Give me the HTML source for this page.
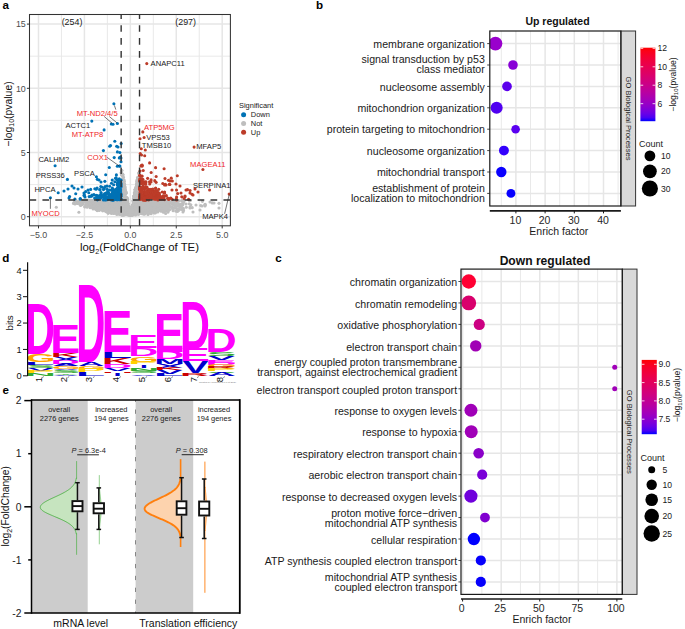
<!DOCTYPE html><html><head><meta charset="utf-8"><style>html,body{margin:0;padding:0;background:#fff;width:685px;height:629px;overflow:hidden}svg{display:block;font-family:"Liberation Sans",sans-serif}</style></head><body>
<svg width="685" height="629" viewBox="0 0 685 629">
<rect width="685" height="629" fill="#fff"/>
<g>
<g stroke="#EBEBEB">
<line x1="61.46" y1="14.5" x2="61.46" y2="225.8" stroke="#E6E6E6" stroke-width="0.9"/>
<line x1="107.39" y1="14.5" x2="107.39" y2="225.8" stroke="#E6E6E6" stroke-width="0.9"/>
<line x1="153.31" y1="14.5" x2="153.31" y2="225.8" stroke="#E6E6E6" stroke-width="0.9"/>
<line x1="199.24" y1="14.5" x2="199.24" y2="225.8" stroke="#E6E6E6" stroke-width="0.9"/>
<line x1="29.5" y1="184.6" x2="230.4" y2="184.6" stroke="#E6E6E6" stroke-width="0.9"/>
<line x1="29.5" y1="120.4" x2="230.4" y2="120.4" stroke="#E6E6E6" stroke-width="0.9"/>
<line x1="29.5" y1="56.2" x2="230.4" y2="56.2" stroke="#E6E6E6" stroke-width="0.9"/>
<line x1="38.5" y1="14.5" x2="38.5" y2="225.8" stroke="#E6E6E6" stroke-width="1.5"/>
<line x1="84.42" y1="14.5" x2="84.42" y2="225.8" stroke="#E6E6E6" stroke-width="1.5"/>
<line x1="130.35" y1="14.5" x2="130.35" y2="225.8" stroke="#E6E6E6" stroke-width="1.5"/>
<line x1="176.28" y1="14.5" x2="176.28" y2="225.8" stroke="#E6E6E6" stroke-width="1.5"/>
<line x1="222.2" y1="14.5" x2="222.2" y2="225.8" stroke="#E6E6E6" stroke-width="1.5"/>
<line x1="29.5" y1="216.7" x2="230.4" y2="216.7" stroke="#E6E6E6" stroke-width="1.5"/>
<line x1="29.5" y1="152.5" x2="230.4" y2="152.5" stroke="#E6E6E6" stroke-width="1.5"/>
<line x1="29.5" y1="88.3" x2="230.4" y2="88.3" stroke="#E6E6E6" stroke-width="1.5"/>
<line x1="29.5" y1="24.1" x2="230.4" y2="24.1" stroke="#E6E6E6" stroke-width="1.5"/>
</g>
<clipPath id="cpa"><rect x="29.5" y="14.5" width="200.9" height="211.3"/></clipPath>
<g clip-path="url(#cpa)">
<g fill="#BEBEBE">
<circle cx="175.24" cy="205.06" r="1.55"/>
<circle cx="130.16" cy="214.55" r="1.55"/>
<circle cx="120.89" cy="202.65" r="1.55"/>
<circle cx="141.08" cy="200.56" r="1.55"/>
<circle cx="151.86" cy="207.5" r="1.55"/>
<circle cx="132.37" cy="207.36" r="1.55"/>
<circle cx="104.55" cy="202.53" r="1.55"/>
<circle cx="118.97" cy="202.9" r="1.55"/>
<circle cx="127.76" cy="203.43" r="1.55"/>
<circle cx="151.62" cy="200.45" r="1.55"/>
<circle cx="168.9" cy="207.2" r="1.55"/>
<circle cx="108.22" cy="211.34" r="1.55"/>
<circle cx="104.23" cy="201.55" r="1.55"/>
<circle cx="142.56" cy="203.42" r="1.55"/>
<circle cx="148.12" cy="206.59" r="1.55"/>
<circle cx="165.8" cy="204.41" r="1.55"/>
<circle cx="102.03" cy="207.02" r="1.55"/>
<circle cx="111.64" cy="211.56" r="1.55"/>
<circle cx="173.71" cy="203.62" r="1.55"/>
<circle cx="163.39" cy="201.76" r="1.55"/>
<circle cx="150.15" cy="208.7" r="1.55"/>
<circle cx="149.09" cy="205.83" r="1.55"/>
<circle cx="182.1" cy="204.05" r="1.55"/>
<circle cx="97.91" cy="206.35" r="1.55"/>
<circle cx="142.71" cy="200.74" r="1.55"/>
<circle cx="100.83" cy="204.43" r="1.55"/>
<circle cx="107.09" cy="200.67" r="1.55"/>
<circle cx="121.14" cy="202.92" r="1.55"/>
<circle cx="121.21" cy="209.23" r="1.55"/>
<circle cx="98.43" cy="206.43" r="1.55"/>
<circle cx="108.31" cy="201.18" r="1.55"/>
<circle cx="159.71" cy="206.46" r="1.55"/>
<circle cx="109.53" cy="204.5" r="1.55"/>
<circle cx="121.12" cy="205.41" r="1.55"/>
<circle cx="173.06" cy="208.46" r="1.55"/>
<circle cx="157.4" cy="201" r="1.55"/>
<circle cx="155.74" cy="207.17" r="1.55"/>
<circle cx="133.79" cy="203.66" r="1.55"/>
<circle cx="135.69" cy="211.23" r="1.55"/>
<circle cx="80.56" cy="205.55" r="1.55"/>
<circle cx="89.93" cy="205.24" r="1.55"/>
<circle cx="152.75" cy="209.16" r="1.55"/>
<circle cx="158.2" cy="207.54" r="1.55"/>
<circle cx="80.68" cy="202.09" r="1.55"/>
<circle cx="115.3" cy="208.13" r="1.55"/>
<circle cx="130.66" cy="213.85" r="1.55"/>
<circle cx="139.53" cy="206.04" r="1.55"/>
<circle cx="115.85" cy="207.18" r="1.55"/>
<circle cx="159.68" cy="210.06" r="1.55"/>
<circle cx="124.81" cy="201.94" r="1.55"/>
<circle cx="113.64" cy="213.04" r="1.55"/>
<circle cx="91.83" cy="207.5" r="1.55"/>
<circle cx="106.31" cy="203.29" r="1.55"/>
<circle cx="150.33" cy="212.67" r="1.55"/>
<circle cx="114.88" cy="206.84" r="1.55"/>
<circle cx="147.52" cy="201.02" r="1.55"/>
<circle cx="133.53" cy="201.42" r="1.55"/>
<circle cx="124.03" cy="185.68" r="1.55"/>
<circle cx="152.39" cy="208.1" r="1.55"/>
<circle cx="97.38" cy="209.05" r="1.55"/>
<circle cx="117.98" cy="200.46" r="1.55"/>
<circle cx="134.75" cy="200.13" r="1.55"/>
<circle cx="77.4" cy="203.09" r="1.55"/>
<circle cx="166.03" cy="205.75" r="1.55"/>
<circle cx="106.54" cy="200.38" r="1.55"/>
<circle cx="111.24" cy="201.45" r="1.55"/>
<circle cx="147.1" cy="209.84" r="1.55"/>
<circle cx="160.11" cy="208.15" r="1.55"/>
<circle cx="141.33" cy="211.07" r="1.55"/>
<circle cx="109.77" cy="203.07" r="1.55"/>
<circle cx="131.19" cy="211.14" r="1.55"/>
<circle cx="106.09" cy="205.84" r="1.55"/>
<circle cx="121.81" cy="174.23" r="1.55"/>
<circle cx="124.6" cy="204.56" r="1.55"/>
<circle cx="94.24" cy="201.08" r="1.55"/>
<circle cx="111.06" cy="209.66" r="1.55"/>
<circle cx="109.3" cy="200.36" r="1.55"/>
<circle cx="165.66" cy="213.43" r="1.55"/>
<circle cx="178.81" cy="209.27" r="1.55"/>
<circle cx="127.11" cy="200.3" r="1.55"/>
<circle cx="92.38" cy="200.43" r="1.55"/>
<circle cx="158.12" cy="200.87" r="1.55"/>
<circle cx="161.55" cy="208.36" r="1.55"/>
<circle cx="153.18" cy="200.65" r="1.55"/>
<circle cx="113.11" cy="210.84" r="1.55"/>
<circle cx="110.54" cy="201.38" r="1.55"/>
<circle cx="138.22" cy="204.14" r="1.55"/>
<circle cx="149.86" cy="205.22" r="1.55"/>
<circle cx="97.03" cy="204.27" r="1.55"/>
<circle cx="139.95" cy="210.62" r="1.55"/>
<circle cx="166.12" cy="208.23" r="1.55"/>
<circle cx="77.32" cy="203.25" r="1.55"/>
<circle cx="94.34" cy="207.44" r="1.55"/>
<circle cx="88.68" cy="202.05" r="1.55"/>
<circle cx="106.7" cy="201.1" r="1.55"/>
<circle cx="87.46" cy="201.4" r="1.55"/>
<circle cx="134.81" cy="194.92" r="1.55"/>
<circle cx="179.18" cy="205.32" r="1.55"/>
<circle cx="119.88" cy="202.16" r="1.55"/>
<circle cx="125.22" cy="199.96" r="1.55"/>
<circle cx="122.68" cy="203.5" r="1.55"/>
<circle cx="120.65" cy="201.29" r="1.55"/>
<circle cx="123.08" cy="176.91" r="1.55"/>
<circle cx="121.92" cy="199.83" r="1.55"/>
<circle cx="141.32" cy="207.56" r="1.55"/>
<circle cx="136.27" cy="195.59" r="1.55"/>
<circle cx="105.68" cy="207.19" r="1.55"/>
<circle cx="155.69" cy="208.77" r="1.55"/>
<circle cx="122.34" cy="174.82" r="1.55"/>
<circle cx="163.5" cy="209.38" r="1.55"/>
<circle cx="139.51" cy="177.17" r="1.55"/>
<circle cx="118.74" cy="208.69" r="1.55"/>
<circle cx="97.32" cy="200.6" r="1.55"/>
<circle cx="117.82" cy="212.27" r="1.55"/>
<circle cx="117.36" cy="208.69" r="1.55"/>
<circle cx="149.12" cy="204.25" r="1.55"/>
<circle cx="130.12" cy="214.4" r="1.55"/>
<circle cx="107.34" cy="200.77" r="1.55"/>
<circle cx="108.7" cy="205.41" r="1.55"/>
<circle cx="150.41" cy="206.17" r="1.55"/>
<circle cx="136.37" cy="208.03" r="1.55"/>
<circle cx="149.08" cy="207.24" r="1.55"/>
<circle cx="178.68" cy="206.31" r="1.55"/>
<circle cx="140.61" cy="200.95" r="1.55"/>
<circle cx="123.02" cy="183.57" r="1.55"/>
<circle cx="143.25" cy="212.32" r="1.55"/>
<circle cx="120.11" cy="212.63" r="1.55"/>
<circle cx="104.08" cy="203.97" r="1.55"/>
<circle cx="113.71" cy="203.83" r="1.55"/>
<circle cx="122.6" cy="191.88" r="1.55"/>
<circle cx="115.91" cy="204.47" r="1.55"/>
<circle cx="137.38" cy="211.48" r="1.55"/>
<circle cx="149.53" cy="203.35" r="1.55"/>
<circle cx="110.98" cy="211.98" r="1.55"/>
<circle cx="141.4" cy="204.66" r="1.55"/>
<circle cx="141.31" cy="208.03" r="1.55"/>
<circle cx="129.65" cy="213.18" r="1.55"/>
<circle cx="144.53" cy="210.83" r="1.55"/>
<circle cx="147.23" cy="206.52" r="1.55"/>
<circle cx="149.39" cy="205.71" r="1.55"/>
<circle cx="90" cy="206.13" r="1.55"/>
<circle cx="134.06" cy="201.3" r="1.55"/>
<circle cx="111.36" cy="201.91" r="1.55"/>
<circle cx="183.41" cy="208.89" r="1.55"/>
<circle cx="122.77" cy="174.69" r="1.55"/>
<circle cx="141.23" cy="201.2" r="1.55"/>
<circle cx="136.57" cy="211.53" r="1.55"/>
<circle cx="127.88" cy="207.89" r="1.55"/>
<circle cx="123.56" cy="190.83" r="1.55"/>
<circle cx="178.39" cy="210.7" r="1.55"/>
<circle cx="80.8" cy="202.32" r="1.55"/>
<circle cx="112.25" cy="201.12" r="1.55"/>
<circle cx="109.86" cy="209.54" r="1.55"/>
<circle cx="182.69" cy="205.03" r="1.55"/>
<circle cx="89.34" cy="204.82" r="1.55"/>
<circle cx="161.1" cy="210.02" r="1.55"/>
<circle cx="106.42" cy="202.57" r="1.55"/>
<circle cx="116.27" cy="200.14" r="1.55"/>
<circle cx="159.28" cy="204.09" r="1.55"/>
<circle cx="123.95" cy="197.83" r="1.55"/>
<circle cx="117.32" cy="201.53" r="1.55"/>
<circle cx="111.47" cy="201.36" r="1.55"/>
<circle cx="155.34" cy="201.77" r="1.55"/>
<circle cx="153.73" cy="211.38" r="1.55"/>
<circle cx="139.3" cy="198.42" r="1.55"/>
<circle cx="105.72" cy="208.34" r="1.55"/>
<circle cx="160.97" cy="209.52" r="1.55"/>
<circle cx="102.01" cy="208.49" r="1.55"/>
<circle cx="86.38" cy="200.02" r="1.55"/>
<circle cx="101.75" cy="205.87" r="1.55"/>
<circle cx="139.88" cy="201.28" r="1.55"/>
<circle cx="138.95" cy="194.58" r="1.55"/>
<circle cx="159.01" cy="203.85" r="1.55"/>
<circle cx="109.8" cy="205.98" r="1.55"/>
<circle cx="101.07" cy="209.49" r="1.55"/>
<circle cx="159.27" cy="203.69" r="1.55"/>
<circle cx="127.54" cy="202.99" r="1.55"/>
<circle cx="135.72" cy="189.62" r="1.55"/>
<circle cx="146.34" cy="203.01" r="1.55"/>
<circle cx="144.93" cy="213.89" r="1.55"/>
<circle cx="149.74" cy="202.81" r="1.55"/>
<circle cx="112.66" cy="204.2" r="1.55"/>
<circle cx="127.49" cy="206.7" r="1.55"/>
<circle cx="116.76" cy="205.21" r="1.55"/>
<circle cx="104.12" cy="206.16" r="1.55"/>
<circle cx="128.7" cy="209.75" r="1.55"/>
<circle cx="172.16" cy="200.56" r="1.55"/>
<circle cx="152.91" cy="209.89" r="1.55"/>
<circle cx="96.49" cy="203.24" r="1.55"/>
<circle cx="112.82" cy="208.97" r="1.55"/>
<circle cx="110.63" cy="210.43" r="1.55"/>
<circle cx="126.86" cy="204.74" r="1.55"/>
<circle cx="146.23" cy="209.36" r="1.55"/>
<circle cx="138" cy="208.54" r="1.55"/>
<circle cx="132.44" cy="209.81" r="1.55"/>
<circle cx="166.08" cy="203.14" r="1.55"/>
<circle cx="147.89" cy="203.28" r="1.55"/>
<circle cx="172.45" cy="207.01" r="1.55"/>
<circle cx="144.41" cy="205.15" r="1.55"/>
<circle cx="137.57" cy="185.24" r="1.55"/>
<circle cx="146.33" cy="206.38" r="1.55"/>
<circle cx="109.81" cy="210.53" r="1.55"/>
<circle cx="165.42" cy="202.31" r="1.55"/>
<circle cx="160.63" cy="202.89" r="1.55"/>
<circle cx="131.75" cy="208.46" r="1.55"/>
<circle cx="133.22" cy="210.67" r="1.55"/>
<circle cx="140.63" cy="204.59" r="1.55"/>
<circle cx="112.01" cy="205.62" r="1.55"/>
<circle cx="111.79" cy="211.54" r="1.55"/>
<circle cx="158.86" cy="206.4" r="1.55"/>
<circle cx="146.7" cy="207.33" r="1.55"/>
<circle cx="87.9" cy="201.56" r="1.55"/>
<circle cx="108.87" cy="204.69" r="1.55"/>
<circle cx="186.25" cy="207.29" r="1.55"/>
<circle cx="144.57" cy="204.67" r="1.55"/>
<circle cx="205.04" cy="205.29" r="1.55"/>
<circle cx="165.29" cy="208.87" r="1.55"/>
<circle cx="118.96" cy="208.23" r="1.55"/>
<circle cx="109.1" cy="202.51" r="1.55"/>
<circle cx="117.12" cy="201.18" r="1.55"/>
<circle cx="140.97" cy="201.5" r="1.55"/>
<circle cx="123.51" cy="201.01" r="1.55"/>
<circle cx="181.37" cy="203.79" r="1.55"/>
<circle cx="156.57" cy="204.12" r="1.55"/>
<circle cx="112.64" cy="207.95" r="1.55"/>
<circle cx="120.72" cy="200.63" r="1.55"/>
<circle cx="142.74" cy="206.01" r="1.55"/>
<circle cx="113.82" cy="208.85" r="1.55"/>
<circle cx="155.25" cy="207.3" r="1.55"/>
<circle cx="99.34" cy="207.73" r="1.55"/>
<circle cx="153.68" cy="200.32" r="1.55"/>
<circle cx="119.31" cy="204.34" r="1.55"/>
<circle cx="147.4" cy="210.39" r="1.55"/>
<circle cx="159.55" cy="201" r="1.55"/>
<circle cx="173.1" cy="210.72" r="1.55"/>
<circle cx="127.51" cy="204.9" r="1.55"/>
<circle cx="144.86" cy="206.11" r="1.55"/>
<circle cx="119.5" cy="205.13" r="1.55"/>
<circle cx="144.76" cy="211.58" r="1.55"/>
<circle cx="104.82" cy="200.93" r="1.55"/>
<circle cx="161.47" cy="205.08" r="1.55"/>
<circle cx="160.74" cy="210.96" r="1.55"/>
<circle cx="121.05" cy="212.27" r="1.55"/>
<circle cx="113.6" cy="213.38" r="1.55"/>
<circle cx="120.09" cy="207.07" r="1.55"/>
<circle cx="166.38" cy="200.83" r="1.55"/>
<circle cx="144.72" cy="210.77" r="1.55"/>
<circle cx="115.79" cy="212.26" r="1.55"/>
<circle cx="103.5" cy="201" r="1.55"/>
<circle cx="127.98" cy="206.48" r="1.55"/>
<circle cx="145.24" cy="206.4" r="1.55"/>
<circle cx="106.57" cy="206.23" r="1.55"/>
<circle cx="108.68" cy="200.21" r="1.55"/>
<circle cx="126.71" cy="201.77" r="1.55"/>
<circle cx="126.11" cy="208.44" r="1.55"/>
<circle cx="122.15" cy="192.3" r="1.55"/>
<circle cx="128.65" cy="209.61" r="1.55"/>
<circle cx="144.76" cy="204.14" r="1.55"/>
<circle cx="175.06" cy="207.24" r="1.55"/>
<circle cx="154.7" cy="201.28" r="1.55"/>
<circle cx="116.13" cy="208.27" r="1.55"/>
<circle cx="151.35" cy="204.49" r="1.55"/>
<circle cx="143.93" cy="208.88" r="1.55"/>
<circle cx="176.64" cy="210.44" r="1.55"/>
<circle cx="152.61" cy="206.3" r="1.55"/>
<circle cx="115.92" cy="202.61" r="1.55"/>
<circle cx="111.49" cy="205.71" r="1.55"/>
<circle cx="100.54" cy="206.66" r="1.55"/>
<circle cx="140.26" cy="207.85" r="1.55"/>
<circle cx="145.16" cy="200.5" r="1.55"/>
<circle cx="117.89" cy="205.14" r="1.55"/>
<circle cx="129.18" cy="212.8" r="1.55"/>
<circle cx="108.55" cy="209.46" r="1.55"/>
<circle cx="105.86" cy="207.71" r="1.55"/>
<circle cx="77.37" cy="203.35" r="1.55"/>
<circle cx="116.64" cy="204.13" r="1.55"/>
<circle cx="142.75" cy="204.41" r="1.55"/>
<circle cx="97" cy="200.27" r="1.55"/>
<circle cx="142.31" cy="208.41" r="1.55"/>
<circle cx="129.89" cy="212.86" r="1.55"/>
<circle cx="167.51" cy="202" r="1.55"/>
<circle cx="160.65" cy="200.14" r="1.55"/>
<circle cx="141.27" cy="202.35" r="1.55"/>
<circle cx="140.73" cy="210.93" r="1.55"/>
<circle cx="218.98" cy="203.36" r="1.55"/>
<circle cx="101.14" cy="205.23" r="1.55"/>
<circle cx="93.85" cy="200.71" r="1.55"/>
<circle cx="115.18" cy="207.31" r="1.55"/>
<circle cx="152.5" cy="203.63" r="1.55"/>
<circle cx="120.49" cy="202.25" r="1.55"/>
<circle cx="115.15" cy="202.17" r="1.55"/>
<circle cx="181.8" cy="200.44" r="1.55"/>
<circle cx="156.29" cy="205.06" r="1.55"/>
<circle cx="146.18" cy="203.25" r="1.55"/>
<circle cx="153.59" cy="208.87" r="1.55"/>
<circle cx="113.02" cy="202.49" r="1.55"/>
<circle cx="118.59" cy="200.49" r="1.55"/>
<circle cx="147.51" cy="201.08" r="1.55"/>
<circle cx="115.38" cy="206.77" r="1.55"/>
<circle cx="97.94" cy="203.53" r="1.55"/>
<circle cx="145.09" cy="212.58" r="1.55"/>
<circle cx="161.7" cy="205.96" r="1.55"/>
<circle cx="152.31" cy="203.22" r="1.55"/>
<circle cx="147.76" cy="204.25" r="1.55"/>
<circle cx="142.53" cy="203.14" r="1.55"/>
<circle cx="147.85" cy="212.22" r="1.55"/>
<circle cx="130.58" cy="215.26" r="1.55"/>
<circle cx="120.55" cy="204.2" r="1.55"/>
<circle cx="154.18" cy="209.69" r="1.55"/>
<circle cx="119.98" cy="200.22" r="1.55"/>
<circle cx="126.68" cy="214.01" r="1.55"/>
<circle cx="176.43" cy="205.89" r="1.55"/>
<circle cx="107.91" cy="203.01" r="1.55"/>
<circle cx="143.19" cy="204" r="1.55"/>
<circle cx="136.79" cy="185.77" r="1.55"/>
<circle cx="164.38" cy="204.91" r="1.55"/>
<circle cx="134.65" cy="199.06" r="1.55"/>
<circle cx="147.75" cy="208.17" r="1.55"/>
<circle cx="129.21" cy="210.5" r="1.55"/>
<circle cx="124.33" cy="184.13" r="1.55"/>
<circle cx="133.14" cy="208.41" r="1.55"/>
<circle cx="111.3" cy="210.47" r="1.55"/>
<circle cx="128.12" cy="210.17" r="1.55"/>
<circle cx="142.75" cy="201.04" r="1.55"/>
<circle cx="134.02" cy="207.69" r="1.55"/>
<circle cx="168.2" cy="205.31" r="1.55"/>
<circle cx="124.32" cy="186.54" r="1.55"/>
<circle cx="101.13" cy="204.71" r="1.55"/>
<circle cx="118.56" cy="204.18" r="1.55"/>
<circle cx="134.62" cy="203.12" r="1.55"/>
<circle cx="113.3" cy="203.13" r="1.55"/>
<circle cx="166.57" cy="207.06" r="1.55"/>
<circle cx="124.53" cy="186.43" r="1.55"/>
<circle cx="132.95" cy="212.38" r="1.55"/>
<circle cx="158.85" cy="208.72" r="1.55"/>
<circle cx="104.59" cy="201.23" r="1.55"/>
<circle cx="136.12" cy="208.78" r="1.55"/>
<circle cx="120.16" cy="205" r="1.55"/>
<circle cx="204.97" cy="204.62" r="1.55"/>
<circle cx="92.42" cy="204.65" r="1.55"/>
<circle cx="160.06" cy="207.57" r="1.55"/>
<circle cx="154.8" cy="212.36" r="1.55"/>
<circle cx="141.13" cy="205.71" r="1.55"/>
<circle cx="143.34" cy="202.34" r="1.55"/>
<circle cx="123.98" cy="205.63" r="1.55"/>
<circle cx="164.07" cy="200.25" r="1.55"/>
<circle cx="152.3" cy="204.76" r="1.55"/>
<circle cx="142.63" cy="206.17" r="1.55"/>
<circle cx="144.15" cy="203.42" r="1.55"/>
<circle cx="115.29" cy="205.12" r="1.55"/>
<circle cx="139.56" cy="203.48" r="1.55"/>
<circle cx="133.77" cy="203.37" r="1.55"/>
<circle cx="134.2" cy="209.02" r="1.55"/>
<circle cx="109.23" cy="207.37" r="1.55"/>
<circle cx="93.53" cy="207.62" r="1.55"/>
<circle cx="107.53" cy="202.39" r="1.55"/>
<circle cx="91.91" cy="200.79" r="1.55"/>
<circle cx="121.64" cy="197.73" r="1.55"/>
<circle cx="160.68" cy="209.42" r="1.55"/>
<circle cx="115.32" cy="203.77" r="1.55"/>
<circle cx="166.12" cy="201.68" r="1.55"/>
<circle cx="109.52" cy="201.51" r="1.55"/>
<circle cx="119.15" cy="204.58" r="1.55"/>
<circle cx="134.18" cy="206.6" r="1.55"/>
<circle cx="124.09" cy="181.29" r="1.55"/>
<circle cx="120.32" cy="204.27" r="1.55"/>
<circle cx="116.71" cy="204.72" r="1.55"/>
<circle cx="105.33" cy="201.26" r="1.55"/>
<circle cx="116.79" cy="200.05" r="1.55"/>
<circle cx="88.99" cy="204.07" r="1.55"/>
<circle cx="189.32" cy="200.54" r="1.55"/>
<circle cx="143.54" cy="203.87" r="1.55"/>
<circle cx="112.36" cy="201.28" r="1.55"/>
<circle cx="123.22" cy="181.95" r="1.55"/>
<circle cx="150.59" cy="209.64" r="1.55"/>
<circle cx="146.62" cy="203.76" r="1.55"/>
<circle cx="110.83" cy="200.94" r="1.55"/>
<circle cx="157.65" cy="203.6" r="1.55"/>
<circle cx="118.59" cy="200.61" r="1.55"/>
<circle cx="140.99" cy="207.02" r="1.55"/>
<circle cx="78.78" cy="201.38" r="1.55"/>
<circle cx="125.49" cy="205.38" r="1.55"/>
<circle cx="115.04" cy="206.15" r="1.55"/>
<circle cx="164.61" cy="203.54" r="1.55"/>
<circle cx="147.84" cy="202.6" r="1.55"/>
<circle cx="130.89" cy="213.11" r="1.55"/>
<circle cx="156.46" cy="206.65" r="1.55"/>
<circle cx="126.65" cy="204.82" r="1.55"/>
<circle cx="112.1" cy="200.91" r="1.55"/>
<circle cx="124.34" cy="207.41" r="1.55"/>
<circle cx="95.73" cy="206.55" r="1.55"/>
<circle cx="137.09" cy="188.2" r="1.55"/>
<circle cx="166.5" cy="210.51" r="1.55"/>
<circle cx="113.6" cy="204.39" r="1.55"/>
<circle cx="128.31" cy="207.29" r="1.55"/>
<circle cx="128.39" cy="211.23" r="1.55"/>
<circle cx="143.87" cy="210.65" r="1.55"/>
<circle cx="159.05" cy="203.21" r="1.55"/>
<circle cx="165.71" cy="200.31" r="1.55"/>
<circle cx="99.51" cy="207" r="1.55"/>
<circle cx="136.96" cy="180.06" r="1.55"/>
<circle cx="164.68" cy="209.12" r="1.55"/>
<circle cx="142.9" cy="205.72" r="1.55"/>
<circle cx="101.74" cy="205.07" r="1.55"/>
<circle cx="161.18" cy="208.44" r="1.55"/>
<circle cx="182.77" cy="201.37" r="1.55"/>
<circle cx="117.9" cy="208.96" r="1.55"/>
<circle cx="119.39" cy="207" r="1.55"/>
<circle cx="101.72" cy="202.58" r="1.55"/>
<circle cx="142.58" cy="202.41" r="1.55"/>
<circle cx="100.6" cy="205.31" r="1.55"/>
<circle cx="112.31" cy="210.76" r="1.55"/>
<circle cx="142.65" cy="207.37" r="1.55"/>
<circle cx="98.28" cy="204.01" r="1.55"/>
<circle cx="118.55" cy="204.8" r="1.55"/>
<circle cx="202.39" cy="201.37" r="1.55"/>
<circle cx="107.99" cy="202.49" r="1.55"/>
<circle cx="111.07" cy="202.53" r="1.55"/>
<circle cx="132.19" cy="207.78" r="1.55"/>
<circle cx="139.5" cy="195.1" r="1.55"/>
<circle cx="140.57" cy="204.99" r="1.55"/>
<circle cx="93.13" cy="202.37" r="1.55"/>
<circle cx="141.81" cy="204.04" r="1.55"/>
<circle cx="120.95" cy="200.79" r="1.55"/>
<circle cx="109.48" cy="205.43" r="1.55"/>
<circle cx="115.4" cy="203.92" r="1.55"/>
<circle cx="151.1" cy="202.31" r="1.55"/>
<circle cx="110.83" cy="200.05" r="1.55"/>
<circle cx="165.49" cy="207.9" r="1.55"/>
<circle cx="135.57" cy="206.87" r="1.55"/>
<circle cx="116.91" cy="203.49" r="1.55"/>
<circle cx="116.68" cy="200.11" r="1.55"/>
<circle cx="120.5" cy="204.47" r="1.55"/>
<circle cx="123.24" cy="198.25" r="1.55"/>
<circle cx="161.56" cy="206.25" r="1.55"/>
<circle cx="153.24" cy="206.87" r="1.55"/>
<circle cx="156.58" cy="208.35" r="1.55"/>
<circle cx="120.97" cy="200.4" r="1.55"/>
<circle cx="117.19" cy="208.3" r="1.55"/>
<circle cx="140.3" cy="207.45" r="1.55"/>
<circle cx="141.71" cy="204.18" r="1.55"/>
<circle cx="156.32" cy="210.7" r="1.55"/>
<circle cx="146.74" cy="205.08" r="1.55"/>
<circle cx="115.21" cy="201.46" r="1.55"/>
<circle cx="128.99" cy="214.33" r="1.55"/>
<circle cx="148.63" cy="203.31" r="1.55"/>
<circle cx="173.13" cy="203.21" r="1.55"/>
<circle cx="160.46" cy="204.35" r="1.55"/>
<circle cx="153.72" cy="208.67" r="1.55"/>
<circle cx="96.33" cy="205.76" r="1.55"/>
<circle cx="113.13" cy="207.88" r="1.55"/>
<circle cx="153.61" cy="203.15" r="1.55"/>
<circle cx="183.52" cy="210.58" r="1.55"/>
<circle cx="142.63" cy="204.35" r="1.55"/>
<circle cx="205.18" cy="204.18" r="1.55"/>
<circle cx="115.92" cy="200.21" r="1.55"/>
<circle cx="110.45" cy="200.79" r="1.55"/>
<circle cx="95.64" cy="209.21" r="1.55"/>
<circle cx="178.6" cy="203.81" r="1.55"/>
<circle cx="128.11" cy="211.38" r="1.55"/>
<circle cx="127.04" cy="212" r="1.55"/>
<circle cx="127.27" cy="208.42" r="1.55"/>
<circle cx="107.53" cy="204.14" r="1.55"/>
<circle cx="154.8" cy="211.88" r="1.55"/>
<circle cx="106.18" cy="205.97" r="1.55"/>
<circle cx="108.32" cy="206.41" r="1.55"/>
<circle cx="107.39" cy="201.83" r="1.55"/>
<circle cx="151.27" cy="206.52" r="1.55"/>
<circle cx="150.37" cy="211.56" r="1.55"/>
<circle cx="140.02" cy="209.34" r="1.55"/>
<circle cx="138.3" cy="191.52" r="1.55"/>
<circle cx="139.98" cy="210.27" r="1.55"/>
<circle cx="115.45" cy="212.15" r="1.55"/>
<circle cx="114.58" cy="212.81" r="1.55"/>
<circle cx="104.68" cy="202.53" r="1.55"/>
<circle cx="140.46" cy="211.5" r="1.55"/>
<circle cx="136.04" cy="192.51" r="1.55"/>
<circle cx="147.23" cy="200.84" r="1.55"/>
<circle cx="121.05" cy="202.81" r="1.55"/>
<circle cx="167.21" cy="205.14" r="1.55"/>
<circle cx="135.43" cy="193.12" r="1.55"/>
<circle cx="110.21" cy="200.18" r="1.55"/>
<circle cx="161.19" cy="211.07" r="1.55"/>
<circle cx="74.5" cy="200.79" r="1.55"/>
<circle cx="168.43" cy="205.6" r="1.55"/>
<circle cx="121.73" cy="193.72" r="1.55"/>
<circle cx="110.81" cy="204.58" r="1.55"/>
<circle cx="149.94" cy="202.9" r="1.55"/>
<circle cx="119.64" cy="203.43" r="1.55"/>
<circle cx="114.64" cy="202.93" r="1.55"/>
<circle cx="114.97" cy="202.29" r="1.55"/>
<circle cx="153.55" cy="201.97" r="1.55"/>
<circle cx="137.58" cy="197.99" r="1.55"/>
<circle cx="123.21" cy="209.06" r="1.55"/>
<circle cx="154.45" cy="210.28" r="1.55"/>
<circle cx="118.06" cy="204.93" r="1.55"/>
<circle cx="107.92" cy="201.06" r="1.55"/>
<circle cx="155.19" cy="205.88" r="1.55"/>
<circle cx="91.76" cy="205.48" r="1.55"/>
<circle cx="107.05" cy="208.29" r="1.55"/>
<circle cx="142.88" cy="201.67" r="1.55"/>
<circle cx="159.36" cy="201.87" r="1.55"/>
<circle cx="123.39" cy="177.28" r="1.55"/>
<circle cx="98.2" cy="200.56" r="1.55"/>
<circle cx="109.86" cy="203.46" r="1.55"/>
<circle cx="112.7" cy="201.51" r="1.55"/>
<circle cx="159.02" cy="200.51" r="1.55"/>
<circle cx="131.9" cy="206.97" r="1.55"/>
<circle cx="131.7" cy="212.01" r="1.55"/>
<circle cx="165.41" cy="209.02" r="1.55"/>
<circle cx="124.28" cy="191.33" r="1.55"/>
<circle cx="112.9" cy="208.44" r="1.55"/>
<circle cx="99.81" cy="202.14" r="1.55"/>
<circle cx="130.52" cy="214.77" r="1.55"/>
<circle cx="93.79" cy="200.16" r="1.55"/>
<circle cx="105.17" cy="205.58" r="1.55"/>
<circle cx="104.84" cy="202.63" r="1.55"/>
<circle cx="116.34" cy="206.79" r="1.55"/>
<circle cx="146.86" cy="207.6" r="1.55"/>
<circle cx="127.03" cy="198.78" r="1.55"/>
<circle cx="126.43" cy="209.77" r="1.55"/>
<circle cx="99.82" cy="209.8" r="1.55"/>
<circle cx="129.6" cy="213.22" r="1.55"/>
<circle cx="149.34" cy="209.81" r="1.55"/>
<circle cx="121.88" cy="185.56" r="1.55"/>
<circle cx="110.14" cy="203.26" r="1.55"/>
<circle cx="154.84" cy="205.93" r="1.55"/>
<circle cx="147.32" cy="210.13" r="1.55"/>
<circle cx="129.08" cy="209.18" r="1.55"/>
<circle cx="111.92" cy="206.22" r="1.55"/>
<circle cx="123.94" cy="179.99" r="1.55"/>
<circle cx="140.09" cy="204.4" r="1.55"/>
<circle cx="145.94" cy="205.62" r="1.55"/>
<circle cx="173.27" cy="208.98" r="1.55"/>
<circle cx="143.1" cy="212.36" r="1.55"/>
<circle cx="127.46" cy="204.55" r="1.55"/>
<circle cx="106.21" cy="210.86" r="1.55"/>
<circle cx="158.61" cy="207.88" r="1.55"/>
<circle cx="153.99" cy="212.87" r="1.55"/>
<circle cx="151.87" cy="208.44" r="1.55"/>
<circle cx="127.64" cy="205.71" r="1.55"/>
<circle cx="95.44" cy="203.11" r="1.55"/>
<circle cx="123.25" cy="200.05" r="1.55"/>
<circle cx="117.76" cy="212.85" r="1.55"/>
<circle cx="153.51" cy="203.44" r="1.55"/>
<circle cx="76.29" cy="200.87" r="1.55"/>
<circle cx="116.95" cy="205.05" r="1.55"/>
<circle cx="158.2" cy="210.5" r="1.55"/>
<circle cx="113.63" cy="206.58" r="1.55"/>
<circle cx="164.24" cy="202.02" r="1.55"/>
<circle cx="87.2" cy="207.31" r="1.55"/>
<circle cx="113.7" cy="208.52" r="1.55"/>
<circle cx="112.24" cy="207.66" r="1.55"/>
<circle cx="117.11" cy="208.56" r="1.55"/>
<circle cx="102.52" cy="204.85" r="1.55"/>
<circle cx="121.49" cy="207.05" r="1.55"/>
<circle cx="88.05" cy="202.09" r="1.55"/>
<circle cx="129.57" cy="212.3" r="1.55"/>
<circle cx="147.29" cy="209.86" r="1.55"/>
<circle cx="105.56" cy="203.19" r="1.55"/>
<circle cx="116.64" cy="209.05" r="1.55"/>
<circle cx="84.3" cy="201.62" r="1.55"/>
<circle cx="117.87" cy="204.78" r="1.55"/>
<circle cx="128.86" cy="207.42" r="1.55"/>
<circle cx="144.65" cy="202.19" r="1.55"/>
<circle cx="140.23" cy="210.79" r="1.55"/>
<circle cx="121.79" cy="189.26" r="1.55"/>
<circle cx="96.15" cy="204.75" r="1.55"/>
<circle cx="142.04" cy="213.67" r="1.55"/>
<circle cx="107.31" cy="200.85" r="1.55"/>
<circle cx="156.59" cy="200.33" r="1.55"/>
<circle cx="123.5" cy="187.52" r="1.55"/>
<circle cx="106.86" cy="200.84" r="1.55"/>
<circle cx="115.63" cy="204.33" r="1.55"/>
<circle cx="177.37" cy="211.54" r="1.55"/>
<circle cx="126.66" cy="202.87" r="1.55"/>
<circle cx="124.54" cy="209.33" r="1.55"/>
<circle cx="156.73" cy="205.32" r="1.55"/>
<circle cx="165.26" cy="200.24" r="1.55"/>
<circle cx="137.54" cy="180.29" r="1.55"/>
<circle cx="154.24" cy="203.85" r="1.55"/>
<circle cx="189.25" cy="203.72" r="1.55"/>
<circle cx="146.48" cy="210.11" r="1.55"/>
<circle cx="111.32" cy="201.36" r="1.55"/>
<circle cx="100.43" cy="204.75" r="1.55"/>
<circle cx="135.25" cy="214.2" r="1.55"/>
<circle cx="116.24" cy="209" r="1.55"/>
<circle cx="141.07" cy="204.89" r="1.55"/>
<circle cx="130.73" cy="214.23" r="1.55"/>
<circle cx="120.27" cy="210.48" r="1.55"/>
<circle cx="105.11" cy="205.07" r="1.55"/>
<circle cx="121.03" cy="203.92" r="1.55"/>
<circle cx="125.95" cy="209.73" r="1.55"/>
<circle cx="183.11" cy="203.42" r="1.55"/>
<circle cx="142.92" cy="200.34" r="1.55"/>
<circle cx="112.99" cy="209.74" r="1.55"/>
<circle cx="108.06" cy="207.15" r="1.55"/>
<circle cx="175.51" cy="201.02" r="1.55"/>
<circle cx="156.42" cy="211.1" r="1.55"/>
<circle cx="132.61" cy="209.28" r="1.55"/>
<circle cx="140.23" cy="212.85" r="1.55"/>
<circle cx="168.18" cy="201.71" r="1.55"/>
<circle cx="75.59" cy="200.14" r="1.55"/>
<circle cx="141.95" cy="212.78" r="1.55"/>
<circle cx="83.09" cy="203.97" r="1.55"/>
<circle cx="105.41" cy="208.66" r="1.55"/>
<circle cx="116.07" cy="202.15" r="1.55"/>
<circle cx="127.05" cy="197.78" r="1.55"/>
<circle cx="167.63" cy="211.58" r="1.55"/>
<circle cx="143.61" cy="211.32" r="1.55"/>
<circle cx="142.5" cy="205" r="1.55"/>
<circle cx="153.68" cy="204.96" r="1.55"/>
<circle cx="124.65" cy="203.87" r="1.55"/>
<circle cx="149.41" cy="207.51" r="1.55"/>
<circle cx="142.41" cy="211.43" r="1.55"/>
<circle cx="144.14" cy="204.32" r="1.55"/>
<circle cx="117.17" cy="210.11" r="1.55"/>
<circle cx="167.61" cy="201.79" r="1.55"/>
<circle cx="113.76" cy="207.04" r="1.55"/>
<circle cx="102.89" cy="203.76" r="1.55"/>
<circle cx="116.28" cy="209.01" r="1.55"/>
<circle cx="146.45" cy="201.52" r="1.55"/>
<circle cx="122.7" cy="214.39" r="1.55"/>
<circle cx="112.79" cy="201.83" r="1.55"/>
<circle cx="135.41" cy="213.93" r="1.55"/>
<circle cx="142.99" cy="213.06" r="1.55"/>
<circle cx="142.65" cy="205.92" r="1.55"/>
<circle cx="115.11" cy="200.25" r="1.55"/>
<circle cx="115.77" cy="201.95" r="1.55"/>
<circle cx="132.94" cy="209.84" r="1.55"/>
<circle cx="162.33" cy="206.45" r="1.55"/>
<circle cx="158.08" cy="201.07" r="1.55"/>
<circle cx="118.3" cy="200.64" r="1.55"/>
<circle cx="93.07" cy="209.01" r="1.55"/>
<circle cx="138.5" cy="185.77" r="1.55"/>
<circle cx="109.8" cy="206.86" r="1.55"/>
<circle cx="108.03" cy="205.96" r="1.55"/>
<circle cx="118.01" cy="201.05" r="1.55"/>
<circle cx="127.32" cy="200.81" r="1.55"/>
<circle cx="110.5" cy="203.07" r="1.55"/>
<circle cx="111.01" cy="205.9" r="1.55"/>
<circle cx="137.57" cy="183.84" r="1.55"/>
<circle cx="138.75" cy="197.75" r="1.55"/>
<circle cx="167.88" cy="200.14" r="1.55"/>
<circle cx="154.09" cy="201.63" r="1.55"/>
<circle cx="181.22" cy="209.41" r="1.55"/>
<circle cx="82.32" cy="202.03" r="1.55"/>
<circle cx="154.99" cy="210.07" r="1.55"/>
<circle cx="128.73" cy="206.46" r="1.55"/>
<circle cx="109.17" cy="205.14" r="1.55"/>
<circle cx="137.6" cy="177.97" r="1.55"/>
<circle cx="97.62" cy="207.83" r="1.55"/>
<circle cx="109.8" cy="211.2" r="1.55"/>
<circle cx="145.38" cy="201.48" r="1.55"/>
<circle cx="107.14" cy="205.76" r="1.55"/>
<circle cx="163.32" cy="204.06" r="1.55"/>
<circle cx="155.43" cy="206.46" r="1.55"/>
<circle cx="146.12" cy="204.81" r="1.55"/>
<circle cx="91.91" cy="206.48" r="1.55"/>
<circle cx="119.24" cy="204.01" r="1.55"/>
<circle cx="157.63" cy="203.95" r="1.55"/>
<circle cx="106.27" cy="200.72" r="1.55"/>
<circle cx="119.32" cy="202.17" r="1.55"/>
<circle cx="118.22" cy="213.42" r="1.55"/>
<circle cx="118.84" cy="202.07" r="1.55"/>
<circle cx="148.35" cy="213.93" r="1.55"/>
<circle cx="121.88" cy="209.21" r="1.55"/>
<circle cx="137.58" cy="177.59" r="1.55"/>
<circle cx="127.09" cy="200.71" r="1.55"/>
<circle cx="98.78" cy="205.32" r="1.55"/>
<circle cx="113.84" cy="209.85" r="1.55"/>
<circle cx="105.32" cy="204.26" r="1.55"/>
<circle cx="167.98" cy="200.55" r="1.55"/>
<circle cx="155.27" cy="206.64" r="1.55"/>
<circle cx="172.81" cy="200.2" r="1.55"/>
<circle cx="127.84" cy="212.18" r="1.55"/>
<circle cx="111.55" cy="210.35" r="1.55"/>
<circle cx="119.95" cy="214.16" r="1.55"/>
<circle cx="116.74" cy="209.72" r="1.55"/>
<circle cx="173.49" cy="204.2" r="1.55"/>
<circle cx="153.58" cy="204.29" r="1.55"/>
<circle cx="156.74" cy="210.78" r="1.55"/>
<circle cx="139.3" cy="172.35" r="1.55"/>
<circle cx="158.87" cy="205.79" r="1.55"/>
<circle cx="107.08" cy="203.63" r="1.55"/>
<circle cx="96.44" cy="209.63" r="1.55"/>
<circle cx="118.93" cy="200.6" r="1.55"/>
<circle cx="74.82" cy="203.27" r="1.55"/>
<circle cx="117.38" cy="202.12" r="1.55"/>
<circle cx="84.95" cy="206.84" r="1.55"/>
<circle cx="153.7" cy="205.95" r="1.55"/>
<circle cx="118.1" cy="202.14" r="1.55"/>
<circle cx="144.9" cy="201.61" r="1.55"/>
<circle cx="104.87" cy="205.16" r="1.55"/>
<circle cx="181.38" cy="206.53" r="1.55"/>
<circle cx="121.36" cy="198.17" r="1.55"/>
<circle cx="140.87" cy="206" r="1.55"/>
<circle cx="128.21" cy="203.88" r="1.55"/>
<circle cx="152.95" cy="202.37" r="1.55"/>
<circle cx="108.11" cy="209.83" r="1.55"/>
<circle cx="121.12" cy="200.1" r="1.55"/>
<circle cx="147.59" cy="203.18" r="1.55"/>
<circle cx="129.64" cy="212.58" r="1.55"/>
<circle cx="136.2" cy="210.94" r="1.55"/>
<circle cx="108.89" cy="204.22" r="1.55"/>
<circle cx="102.55" cy="204.94" r="1.55"/>
<circle cx="123.07" cy="187.07" r="1.55"/>
<circle cx="169.29" cy="205.91" r="1.55"/>
<circle cx="128.32" cy="211.86" r="1.55"/>
<circle cx="121.59" cy="183.8" r="1.55"/>
<circle cx="145.2" cy="201.33" r="1.55"/>
<circle cx="151" cy="201.38" r="1.55"/>
<circle cx="136.51" cy="211.22" r="1.55"/>
<circle cx="113.58" cy="204.13" r="1.55"/>
<circle cx="138.5" cy="214.34" r="1.55"/>
<circle cx="116.52" cy="207.72" r="1.55"/>
<circle cx="147.58" cy="204.53" r="1.55"/>
<circle cx="140.98" cy="210.49" r="1.55"/>
<circle cx="131.35" cy="211.89" r="1.55"/>
<circle cx="123.36" cy="186.58" r="1.55"/>
<circle cx="150.91" cy="205.36" r="1.55"/>
<circle cx="170.52" cy="202.34" r="1.55"/>
<circle cx="138.54" cy="196.75" r="1.55"/>
<circle cx="137.65" cy="205.22" r="1.55"/>
<circle cx="170.52" cy="206.66" r="1.55"/>
<circle cx="90.71" cy="203.18" r="1.55"/>
<circle cx="108.34" cy="208.99" r="1.55"/>
<circle cx="153.35" cy="204.47" r="1.55"/>
<circle cx="141.78" cy="211.54" r="1.55"/>
<circle cx="133.72" cy="202.69" r="1.55"/>
<circle cx="140.4" cy="203.72" r="1.55"/>
<circle cx="90.67" cy="204.7" r="1.55"/>
<circle cx="120.51" cy="201.49" r="1.55"/>
<circle cx="100.92" cy="202.34" r="1.55"/>
<circle cx="124.73" cy="188.81" r="1.55"/>
<circle cx="109.04" cy="206.35" r="1.55"/>
<circle cx="167.15" cy="205.07" r="1.55"/>
<circle cx="110.93" cy="200.89" r="1.55"/>
<circle cx="144.29" cy="206.34" r="1.55"/>
<circle cx="146.7" cy="206.37" r="1.55"/>
<circle cx="157.75" cy="212.02" r="1.55"/>
<circle cx="143.75" cy="202.48" r="1.55"/>
<circle cx="118.7" cy="204.47" r="1.55"/>
<circle cx="110.75" cy="203.03" r="1.55"/>
<circle cx="147.25" cy="204.52" r="1.55"/>
<circle cx="114.82" cy="210.36" r="1.55"/>
<circle cx="111.4" cy="213.49" r="1.55"/>
<circle cx="176.65" cy="200.64" r="1.55"/>
<circle cx="138.85" cy="172.96" r="1.55"/>
<circle cx="93.77" cy="202.49" r="1.55"/>
<circle cx="118.02" cy="204.23" r="1.55"/>
<circle cx="152.38" cy="207.54" r="1.55"/>
<circle cx="133.73" cy="198.84" r="1.55"/>
<circle cx="192.24" cy="207.65" r="1.55"/>
<circle cx="106.41" cy="211.86" r="1.55"/>
<circle cx="146.3" cy="208.49" r="1.55"/>
<circle cx="130.91" cy="213.18" r="1.55"/>
<circle cx="113.19" cy="211.71" r="1.55"/>
<circle cx="122.11" cy="183.3" r="1.55"/>
<circle cx="129.06" cy="208.95" r="1.55"/>
<circle cx="135.88" cy="193.51" r="1.55"/>
<circle cx="119.08" cy="208.64" r="1.55"/>
<circle cx="118.65" cy="202.46" r="1.55"/>
<circle cx="166.26" cy="207.79" r="1.55"/>
<circle cx="116.94" cy="201.95" r="1.55"/>
<circle cx="112.41" cy="205.73" r="1.55"/>
<circle cx="164.74" cy="210.93" r="1.55"/>
<circle cx="117.65" cy="208.22" r="1.55"/>
<circle cx="118.29" cy="200.49" r="1.55"/>
<circle cx="157.46" cy="204.25" r="1.55"/>
<circle cx="121.71" cy="170.59" r="1.55"/>
<circle cx="99.17" cy="210.45" r="1.55"/>
<circle cx="149.53" cy="201.87" r="1.55"/>
<circle cx="123.04" cy="180.45" r="1.55"/>
<circle cx="124.56" cy="188.21" r="1.55"/>
<circle cx="119.85" cy="205.28" r="1.55"/>
<circle cx="155.17" cy="205.31" r="1.55"/>
<circle cx="118.83" cy="206.06" r="1.55"/>
<circle cx="115.22" cy="209.94" r="1.55"/>
<circle cx="164.61" cy="204.47" r="1.55"/>
<circle cx="97.95" cy="204.11" r="1.55"/>
<circle cx="150.94" cy="212.41" r="1.55"/>
<circle cx="102.41" cy="203.57" r="1.55"/>
<circle cx="117.16" cy="209.31" r="1.55"/>
<circle cx="114.57" cy="207.36" r="1.55"/>
<circle cx="163.36" cy="212.16" r="1.55"/>
<circle cx="110.1" cy="202.52" r="1.55"/>
<circle cx="128.5" cy="206.61" r="1.55"/>
<circle cx="125.95" cy="191.7" r="1.55"/>
<circle cx="104.83" cy="208.3" r="1.55"/>
<circle cx="150.12" cy="212.64" r="1.55"/>
<circle cx="113.61" cy="210.74" r="1.55"/>
<circle cx="135.31" cy="192.36" r="1.55"/>
<circle cx="131.14" cy="211.3" r="1.55"/>
<circle cx="145.33" cy="206.7" r="1.55"/>
<circle cx="128.5" cy="206.94" r="1.55"/>
<circle cx="94.63" cy="205.86" r="1.55"/>
<circle cx="178.6" cy="201.03" r="1.55"/>
<circle cx="147.1" cy="201.53" r="1.55"/>
<circle cx="118.73" cy="211.56" r="1.55"/>
<circle cx="160.76" cy="201.47" r="1.55"/>
<circle cx="93.33" cy="201.22" r="1.55"/>
<circle cx="177.23" cy="203.37" r="1.55"/>
<circle cx="93.88" cy="200.51" r="1.55"/>
<circle cx="121.41" cy="174.86" r="1.55"/>
<circle cx="147.24" cy="206.43" r="1.55"/>
<circle cx="105.85" cy="202.27" r="1.55"/>
<circle cx="133.43" cy="204.89" r="1.55"/>
<circle cx="127.73" cy="212.75" r="1.55"/>
<circle cx="138.36" cy="179.61" r="1.55"/>
<circle cx="141.29" cy="205.5" r="1.55"/>
<circle cx="123.37" cy="200.21" r="1.55"/>
<circle cx="94.05" cy="205.49" r="1.55"/>
<circle cx="122.29" cy="175.72" r="1.55"/>
<circle cx="150.34" cy="201.7" r="1.55"/>
<circle cx="153.62" cy="209.61" r="1.55"/>
<circle cx="172.8" cy="202" r="1.55"/>
<circle cx="139.74" cy="212.63" r="1.55"/>
<circle cx="146.07" cy="204.64" r="1.55"/>
<circle cx="132.09" cy="212.59" r="1.55"/>
<circle cx="110.18" cy="212.4" r="1.55"/>
<circle cx="120.68" cy="202.37" r="1.55"/>
<circle cx="147.22" cy="206.25" r="1.55"/>
<circle cx="137.66" cy="183.24" r="1.55"/>
<circle cx="121.49" cy="195.18" r="1.55"/>
<circle cx="117.28" cy="203.77" r="1.55"/>
<circle cx="109.12" cy="208.97" r="1.55"/>
<circle cx="154.66" cy="206.6" r="1.55"/>
<circle cx="154.04" cy="211.91" r="1.55"/>
<circle cx="109.94" cy="209.7" r="1.55"/>
<circle cx="97.39" cy="201.59" r="1.55"/>
<circle cx="123.55" cy="194.71" r="1.55"/>
<circle cx="145.55" cy="206.28" r="1.55"/>
<circle cx="114.44" cy="210.13" r="1.55"/>
<circle cx="124.9" cy="212.04" r="1.55"/>
<circle cx="127.46" cy="199.29" r="1.55"/>
<circle cx="123.5" cy="200.6" r="1.55"/>
<circle cx="113.15" cy="200.68" r="1.55"/>
<circle cx="135.83" cy="200.91" r="1.55"/>
<circle cx="166.11" cy="203.16" r="1.55"/>
<circle cx="102.87" cy="200.22" r="1.55"/>
<circle cx="157.11" cy="208.2" r="1.55"/>
<circle cx="149.97" cy="202.59" r="1.55"/>
<circle cx="117.93" cy="209.53" r="1.55"/>
<circle cx="155.94" cy="202.41" r="1.55"/>
<circle cx="172.14" cy="204.31" r="1.55"/>
<circle cx="102.13" cy="200.17" r="1.55"/>
<circle cx="149.64" cy="200.75" r="1.55"/>
<circle cx="133.45" cy="204.34" r="1.55"/>
<circle cx="131.06" cy="211.82" r="1.55"/>
<circle cx="163.06" cy="206.14" r="1.55"/>
<circle cx="126.73" cy="211.73" r="1.55"/>
<circle cx="102.68" cy="210.87" r="1.55"/>
<circle cx="118.21" cy="204.15" r="1.55"/>
<circle cx="81.9" cy="204.75" r="1.55"/>
<circle cx="138.98" cy="188.07" r="1.55"/>
<circle cx="151.75" cy="201.04" r="1.55"/>
<circle cx="117.54" cy="204.78" r="1.55"/>
<circle cx="106.78" cy="205.1" r="1.55"/>
<circle cx="156.72" cy="209.71" r="1.55"/>
<circle cx="101.71" cy="201.63" r="1.55"/>
<circle cx="115.29" cy="204.25" r="1.55"/>
<circle cx="133.92" cy="208.28" r="1.55"/>
<circle cx="111.47" cy="201.03" r="1.55"/>
<circle cx="90.97" cy="203.15" r="1.55"/>
<circle cx="117.79" cy="212.87" r="1.55"/>
<circle cx="135.77" cy="208.15" r="1.55"/>
<circle cx="131.48" cy="214.3" r="1.55"/>
<circle cx="151.3" cy="201.97" r="1.55"/>
<circle cx="151.93" cy="210.47" r="1.55"/>
<circle cx="105.95" cy="201.17" r="1.55"/>
<circle cx="112.27" cy="209.14" r="1.55"/>
<circle cx="115.56" cy="207.73" r="1.55"/>
<circle cx="112.57" cy="200.99" r="1.55"/>
<circle cx="112.39" cy="203.08" r="1.55"/>
<circle cx="122.3" cy="213.6" r="1.55"/>
<circle cx="116.24" cy="208.22" r="1.55"/>
<circle cx="115.85" cy="209.09" r="1.55"/>
<circle cx="126.89" cy="198.56" r="1.55"/>
<circle cx="108.57" cy="200.71" r="1.55"/>
<circle cx="141.47" cy="201.2" r="1.55"/>
<circle cx="120.63" cy="205.83" r="1.55"/>
<circle cx="147.4" cy="206.42" r="1.55"/>
<circle cx="130.11" cy="214.66" r="1.55"/>
<circle cx="153.89" cy="204.45" r="1.55"/>
<circle cx="116.8" cy="208.99" r="1.55"/>
<circle cx="99.72" cy="201.36" r="1.55"/>
<circle cx="78.58" cy="203.12" r="1.55"/>
<circle cx="109.45" cy="202.31" r="1.55"/>
<circle cx="136.9" cy="187.49" r="1.55"/>
<circle cx="110.33" cy="208.76" r="1.55"/>
<circle cx="112.83" cy="200.34" r="1.55"/>
<circle cx="83.09" cy="200.36" r="1.55"/>
<circle cx="136.07" cy="210.9" r="1.55"/>
<circle cx="167.29" cy="203.94" r="1.55"/>
<circle cx="142.56" cy="209.73" r="1.55"/>
<circle cx="144.96" cy="204.03" r="1.55"/>
<circle cx="135.3" cy="205.5" r="1.55"/>
<circle cx="78.5" cy="201.33" r="1.55"/>
<circle cx="150.95" cy="204.48" r="1.55"/>
<circle cx="131.75" cy="212.16" r="1.55"/>
<circle cx="128.71" cy="206.97" r="1.55"/>
<circle cx="120.07" cy="212.48" r="1.55"/>
<circle cx="118.64" cy="206.62" r="1.55"/>
<circle cx="86.03" cy="202.33" r="1.55"/>
<circle cx="117" cy="203.23" r="1.55"/>
<circle cx="145.56" cy="208.59" r="1.55"/>
<circle cx="122.1" cy="188.28" r="1.55"/>
<circle cx="146.54" cy="203.66" r="1.55"/>
<circle cx="123.31" cy="190.74" r="1.55"/>
<circle cx="158.42" cy="200.66" r="1.55"/>
<circle cx="78.31" cy="202.99" r="1.55"/>
<circle cx="98.97" cy="202.08" r="1.55"/>
<circle cx="115.5" cy="208.15" r="1.55"/>
<circle cx="131.14" cy="212.25" r="1.55"/>
<circle cx="125.88" cy="200.72" r="1.55"/>
<circle cx="90.3" cy="206.85" r="1.55"/>
<circle cx="137.61" cy="180.02" r="1.55"/>
<circle cx="139.28" cy="192.72" r="1.55"/>
<circle cx="171.66" cy="207.9" r="1.55"/>
<circle cx="149.7" cy="209.08" r="1.55"/>
<circle cx="155.79" cy="211.78" r="1.55"/>
<circle cx="146.8" cy="202.39" r="1.55"/>
<circle cx="175.8" cy="201.94" r="1.55"/>
<circle cx="106.92" cy="204.81" r="1.55"/>
<circle cx="122.78" cy="209.89" r="1.55"/>
<circle cx="139.48" cy="199.23" r="1.55"/>
<circle cx="100.37" cy="201.74" r="1.55"/>
<circle cx="157" cy="207.24" r="1.55"/>
<circle cx="144.58" cy="202.6" r="1.55"/>
<circle cx="140.29" cy="202.07" r="1.55"/>
<circle cx="91.25" cy="201.25" r="1.55"/>
<circle cx="148.28" cy="207.27" r="1.55"/>
<circle cx="97.59" cy="208.17" r="1.55"/>
<circle cx="164.82" cy="207.44" r="1.55"/>
<circle cx="119.37" cy="201.47" r="1.55"/>
<circle cx="90.84" cy="200.14" r="1.55"/>
<circle cx="119.57" cy="214.17" r="1.55"/>
<circle cx="88.19" cy="203.35" r="1.55"/>
<circle cx="142.36" cy="205.76" r="1.55"/>
<circle cx="153.65" cy="205" r="1.55"/>
<circle cx="132.68" cy="211.07" r="1.55"/>
<circle cx="135.81" cy="188.96" r="1.55"/>
<circle cx="139.35" cy="181.65" r="1.55"/>
<circle cx="128.81" cy="210.01" r="1.55"/>
<circle cx="120.88" cy="207.85" r="1.55"/>
<circle cx="140.29" cy="202.67" r="1.55"/>
<circle cx="135.54" cy="196.84" r="1.55"/>
<circle cx="108.14" cy="204.2" r="1.55"/>
<circle cx="112.42" cy="208.97" r="1.55"/>
<circle cx="135.86" cy="204.75" r="1.55"/>
<circle cx="125.31" cy="207.32" r="1.55"/>
<circle cx="138.46" cy="182.23" r="1.55"/>
<circle cx="133.08" cy="204.44" r="1.55"/>
<circle cx="125.41" cy="199.08" r="1.55"/>
<circle cx="104.09" cy="201.76" r="1.55"/>
<circle cx="118.39" cy="212.7" r="1.55"/>
<circle cx="149.7" cy="203.1" r="1.55"/>
<circle cx="139.83" cy="201.81" r="1.55"/>
<circle cx="73.93" cy="202.54" r="1.55"/>
<circle cx="116.87" cy="214.54" r="1.55"/>
<circle cx="99.98" cy="201.3" r="1.55"/>
<circle cx="110.64" cy="200.09" r="1.55"/>
<circle cx="136.57" cy="203.54" r="1.55"/>
<circle cx="105.06" cy="203.62" r="1.55"/>
<circle cx="157.2" cy="205.31" r="1.55"/>
<circle cx="121.64" cy="185.51" r="1.55"/>
<circle cx="110.64" cy="209.25" r="1.55"/>
<circle cx="174.95" cy="207.68" r="1.55"/>
<circle cx="103.08" cy="203.75" r="1.55"/>
<circle cx="169.45" cy="203.74" r="1.55"/>
<circle cx="111.48" cy="200.54" r="1.55"/>
<circle cx="126.37" cy="200.79" r="1.55"/>
<circle cx="151.21" cy="210.38" r="1.55"/>
<circle cx="127.62" cy="202.09" r="1.55"/>
<circle cx="171.32" cy="202.78" r="1.55"/>
<circle cx="106.87" cy="208.01" r="1.55"/>
<circle cx="122.06" cy="182.84" r="1.55"/>
<circle cx="118" cy="206.69" r="1.55"/>
<circle cx="164.15" cy="211.09" r="1.55"/>
<circle cx="128.51" cy="206.28" r="1.55"/>
<circle cx="132.48" cy="204.74" r="1.55"/>
<circle cx="88.23" cy="202.8" r="1.55"/>
<circle cx="175.78" cy="211.08" r="1.55"/>
<circle cx="119.86" cy="208.66" r="1.55"/>
<circle cx="156.32" cy="205.9" r="1.55"/>
<circle cx="165.23" cy="201.76" r="1.55"/>
<circle cx="139.23" cy="206.07" r="1.55"/>
<circle cx="109.94" cy="206.48" r="1.55"/>
<circle cx="168.07" cy="212.11" r="1.55"/>
<circle cx="156.04" cy="205.49" r="1.55"/>
<circle cx="120.22" cy="211.99" r="1.55"/>
<circle cx="113.17" cy="202.06" r="1.55"/>
<circle cx="120.11" cy="204.35" r="1.55"/>
<circle cx="135.9" cy="204.61" r="1.55"/>
<circle cx="134.75" cy="199.95" r="1.55"/>
<circle cx="169.63" cy="201.94" r="1.55"/>
<circle cx="87.6" cy="205.69" r="1.55"/>
<circle cx="158.76" cy="201.96" r="1.55"/>
<circle cx="139.72" cy="201.78" r="1.55"/>
<circle cx="145.23" cy="202.72" r="1.55"/>
<circle cx="93.02" cy="205.96" r="1.55"/>
<circle cx="147.93" cy="214.43" r="1.55"/>
<circle cx="125.68" cy="198.44" r="1.55"/>
<circle cx="163.73" cy="202.91" r="1.55"/>
<circle cx="117.62" cy="203.6" r="1.55"/>
<circle cx="105.01" cy="211" r="1.55"/>
<circle cx="111.35" cy="212.21" r="1.55"/>
<circle cx="113.02" cy="200.66" r="1.55"/>
<circle cx="113.39" cy="202.35" r="1.55"/>
<circle cx="137.79" cy="200.35" r="1.55"/>
<circle cx="190.07" cy="206.9" r="1.55"/>
<circle cx="153.98" cy="201.68" r="1.55"/>
<circle cx="153.2" cy="201.71" r="1.55"/>
<circle cx="90.12" cy="204.33" r="1.55"/>
<circle cx="95.74" cy="206.25" r="1.55"/>
<circle cx="112.19" cy="204.63" r="1.55"/>
<circle cx="134.23" cy="196.4" r="1.55"/>
<circle cx="94.43" cy="204.51" r="1.55"/>
<circle cx="112.79" cy="202" r="1.55"/>
<circle cx="140.15" cy="200.93" r="1.55"/>
<circle cx="138.88" cy="210.28" r="1.55"/>
<circle cx="149.91" cy="207.85" r="1.55"/>
<circle cx="116.75" cy="201" r="1.55"/>
<circle cx="117.67" cy="204.16" r="1.55"/>
<circle cx="100.35" cy="203.96" r="1.55"/>
<circle cx="107.27" cy="203.99" r="1.55"/>
<circle cx="142.26" cy="203.52" r="1.55"/>
<circle cx="125.15" cy="187.4" r="1.55"/>
<circle cx="132.27" cy="206.27" r="1.55"/>
<circle cx="135.25" cy="211.08" r="1.55"/>
<circle cx="100.23" cy="203.31" r="1.55"/>
<circle cx="117.04" cy="203.55" r="1.55"/>
<circle cx="137.81" cy="202.97" r="1.55"/>
<circle cx="158.63" cy="202.3" r="1.55"/>
<circle cx="116.87" cy="212.82" r="1.55"/>
<circle cx="108.89" cy="209.28" r="1.55"/>
<circle cx="138.99" cy="204.41" r="1.55"/>
<circle cx="99.54" cy="200.06" r="1.55"/>
<circle cx="139.72" cy="202.72" r="1.55"/>
<circle cx="111.66" cy="202.5" r="1.55"/>
<circle cx="163.28" cy="211.78" r="1.55"/>
<circle cx="171.03" cy="202.28" r="1.55"/>
<circle cx="107.36" cy="207.41" r="1.55"/>
<circle cx="150.8" cy="208.03" r="1.55"/>
<circle cx="81.79" cy="201.61" r="1.55"/>
<circle cx="129.04" cy="213.27" r="1.55"/>
<circle cx="115.52" cy="210.26" r="1.55"/>
<circle cx="129.06" cy="209.55" r="1.55"/>
<circle cx="157.04" cy="209.02" r="1.55"/>
<circle cx="149.58" cy="206.11" r="1.55"/>
<circle cx="154.92" cy="211.96" r="1.55"/>
<circle cx="163.18" cy="202.5" r="1.55"/>
<circle cx="120.48" cy="201.61" r="1.55"/>
<circle cx="168.42" cy="209.33" r="1.55"/>
<circle cx="141.25" cy="210.23" r="1.55"/>
<circle cx="115.45" cy="200.08" r="1.55"/>
<circle cx="111.37" cy="200.5" r="1.55"/>
<circle cx="141.78" cy="204.75" r="1.55"/>
<circle cx="120.75" cy="207.05" r="1.55"/>
<circle cx="145.22" cy="205.94" r="1.55"/>
<circle cx="141.45" cy="202.37" r="1.55"/>
<circle cx="113.02" cy="212.81" r="1.55"/>
<circle cx="112.43" cy="204.49" r="1.55"/>
<circle cx="148.62" cy="209.66" r="1.55"/>
<circle cx="126.06" cy="199.07" r="1.55"/>
<circle cx="150.91" cy="201.69" r="1.55"/>
<circle cx="120.64" cy="206.07" r="1.55"/>
<circle cx="104.7" cy="206.77" r="1.55"/>
<circle cx="163.52" cy="200.02" r="1.55"/>
<circle cx="87.57" cy="200.35" r="1.55"/>
<circle cx="152.1" cy="211.3" r="1.55"/>
<circle cx="141.75" cy="200.12" r="1.55"/>
<circle cx="138.13" cy="178.11" r="1.55"/>
<circle cx="124.65" cy="190.15" r="1.55"/>
<circle cx="104.72" cy="200.87" r="1.55"/>
<circle cx="125.09" cy="191.5" r="1.55"/>
<circle cx="139.99" cy="201.5" r="1.55"/>
<circle cx="166.18" cy="204.4" r="1.55"/>
<circle cx="129.03" cy="209.93" r="1.55"/>
<circle cx="91.01" cy="205.87" r="1.55"/>
<circle cx="122.4" cy="191.76" r="1.55"/>
<circle cx="142.8" cy="210.65" r="1.55"/>
<circle cx="141.87" cy="201.43" r="1.55"/>
<circle cx="166.9" cy="201.22" r="1.55"/>
<circle cx="134.01" cy="203.46" r="1.55"/>
<circle cx="136.88" cy="181.55" r="1.55"/>
<circle cx="121.99" cy="170.57" r="1.55"/>
<circle cx="179.39" cy="200.72" r="1.55"/>
<circle cx="150.75" cy="202.72" r="1.55"/>
<circle cx="132.34" cy="208.84" r="1.55"/>
<circle cx="130.62" cy="214.41" r="1.55"/>
<circle cx="130.95" cy="214.05" r="1.55"/>
<circle cx="157.98" cy="206.73" r="1.55"/>
<circle cx="147.07" cy="212.4" r="1.55"/>
<circle cx="143.01" cy="200.02" r="1.55"/>
<circle cx="157.82" cy="200.02" r="1.55"/>
<circle cx="99.88" cy="203.36" r="1.55"/>
<circle cx="118.61" cy="204.57" r="1.55"/>
<circle cx="106.52" cy="206.26" r="1.55"/>
<circle cx="146.41" cy="202.71" r="1.55"/>
<circle cx="94.51" cy="204.82" r="1.55"/>
<circle cx="118.13" cy="206.98" r="1.55"/>
<circle cx="120.11" cy="205.09" r="1.55"/>
<circle cx="135.04" cy="211.93" r="1.55"/>
<circle cx="118.69" cy="202.02" r="1.55"/>
<circle cx="102.41" cy="202.88" r="1.55"/>
<circle cx="157.95" cy="201.3" r="1.55"/>
<circle cx="135.9" cy="204.08" r="1.55"/>
<circle cx="143.27" cy="209.23" r="1.55"/>
<circle cx="146.47" cy="208.51" r="1.55"/>
<circle cx="143.8" cy="214.15" r="1.55"/>
<circle cx="146.51" cy="207.14" r="1.55"/>
<circle cx="130" cy="213.76" r="1.55"/>
<circle cx="148.08" cy="210.36" r="1.55"/>
<circle cx="84.78" cy="206.78" r="1.55"/>
<circle cx="152.16" cy="205.59" r="1.55"/>
<circle cx="113.08" cy="205.19" r="1.55"/>
<circle cx="129.11" cy="210.96" r="1.55"/>
<circle cx="138.31" cy="197.64" r="1.55"/>
<circle cx="145.27" cy="210.76" r="1.55"/>
<circle cx="143.22" cy="209.85" r="1.55"/>
<circle cx="142.68" cy="201.36" r="1.55"/>
<circle cx="134.4" cy="195.82" r="1.55"/>
<circle cx="134.48" cy="193.77" r="1.55"/>
<circle cx="102.84" cy="206.03" r="1.55"/>
<circle cx="107.64" cy="201.61" r="1.55"/>
<circle cx="154.47" cy="202.21" r="1.55"/>
<circle cx="112.39" cy="211.99" r="1.55"/>
<circle cx="149.75" cy="200.14" r="1.55"/>
<circle cx="86.96" cy="201.64" r="1.55"/>
<circle cx="121.1" cy="213.14" r="1.55"/>
<circle cx="147.56" cy="208.86" r="1.55"/>
<circle cx="111.2" cy="202.15" r="1.55"/>
<circle cx="135.53" cy="197.35" r="1.55"/>
<circle cx="82.17" cy="200.72" r="1.55"/>
<circle cx="129.56" cy="212.83" r="1.55"/>
<circle cx="109.21" cy="208.47" r="1.55"/>
<circle cx="155.45" cy="212.29" r="1.55"/>
<circle cx="169.28" cy="200.5" r="1.55"/>
<circle cx="133.37" cy="202.81" r="1.55"/>
<circle cx="117.36" cy="202.16" r="1.55"/>
<circle cx="131.55" cy="212.94" r="1.55"/>
<circle cx="136.82" cy="184.44" r="1.55"/>
<circle cx="98.47" cy="206.41" r="1.55"/>
<circle cx="131.44" cy="210.1" r="1.55"/>
<circle cx="114.32" cy="204.72" r="1.55"/>
<circle cx="138.73" cy="176.76" r="1.55"/>
<circle cx="103.11" cy="210.28" r="1.55"/>
<circle cx="168.16" cy="208.49" r="1.55"/>
<circle cx="108.16" cy="202.37" r="1.55"/>
<circle cx="141.45" cy="213.55" r="1.55"/>
<circle cx="127.02" cy="197.9" r="1.55"/>
<circle cx="140.08" cy="207.52" r="1.55"/>
<circle cx="125.32" cy="202.18" r="1.55"/>
<circle cx="132.08" cy="206.1" r="1.55"/>
<circle cx="128.57" cy="212.47" r="1.55"/>
<circle cx="140.42" cy="204.28" r="1.55"/>
<circle cx="149.46" cy="209.34" r="1.55"/>
<circle cx="170.6" cy="206.79" r="1.55"/>
<circle cx="140.24" cy="202.67" r="1.55"/>
<circle cx="116.57" cy="203.7" r="1.55"/>
<circle cx="140.11" cy="207.83" r="1.55"/>
<circle cx="127.77" cy="205.82" r="1.55"/>
<circle cx="154.27" cy="203.05" r="1.55"/>
<circle cx="127.18" cy="212.56" r="1.55"/>
<circle cx="97.6" cy="206.73" r="1.55"/>
<circle cx="115.7" cy="212.68" r="1.55"/>
<circle cx="136.98" cy="181.41" r="1.55"/>
<circle cx="173.7" cy="205.01" r="1.55"/>
<circle cx="183.29" cy="200.83" r="1.55"/>
<circle cx="167.93" cy="210.83" r="1.55"/>
<circle cx="121.57" cy="191.43" r="1.55"/>
<circle cx="154.59" cy="205.35" r="1.55"/>
<circle cx="144.3" cy="206.31" r="1.55"/>
<circle cx="133.36" cy="204.17" r="1.55"/>
<circle cx="152.83" cy="210.49" r="1.55"/>
<circle cx="105.98" cy="203.7" r="1.55"/>
<circle cx="94.1" cy="205.8" r="1.55"/>
<circle cx="121.98" cy="173.29" r="1.55"/>
<circle cx="115.64" cy="212.27" r="1.55"/>
<circle cx="160.71" cy="203.71" r="1.55"/>
<circle cx="190.87" cy="204.76" r="1.55"/>
<circle cx="115" cy="209.17" r="1.55"/>
<circle cx="146.37" cy="207.34" r="1.55"/>
<circle cx="117.98" cy="201.77" r="1.55"/>
<circle cx="142.33" cy="205.56" r="1.55"/>
<circle cx="101.51" cy="202.19" r="1.55"/>
<circle cx="119.45" cy="209.47" r="1.55"/>
<circle cx="110.02" cy="204" r="1.55"/>
<circle cx="154.42" cy="203.12" r="1.55"/>
<circle cx="115.27" cy="212.69" r="1.55"/>
<circle cx="106.92" cy="201.61" r="1.55"/>
<circle cx="111.07" cy="203.86" r="1.55"/>
<circle cx="102.27" cy="206" r="1.55"/>
<circle cx="123.03" cy="174.73" r="1.55"/>
<circle cx="135.09" cy="192.67" r="1.55"/>
<circle cx="131.74" cy="209.14" r="1.55"/>
<circle cx="132.78" cy="210.42" r="1.55"/>
<circle cx="127.11" cy="207.35" r="1.55"/>
<circle cx="115.47" cy="206.68" r="1.55"/>
<circle cx="110.74" cy="205.38" r="1.55"/>
<circle cx="118.57" cy="204.87" r="1.55"/>
<circle cx="127.55" cy="213.92" r="1.55"/>
<circle cx="135.46" cy="200.95" r="1.55"/>
<circle cx="84.71" cy="200.9" r="1.55"/>
<circle cx="134.9" cy="190.1" r="1.55"/>
<circle cx="125.64" cy="213.96" r="1.55"/>
<circle cx="132.47" cy="209.21" r="1.55"/>
<circle cx="119.26" cy="203.32" r="1.55"/>
<circle cx="152.38" cy="205.45" r="1.55"/>
<circle cx="97.73" cy="206.9" r="1.55"/>
<circle cx="130.09" cy="215.21" r="1.55"/>
<circle cx="117.98" cy="206.68" r="1.55"/>
<circle cx="149.85" cy="201.77" r="1.55"/>
<circle cx="183.48" cy="201.72" r="1.55"/>
<circle cx="115.52" cy="213.25" r="1.55"/>
<circle cx="103.09" cy="208.51" r="1.55"/>
<circle cx="124.1" cy="181.23" r="1.55"/>
<circle cx="168.12" cy="210.75" r="1.55"/>
<circle cx="121.19" cy="172.61" r="1.55"/>
<circle cx="134.37" cy="209.95" r="1.55"/>
<circle cx="114.77" cy="207.88" r="1.55"/>
<circle cx="142.9" cy="202.33" r="1.55"/>
<circle cx="123.15" cy="190.57" r="1.55"/>
<circle cx="130.15" cy="215.14" r="1.55"/>
<circle cx="114.97" cy="200.02" r="1.55"/>
<circle cx="135.5" cy="214.99" r="1.55"/>
<circle cx="119.12" cy="204.32" r="1.55"/>
<circle cx="80.06" cy="204.75" r="1.55"/>
<circle cx="113.41" cy="212.04" r="1.55"/>
<circle cx="90.1" cy="202.9" r="1.55"/>
<circle cx="160.21" cy="207.33" r="1.55"/>
<circle cx="152.59" cy="209.52" r="1.55"/>
<circle cx="144.44" cy="209.71" r="1.55"/>
<circle cx="168.22" cy="207.31" r="1.55"/>
<circle cx="120.92" cy="204.63" r="1.55"/>
<circle cx="153.75" cy="204.71" r="1.55"/>
<circle cx="113.3" cy="208.39" r="1.55"/>
<circle cx="116.71" cy="206.2" r="1.55"/>
<circle cx="140.93" cy="211.08" r="1.55"/>
<circle cx="106.12" cy="200.51" r="1.55"/>
<circle cx="134.04" cy="212.35" r="1.55"/>
<circle cx="155.17" cy="212.93" r="1.55"/>
<circle cx="176.67" cy="205.75" r="1.55"/>
<circle cx="151.48" cy="207.79" r="1.55"/>
<circle cx="97.17" cy="210.59" r="1.55"/>
<circle cx="212.23" cy="202.9" r="1.55"/>
<circle cx="150.28" cy="202.56" r="1.55"/>
<circle cx="181.12" cy="204.45" r="1.55"/>
<circle cx="114.6" cy="200.8" r="1.55"/>
<circle cx="155.36" cy="208.66" r="1.55"/>
<circle cx="177.09" cy="208.82" r="1.55"/>
<circle cx="131.97" cy="209.15" r="1.55"/>
<circle cx="119.76" cy="202.92" r="1.55"/>
<circle cx="112.65" cy="201.11" r="1.55"/>
<circle cx="121.21" cy="188.68" r="1.55"/>
<circle cx="126.37" cy="203.49" r="1.55"/>
<circle cx="142.41" cy="207.22" r="1.55"/>
<circle cx="112.94" cy="211.45" r="1.55"/>
<circle cx="90.16" cy="207.79" r="1.55"/>
<circle cx="157.85" cy="210.47" r="1.55"/>
<circle cx="159.06" cy="200.64" r="1.55"/>
<circle cx="151.07" cy="213.69" r="1.55"/>
<circle cx="120.43" cy="205.24" r="1.55"/>
<circle cx="88.78" cy="200.13" r="1.55"/>
<circle cx="152.76" cy="202.32" r="1.55"/>
<circle cx="201.93" cy="205.95" r="1.55"/>
<circle cx="103.94" cy="202.87" r="1.55"/>
<circle cx="165.47" cy="208.15" r="1.55"/>
<circle cx="103.06" cy="205.17" r="1.55"/>
<circle cx="132.97" cy="209.28" r="1.55"/>
<circle cx="139.66" cy="208.1" r="1.55"/>
<circle cx="134.01" cy="195.87" r="1.55"/>
<circle cx="142.42" cy="206.85" r="1.55"/>
<circle cx="144.49" cy="210.07" r="1.55"/>
<circle cx="147.33" cy="207.78" r="1.55"/>
<circle cx="141.1" cy="203.06" r="1.55"/>
<circle cx="116.47" cy="210.04" r="1.55"/>
<circle cx="154.67" cy="203.25" r="1.55"/>
<circle cx="173.87" cy="203.15" r="1.55"/>
<circle cx="111.27" cy="201.98" r="1.55"/>
<circle cx="116.37" cy="200.85" r="1.55"/>
<circle cx="112.22" cy="203.47" r="1.55"/>
<circle cx="143.43" cy="206.07" r="1.55"/>
<circle cx="119.43" cy="214.28" r="1.55"/>
<circle cx="160.65" cy="205.62" r="1.55"/>
<circle cx="122.08" cy="179.64" r="1.55"/>
<circle cx="144.46" cy="207.95" r="1.55"/>
<circle cx="120.86" cy="203.78" r="1.55"/>
<circle cx="108.81" cy="208.19" r="1.55"/>
<circle cx="128.93" cy="207.82" r="1.55"/>
<circle cx="163.59" cy="201.45" r="1.55"/>
<circle cx="132.29" cy="211.62" r="1.55"/>
<circle cx="108.27" cy="209.65" r="1.55"/>
<circle cx="138.38" cy="197.56" r="1.55"/>
<circle cx="138.17" cy="214.21" r="1.55"/>
<circle cx="108.99" cy="211.05" r="1.55"/>
<circle cx="138.04" cy="192.46" r="1.55"/>
<circle cx="112.61" cy="210.2" r="1.55"/>
<circle cx="109.39" cy="202.65" r="1.55"/>
<circle cx="100.67" cy="200.44" r="1.55"/>
<circle cx="124.48" cy="193.57" r="1.55"/>
<circle cx="112.3" cy="203.83" r="1.55"/>
<circle cx="96.81" cy="200.54" r="1.55"/>
<circle cx="119.05" cy="206.86" r="1.55"/>
<circle cx="160.27" cy="202.36" r="1.55"/>
<circle cx="173.86" cy="202.64" r="1.55"/>
<circle cx="146.01" cy="211.62" r="1.55"/>
<circle cx="126.13" cy="192.62" r="1.55"/>
<circle cx="116.06" cy="208.63" r="1.55"/>
<circle cx="156.56" cy="205.48" r="1.55"/>
<circle cx="134.14" cy="198.8" r="1.55"/>
<circle cx="113.03" cy="212.45" r="1.55"/>
<circle cx="133.23" cy="206.13" r="1.55"/>
<circle cx="123.58" cy="210.41" r="1.55"/>
<circle cx="144.88" cy="204.2" r="1.55"/>
<circle cx="105.55" cy="200.83" r="1.55"/>
<circle cx="190.32" cy="200.44" r="1.55"/>
<circle cx="122.48" cy="192.41" r="1.55"/>
<circle cx="121.72" cy="193.29" r="1.55"/>
<circle cx="114.74" cy="203.16" r="1.55"/>
<circle cx="117.09" cy="208.61" r="1.55"/>
<circle cx="179.86" cy="206.67" r="1.55"/>
<circle cx="110.43" cy="210.08" r="1.55"/>
<circle cx="119.29" cy="203.37" r="1.55"/>
<circle cx="114.61" cy="206.89" r="1.55"/>
<circle cx="118.07" cy="202.06" r="1.55"/>
<circle cx="106.31" cy="211.07" r="1.55"/>
<circle cx="148.42" cy="203.17" r="1.55"/>
<circle cx="112.8" cy="211.95" r="1.55"/>
<circle cx="154.13" cy="203.22" r="1.55"/>
<circle cx="129.69" cy="211.98" r="1.55"/>
<circle cx="108.23" cy="213.35" r="1.55"/>
<circle cx="98.72" cy="208.74" r="1.55"/>
<circle cx="200.66" cy="205.62" r="1.55"/>
<circle cx="113.72" cy="208.87" r="1.55"/>
<circle cx="108.52" cy="208.56" r="1.55"/>
<circle cx="149.32" cy="205.45" r="1.55"/>
<circle cx="133.31" cy="200.32" r="1.55"/>
<circle cx="111.88" cy="203.72" r="1.55"/>
<circle cx="109.71" cy="211.59" r="1.55"/>
<circle cx="151.85" cy="212.23" r="1.55"/>
<circle cx="117.35" cy="200.81" r="1.55"/>
<circle cx="163.68" cy="203.41" r="1.55"/>
<circle cx="115.1" cy="208.59" r="1.55"/>
<circle cx="112.41" cy="211.75" r="1.55"/>
<circle cx="138.89" cy="191.57" r="1.55"/>
<circle cx="125.49" cy="189.92" r="1.55"/>
<circle cx="140.43" cy="202.65" r="1.55"/>
<circle cx="147.73" cy="207.2" r="1.55"/>
<circle cx="146.21" cy="201.25" r="1.55"/>
<circle cx="123.55" cy="183.61" r="1.55"/>
<circle cx="128.05" cy="209.16" r="1.55"/>
<circle cx="121.23" cy="172.95" r="1.55"/>
<circle cx="120.99" cy="209.67" r="1.55"/>
<circle cx="96.03" cy="205.14" r="1.55"/>
<circle cx="118.43" cy="204.73" r="1.55"/>
<circle cx="139.83" cy="207.14" r="1.55"/>
<circle cx="148" cy="212.99" r="1.55"/>
<circle cx="102.92" cy="205.64" r="1.55"/>
<circle cx="158.87" cy="208.16" r="1.55"/>
<circle cx="103.33" cy="201.45" r="1.55"/>
<circle cx="169.6" cy="209.72" r="1.55"/>
<circle cx="143.11" cy="207.41" r="1.55"/>
<circle cx="104.53" cy="205.59" r="1.55"/>
<circle cx="129.05" cy="212.67" r="1.55"/>
<circle cx="159.01" cy="200.03" r="1.55"/>
<circle cx="150.07" cy="212.35" r="1.55"/>
<circle cx="154.84" cy="206.37" r="1.55"/>
<circle cx="139.71" cy="212.97" r="1.55"/>
<circle cx="118.9" cy="209.83" r="1.55"/>
<circle cx="138.04" cy="183.24" r="1.55"/>
<circle cx="126.73" cy="207.65" r="1.55"/>
<circle cx="157.63" cy="209.65" r="1.55"/>
<circle cx="150.11" cy="211.22" r="1.55"/>
<circle cx="118.65" cy="206.68" r="1.55"/>
<circle cx="166.22" cy="205.91" r="1.55"/>
<circle cx="90.24" cy="204.17" r="1.55"/>
<circle cx="136.38" cy="186.13" r="1.55"/>
<circle cx="119.38" cy="206.96" r="1.55"/>
<circle cx="163.28" cy="208.24" r="1.55"/>
<circle cx="117.26" cy="200.47" r="1.55"/>
<circle cx="111.72" cy="208.19" r="1.55"/>
<circle cx="143.36" cy="204.42" r="1.55"/>
<circle cx="125.99" cy="204.55" r="1.55"/>
<circle cx="116.62" cy="206.11" r="1.55"/>
<circle cx="95.55" cy="208.49" r="1.55"/>
<circle cx="165.45" cy="210.42" r="1.55"/>
<circle cx="142.91" cy="208.04" r="1.55"/>
<circle cx="97.37" cy="205.32" r="1.55"/>
<circle cx="150.46" cy="211.59" r="1.55"/>
<circle cx="142.57" cy="200.86" r="1.55"/>
<circle cx="119.17" cy="209.57" r="1.55"/>
<circle cx="129.33" cy="211.42" r="1.55"/>
<circle cx="146.98" cy="212.17" r="1.55"/>
<circle cx="154.5" cy="210.42" r="1.55"/>
<circle cx="96.3" cy="203.02" r="1.55"/>
<circle cx="164.29" cy="203.9" r="1.55"/>
<circle cx="136.66" cy="196.66" r="1.55"/>
<circle cx="141.9" cy="202.65" r="1.55"/>
<circle cx="183.01" cy="208.21" r="1.55"/>
<circle cx="84.8" cy="201.75" r="1.55"/>
<circle cx="183.89" cy="201.43" r="1.55"/>
<circle cx="150.71" cy="209.81" r="1.55"/>
<circle cx="102.8" cy="210.23" r="1.55"/>
<circle cx="112.75" cy="209.28" r="1.55"/>
<circle cx="123.1" cy="187.51" r="1.55"/>
<circle cx="102.35" cy="205.82" r="1.55"/>
<circle cx="136.23" cy="193.09" r="1.55"/>
<circle cx="131.53" cy="211.58" r="1.55"/>
<circle cx="154.77" cy="210.68" r="1.55"/>
<circle cx="154.01" cy="208.47" r="1.55"/>
<circle cx="117.48" cy="208.92" r="1.55"/>
<circle cx="81.17" cy="202.09" r="1.55"/>
<circle cx="113.37" cy="209.93" r="1.55"/>
<circle cx="132.78" cy="206.1" r="1.55"/>
<circle cx="148.7" cy="204.9" r="1.55"/>
<circle cx="130.92" cy="212.74" r="1.55"/>
<circle cx="79.77" cy="202.02" r="1.55"/>
<circle cx="120.42" cy="205.77" r="1.55"/>
<circle cx="119.5" cy="203.43" r="1.55"/>
<circle cx="138.25" cy="184.01" r="1.55"/>
<circle cx="125.75" cy="193.35" r="1.55"/>
<circle cx="118.96" cy="201.12" r="1.55"/>
<circle cx="167.67" cy="204.97" r="1.55"/>
<circle cx="138.1" cy="183.18" r="1.55"/>
<circle cx="175.6" cy="202.27" r="1.55"/>
<circle cx="140.09" cy="204.73" r="1.55"/>
<circle cx="117.2" cy="200.15" r="1.55"/>
<circle cx="143.29" cy="202.8" r="1.55"/>
<circle cx="129.27" cy="210.86" r="1.55"/>
<circle cx="142.18" cy="206.84" r="1.55"/>
<circle cx="153.64" cy="209.61" r="1.55"/>
<circle cx="106.68" cy="208.71" r="1.55"/>
<circle cx="112.82" cy="201.34" r="1.55"/>
<circle cx="110.18" cy="201.75" r="1.55"/>
<circle cx="154.39" cy="205.13" r="1.55"/>
<circle cx="153.3" cy="204" r="1.55"/>
<circle cx="149.17" cy="204.4" r="1.55"/>
<circle cx="104.75" cy="203.61" r="1.55"/>
<circle cx="111.95" cy="210.99" r="1.55"/>
<circle cx="159.55" cy="203.39" r="1.55"/>
<circle cx="127.65" cy="201.84" r="1.55"/>
<circle cx="119.98" cy="202" r="1.55"/>
<circle cx="152.26" cy="201.08" r="1.55"/>
<circle cx="134.34" cy="201.37" r="1.55"/>
<circle cx="130.73" cy="214.78" r="1.55"/>
<circle cx="102.86" cy="201.05" r="1.55"/>
<circle cx="149.62" cy="201.89" r="1.55"/>
<circle cx="151.23" cy="204" r="1.55"/>
<circle cx="123.05" cy="180.47" r="1.55"/>
<circle cx="128.7" cy="208.23" r="1.55"/>
<circle cx="143.08" cy="210.16" r="1.55"/>
<circle cx="128" cy="207.9" r="1.55"/>
<circle cx="96.47" cy="201.13" r="1.55"/>
<circle cx="111.36" cy="208.97" r="1.55"/>
<circle cx="150.13" cy="205" r="1.55"/>
<circle cx="138.59" cy="180.36" r="1.55"/>
<circle cx="148.35" cy="206.45" r="1.55"/>
<circle cx="130.58" cy="214.2" r="1.55"/>
<circle cx="125.42" cy="204.51" r="1.55"/>
<circle cx="146.44" cy="203.98" r="1.55"/>
<circle cx="115.43" cy="205.16" r="1.55"/>
<circle cx="125.43" cy="193.52" r="1.55"/>
<circle cx="112.14" cy="202.39" r="1.55"/>
<circle cx="120.68" cy="210.4" r="1.55"/>
<circle cx="120.29" cy="213.31" r="1.55"/>
<circle cx="142.13" cy="203.06" r="1.55"/>
<circle cx="130.48" cy="214.94" r="1.55"/>
<circle cx="97.55" cy="205.45" r="1.55"/>
<circle cx="160.04" cy="207.77" r="1.55"/>
<circle cx="120.68" cy="210.03" r="1.55"/>
<circle cx="120.21" cy="212.07" r="1.55"/>
<circle cx="172.73" cy="208.93" r="1.55"/>
<circle cx="132.64" cy="205.05" r="1.55"/>
<circle cx="131.66" cy="211.61" r="1.55"/>
<circle cx="173.79" cy="202.68" r="1.55"/>
<circle cx="124.08" cy="199.82" r="1.55"/>
<circle cx="139.95" cy="200.26" r="1.55"/>
<circle cx="117.38" cy="208.3" r="1.55"/>
<circle cx="85.83" cy="204.55" r="1.55"/>
<circle cx="158.49" cy="205.29" r="1.55"/>
<circle cx="139.36" cy="192.38" r="1.55"/>
<circle cx="154.29" cy="207.35" r="1.55"/>
<circle cx="124.17" cy="211.73" r="1.55"/>
<circle cx="117.3" cy="204.43" r="1.55"/>
<circle cx="109.52" cy="208.89" r="1.55"/>
<circle cx="161.31" cy="203.09" r="1.55"/>
<circle cx="138.56" cy="203.88" r="1.55"/>
<circle cx="110.28" cy="201.64" r="1.55"/>
<circle cx="109.36" cy="207.54" r="1.55"/>
<circle cx="154.66" cy="205.39" r="1.55"/>
<circle cx="124.18" cy="190.61" r="1.55"/>
<circle cx="133.51" cy="204.88" r="1.55"/>
<circle cx="142.64" cy="200.94" r="1.55"/>
<circle cx="115.6" cy="202.62" r="1.55"/>
<circle cx="136.3" cy="202.72" r="1.55"/>
<circle cx="133" cy="206.72" r="1.55"/>
<circle cx="143" cy="204.35" r="1.55"/>
<circle cx="137.25" cy="205.26" r="1.55"/>
<circle cx="129.31" cy="210.09" r="1.55"/>
<circle cx="129.16" cy="209.06" r="1.55"/>
<circle cx="133.56" cy="204.53" r="1.55"/>
<circle cx="122.54" cy="215.32" r="1.55"/>
<circle cx="124.97" cy="200.81" r="1.55"/>
<circle cx="128.13" cy="205.94" r="1.55"/>
<circle cx="132.36" cy="214.11" r="1.55"/>
<circle cx="136.7" cy="198.7" r="1.55"/>
<circle cx="127.09" cy="202.06" r="1.55"/>
<circle cx="126.78" cy="208.74" r="1.55"/>
<circle cx="124.38" cy="183.71" r="1.55"/>
<circle cx="122.76" cy="198.16" r="1.55"/>
<circle cx="134.51" cy="192.29" r="1.55"/>
<circle cx="139.05" cy="196.57" r="1.55"/>
<circle cx="135.01" cy="205.67" r="1.55"/>
<circle cx="131.55" cy="214.85" r="1.55"/>
<circle cx="124.29" cy="214.47" r="1.55"/>
<circle cx="133.05" cy="214.58" r="1.55"/>
<circle cx="126.07" cy="214.26" r="1.55"/>
<circle cx="122.94" cy="210.71" r="1.55"/>
<circle cx="136.46" cy="198.6" r="1.55"/>
<circle cx="125.7" cy="192.16" r="1.55"/>
<circle cx="124.55" cy="201.03" r="1.55"/>
<circle cx="138.45" cy="206.05" r="1.55"/>
<circle cx="128.84" cy="210.38" r="1.55"/>
<circle cx="136.65" cy="192.98" r="1.55"/>
<circle cx="121.82" cy="195.39" r="1.55"/>
<circle cx="121.96" cy="187.58" r="1.55"/>
<circle cx="133.85" cy="209.71" r="1.55"/>
<circle cx="126.15" cy="193.19" r="1.55"/>
<circle cx="123.86" cy="215.3" r="1.55"/>
<circle cx="122" cy="215.15" r="1.55"/>
<circle cx="126.32" cy="201.98" r="1.55"/>
<circle cx="124.58" cy="205.35" r="1.55"/>
<circle cx="137.74" cy="177.75" r="1.55"/>
<circle cx="132.97" cy="209.88" r="1.55"/>
<circle cx="138.42" cy="206.33" r="1.55"/>
<circle cx="136.51" cy="197.8" r="1.55"/>
<circle cx="137.56" cy="209.96" r="1.55"/>
<circle cx="134.52" cy="197.06" r="1.55"/>
<circle cx="132.15" cy="206.03" r="1.55"/>
<circle cx="136.16" cy="205.99" r="1.55"/>
<circle cx="124.1" cy="213.05" r="1.55"/>
<circle cx="133.97" cy="211.82" r="1.55"/>
<circle cx="131.35" cy="212.07" r="1.55"/>
<circle cx="133.82" cy="196.62" r="1.55"/>
<circle cx="122.05" cy="207.78" r="1.55"/>
<circle cx="133.22" cy="207.53" r="1.55"/>
<circle cx="126.15" cy="198" r="1.55"/>
<circle cx="124.1" cy="210.2" r="1.55"/>
<circle cx="124.25" cy="205.24" r="1.55"/>
<circle cx="139.26" cy="199.93" r="1.55"/>
<circle cx="136.23" cy="195.09" r="1.55"/>
<circle cx="135.91" cy="191.23" r="1.55"/>
<circle cx="123.75" cy="211.13" r="1.55"/>
<circle cx="134.65" cy="200.2" r="1.55"/>
<circle cx="134.42" cy="208.08" r="1.55"/>
<circle cx="121.6" cy="182.01" r="1.55"/>
<circle cx="128.1" cy="203.48" r="1.55"/>
<circle cx="122.3" cy="213.12" r="1.55"/>
<circle cx="128.58" cy="206.43" r="1.55"/>
<circle cx="121.44" cy="196.15" r="1.55"/>
<circle cx="123.16" cy="204.97" r="1.55"/>
<circle cx="122.75" cy="193.26" r="1.55"/>
<circle cx="135.56" cy="187.85" r="1.55"/>
<circle cx="124.01" cy="187.42" r="1.55"/>
<circle cx="128.29" cy="215.11" r="1.55"/>
<circle cx="124.45" cy="212.14" r="1.55"/>
<circle cx="125.33" cy="207.4" r="1.55"/>
<circle cx="132.73" cy="207.66" r="1.55"/>
<circle cx="137.02" cy="183.38" r="1.55"/>
<circle cx="127.29" cy="208.62" r="1.55"/>
<circle cx="126.65" cy="204.13" r="1.55"/>
<circle cx="127.01" cy="211.39" r="1.55"/>
<circle cx="123.16" cy="213.74" r="1.55"/>
<circle cx="128.4" cy="209.43" r="1.55"/>
<circle cx="137.94" cy="211.28" r="1.55"/>
<circle cx="126.67" cy="212.7" r="1.55"/>
<circle cx="131.95" cy="208.79" r="1.55"/>
<circle cx="133.96" cy="213.26" r="1.55"/>
<circle cx="135.47" cy="212.19" r="1.55"/>
<circle cx="138.8" cy="197.49" r="1.55"/>
<circle cx="137.78" cy="187.97" r="1.55"/>
<circle cx="128.43" cy="211.64" r="1.55"/>
<circle cx="134.33" cy="210.48" r="1.55"/>
<circle cx="132.42" cy="206.96" r="1.55"/>
<circle cx="133.85" cy="207.74" r="1.55"/>
<circle cx="132.52" cy="213.34" r="1.55"/>
<circle cx="127.5" cy="203.5" r="1.55"/>
<circle cx="136.61" cy="192.49" r="1.55"/>
<circle cx="134.67" cy="199.07" r="1.55"/>
<circle cx="124.51" cy="214.13" r="1.55"/>
<circle cx="122.25" cy="207.39" r="1.55"/>
<circle cx="138.6" cy="195.1" r="1.55"/>
<circle cx="137" cy="209.43" r="1.55"/>
<circle cx="129.32" cy="214.99" r="1.55"/>
<circle cx="133.28" cy="207.01" r="1.55"/>
<circle cx="136.45" cy="197.01" r="1.55"/>
<circle cx="127.26" cy="212.46" r="1.55"/>
<circle cx="127.48" cy="208.09" r="1.55"/>
<circle cx="136.12" cy="188.44" r="1.55"/>
<circle cx="121.75" cy="189.28" r="1.55"/>
<circle cx="123.15" cy="188.37" r="1.55"/>
<circle cx="134.72" cy="211.64" r="1.55"/>
<circle cx="125.32" cy="202.64" r="1.55"/>
<circle cx="122.16" cy="208.61" r="1.55"/>
<circle cx="125.57" cy="193.25" r="1.55"/>
<circle cx="122.73" cy="214.28" r="1.55"/>
<circle cx="128.1" cy="211.22" r="1.55"/>
<circle cx="137.88" cy="207.07" r="1.55"/>
<circle cx="139.29" cy="213.41" r="1.55"/>
<circle cx="134.6" cy="210.07" r="1.55"/>
<circle cx="132.14" cy="207.32" r="1.55"/>
<circle cx="136.39" cy="203.24" r="1.55"/>
<circle cx="133.27" cy="201.88" r="1.55"/>
<circle cx="132" cy="206.45" r="1.55"/>
<circle cx="124.13" cy="183.15" r="1.55"/>
<circle cx="122.33" cy="197.42" r="1.55"/>
<circle cx="135.16" cy="195.08" r="1.55"/>
<circle cx="126.4" cy="202.21" r="1.55"/>
<circle cx="121.52" cy="187.48" r="1.55"/>
<circle cx="138.82" cy="182.53" r="1.55"/>
<circle cx="134.98" cy="189.54" r="1.55"/>
<circle cx="129.38" cy="210.82" r="1.55"/>
<circle cx="134.48" cy="208.62" r="1.55"/>
<circle cx="128" cy="212.68" r="1.55"/>
<circle cx="135.81" cy="212.27" r="1.55"/>
<circle cx="137.79" cy="195.19" r="1.55"/>
<circle cx="123.66" cy="211.1" r="1.55"/>
<circle cx="135.53" cy="189.47" r="1.55"/>
<circle cx="129" cy="208.55" r="1.55"/>
<circle cx="124.79" cy="186.86" r="1.55"/>
<circle cx="136.7" cy="186.09" r="1.55"/>
<circle cx="124.9" cy="198.37" r="1.55"/>
<circle cx="127.77" cy="205.09" r="1.55"/>
<circle cx="128.47" cy="206.48" r="1.55"/>
<circle cx="131.7" cy="211.86" r="1.55"/>
<circle cx="121.77" cy="189.05" r="1.55"/>
<circle cx="127.4" cy="204.84" r="1.55"/>
<circle cx="133.32" cy="199.97" r="1.55"/>
<circle cx="123.43" cy="197.09" r="1.55"/>
<circle cx="128.05" cy="208.89" r="1.55"/>
<circle cx="129.13" cy="209.85" r="1.55"/>
<circle cx="138.75" cy="173.49" r="1.55"/>
<circle cx="122.75" cy="202.53" r="1.55"/>
<circle cx="134.23" cy="206.88" r="1.55"/>
<circle cx="122.72" cy="179.57" r="1.55"/>
<circle cx="122.98" cy="196.28" r="1.55"/>
<circle cx="121.59" cy="196.94" r="1.55"/>
<circle cx="123.67" cy="191.44" r="1.55"/>
<circle cx="121.8" cy="199.12" r="1.55"/>
<circle cx="131.76" cy="209.06" r="1.55"/>
<circle cx="127.5" cy="209.96" r="1.55"/>
<circle cx="123.38" cy="212.09" r="1.55"/>
<circle cx="124.55" cy="189.62" r="1.55"/>
<circle cx="132.57" cy="206.08" r="1.55"/>
<circle cx="132.25" cy="210.76" r="1.55"/>
<circle cx="126.64" cy="211.29" r="1.55"/>
<circle cx="128.9" cy="214.64" r="1.55"/>
<circle cx="137.75" cy="200.79" r="1.55"/>
<circle cx="131.29" cy="214.01" r="1.55"/>
<circle cx="138.34" cy="210.42" r="1.55"/>
<circle cx="125.25" cy="214.3" r="1.55"/>
<circle cx="134.04" cy="207.89" r="1.55"/>
<circle cx="136.46" cy="212.27" r="1.55"/>
<circle cx="135.63" cy="206.28" r="1.55"/>
<circle cx="127.15" cy="203.27" r="1.55"/>
<circle cx="126.63" cy="210.07" r="1.55"/>
<circle cx="128.32" cy="209.49" r="1.55"/>
<circle cx="127.07" cy="201.65" r="1.55"/>
<circle cx="138.05" cy="183.31" r="1.55"/>
<circle cx="138.5" cy="207.84" r="1.55"/>
<circle cx="126.23" cy="214.21" r="1.55"/>
<circle cx="124.32" cy="205.64" r="1.55"/>
<circle cx="127.34" cy="209.87" r="1.55"/>
<circle cx="124.57" cy="200.2" r="1.55"/>
<circle cx="125.06" cy="195.81" r="1.55"/>
<circle cx="138.58" cy="211.78" r="1.55"/>
<circle cx="124.44" cy="206.93" r="1.55"/>
<circle cx="122.49" cy="194.5" r="1.55"/>
<circle cx="126.17" cy="205.25" r="1.55"/>
<circle cx="127.3" cy="207.88" r="1.55"/>
<circle cx="127.47" cy="208.23" r="1.55"/>
<circle cx="138.94" cy="187.84" r="1.55"/>
<circle cx="135.76" cy="213.17" r="1.55"/>
<circle cx="138.02" cy="187.69" r="1.55"/>
<circle cx="136.48" cy="183.64" r="1.55"/>
<circle cx="138.52" cy="203.96" r="1.55"/>
<circle cx="128.24" cy="209.58" r="1.55"/>
<circle cx="125.79" cy="196.84" r="1.55"/>
<circle cx="131.73" cy="211.72" r="1.55"/>
<circle cx="139.12" cy="180.02" r="1.55"/>
<circle cx="124.75" cy="184.78" r="1.55"/>
<circle cx="125.7" cy="199.93" r="1.55"/>
<circle cx="134.66" cy="214.28" r="1.55"/>
<circle cx="126.66" cy="206.35" r="1.55"/>
<circle cx="138.24" cy="203.17" r="1.55"/>
<circle cx="127.66" cy="210.81" r="1.55"/>
<circle cx="125.2" cy="203.34" r="1.55"/>
<circle cx="131.79" cy="215.16" r="1.55"/>
<circle cx="123.88" cy="187.73" r="1.55"/>
<circle cx="128.97" cy="210.2" r="1.55"/>
<circle cx="139.07" cy="172.62" r="1.55"/>
<circle cx="125.92" cy="199.45" r="1.55"/>
<circle cx="138.44" cy="182.76" r="1.55"/>
<circle cx="135.37" cy="209.89" r="1.55"/>
<circle cx="121.44" cy="203.14" r="1.55"/>
<circle cx="132.03" cy="210.78" r="1.55"/>
<circle cx="129.03" cy="211.73" r="1.55"/>
<circle cx="136.78" cy="193.12" r="1.55"/>
<circle cx="125.31" cy="200.67" r="1.55"/>
<circle cx="135.03" cy="208.39" r="1.55"/>
<circle cx="135.93" cy="190.94" r="1.55"/>
<circle cx="127.47" cy="201.42" r="1.55"/>
<circle cx="128.14" cy="207.54" r="1.55"/>
<circle cx="124.69" cy="188.7" r="1.55"/>
<circle cx="122.47" cy="211.68" r="1.55"/>
<circle cx="132.96" cy="201.07" r="1.55"/>
<circle cx="122.08" cy="190.43" r="1.55"/>
<circle cx="132.15" cy="210.84" r="1.55"/>
<circle cx="123.82" cy="179.71" r="1.55"/>
<circle cx="134.68" cy="193.29" r="1.55"/>
<circle cx="123.93" cy="184.94" r="1.55"/>
<circle cx="122.76" cy="206.26" r="1.55"/>
<circle cx="126.74" cy="199.23" r="1.55"/>
<circle cx="136.91" cy="185.11" r="1.55"/>
<circle cx="127.43" cy="199.14" r="1.55"/>
<circle cx="134.56" cy="207.65" r="1.55"/>
<circle cx="124.86" cy="192.58" r="1.55"/>
<circle cx="132.77" cy="215.06" r="1.55"/>
<circle cx="134.04" cy="200.4" r="1.55"/>
<circle cx="136.94" cy="194.04" r="1.55"/>
<circle cx="135.21" cy="201.92" r="1.55"/>
<circle cx="135.38" cy="189.45" r="1.55"/>
<circle cx="122.72" cy="174.82" r="1.55"/>
<circle cx="136.61" cy="201.96" r="1.55"/>
<circle cx="124.51" cy="203.5" r="1.55"/>
<circle cx="131.67" cy="210.11" r="1.55"/>
<circle cx="126.2" cy="208.87" r="1.55"/>
<circle cx="137.31" cy="210.77" r="1.55"/>
<circle cx="125.06" cy="207.34" r="1.55"/>
<circle cx="125.86" cy="203.89" r="1.55"/>
<circle cx="122.92" cy="198.36" r="1.55"/>
<circle cx="137.22" cy="195.07" r="1.55"/>
<circle cx="121.64" cy="181.29" r="1.55"/>
<circle cx="135" cy="192.69" r="1.55"/>
<circle cx="137.58" cy="192.22" r="1.55"/>
<circle cx="137.09" cy="212.11" r="1.55"/>
<circle cx="133.13" cy="211.85" r="1.55"/>
<circle cx="133.51" cy="198.37" r="1.55"/>
<circle cx="133.97" cy="200.57" r="1.55"/>
<circle cx="135.26" cy="192.65" r="1.55"/>
<circle cx="135.46" cy="214.3" r="1.55"/>
<circle cx="133.21" cy="209.54" r="1.55"/>
<circle cx="133.81" cy="196.09" r="1.55"/>
<circle cx="126.4" cy="203.86" r="1.55"/>
<circle cx="123.1" cy="196.33" r="1.55"/>
<circle cx="131.86" cy="215.4" r="1.55"/>
<circle cx="128.08" cy="205.97" r="1.55"/>
<circle cx="56.3" cy="207.2" r="1.55"/>
<circle cx="78.9" cy="212.3" r="1.55"/>
<circle cx="75" cy="204" r="1.55"/>
<circle cx="73.5" cy="203.5" r="1.55"/>
<circle cx="190" cy="208" r="1.55"/>
<circle cx="196" cy="205" r="1.55"/>
<circle cx="200" cy="210" r="1.55"/>
<circle cx="205" cy="206" r="1.55"/>
<circle cx="210" cy="202" r="1.55"/>
<circle cx="214" cy="203" r="1.55"/>
<circle cx="219" cy="208" r="1.55"/>
<circle cx="183" cy="212" r="1.55"/>
<circle cx="186" cy="204" r="1.55"/>
<circle cx="193" cy="212" r="1.55"/>
<circle cx="178" cy="209" r="1.55"/>
</g>
<g fill="#0072B5">
<circle cx="115.71" cy="191.66" r="1.55"/>
<circle cx="121.16" cy="194.6" r="1.55"/>
<circle cx="119.56" cy="198.99" r="1.55"/>
<circle cx="119.08" cy="195.9" r="1.55"/>
<circle cx="116.06" cy="194.81" r="1.55"/>
<circle cx="115.68" cy="192.46" r="1.55"/>
<circle cx="118.85" cy="180.41" r="1.55"/>
<circle cx="120.88" cy="184.44" r="1.55"/>
<circle cx="115.71" cy="194.65" r="1.55"/>
<circle cx="119.64" cy="197.64" r="1.55"/>
<circle cx="104.87" cy="181.34" r="1.55"/>
<circle cx="117.37" cy="191.06" r="1.55"/>
<circle cx="100.04" cy="189.9" r="1.55"/>
<circle cx="120.27" cy="199.52" r="1.55"/>
<circle cx="119.28" cy="178.9" r="1.55"/>
<circle cx="120.12" cy="193.56" r="1.55"/>
<circle cx="89.16" cy="196.58" r="1.55"/>
<circle cx="109.27" cy="197.93" r="1.55"/>
<circle cx="109.45" cy="190.12" r="1.55"/>
<circle cx="120.98" cy="180.11" r="1.55"/>
<circle cx="75.73" cy="193.81" r="1.55"/>
<circle cx="117.84" cy="187.49" r="1.55"/>
<circle cx="120.06" cy="193.08" r="1.55"/>
<circle cx="96.99" cy="198.45" r="1.55"/>
<circle cx="117.74" cy="198.9" r="1.55"/>
<circle cx="120.97" cy="183.75" r="1.55"/>
<circle cx="118.76" cy="197.18" r="1.55"/>
<circle cx="114.33" cy="199.68" r="1.55"/>
<circle cx="112.54" cy="199.1" r="1.55"/>
<circle cx="112.17" cy="193.17" r="1.55"/>
<circle cx="120.07" cy="193.76" r="1.55"/>
<circle cx="109.19" cy="197.08" r="1.55"/>
<circle cx="120.65" cy="189.82" r="1.55"/>
<circle cx="110.15" cy="196.01" r="1.55"/>
<circle cx="91.93" cy="196.04" r="1.55"/>
<circle cx="97.55" cy="199.34" r="1.55"/>
<circle cx="119.65" cy="182.33" r="1.55"/>
<circle cx="116.04" cy="198.8" r="1.55"/>
<circle cx="94.65" cy="198.09" r="1.55"/>
<circle cx="107.13" cy="192.97" r="1.55"/>
<circle cx="99.46" cy="195.62" r="1.55"/>
<circle cx="107.12" cy="197.68" r="1.55"/>
<circle cx="117.99" cy="181.48" r="1.55"/>
<circle cx="115.52" cy="178.36" r="1.55"/>
<circle cx="110.16" cy="194.64" r="1.55"/>
<circle cx="119.93" cy="166.1" r="1.55"/>
<circle cx="115.13" cy="194.56" r="1.55"/>
<circle cx="115.87" cy="198.22" r="1.55"/>
<circle cx="97.55" cy="196.18" r="1.55"/>
<circle cx="121.14" cy="185.69" r="1.55"/>
<circle cx="117.17" cy="194.45" r="1.55"/>
<circle cx="99.23" cy="198.02" r="1.55"/>
<circle cx="97" cy="195.62" r="1.55"/>
<circle cx="121" cy="161.73" r="1.55"/>
<circle cx="109.3" cy="167.5" r="1.55"/>
<circle cx="119.25" cy="198.54" r="1.55"/>
<circle cx="93.92" cy="194.64" r="1.55"/>
<circle cx="120.48" cy="182.04" r="1.55"/>
<circle cx="107" cy="186.08" r="1.55"/>
<circle cx="108.6" cy="199.28" r="1.55"/>
<circle cx="120.96" cy="199.63" r="1.55"/>
<circle cx="120.87" cy="196.05" r="1.55"/>
<circle cx="101.3" cy="195.83" r="1.55"/>
<circle cx="113.03" cy="189.3" r="1.55"/>
<circle cx="119.83" cy="196.37" r="1.55"/>
<circle cx="112.26" cy="180.12" r="1.55"/>
<circle cx="112.85" cy="199.9" r="1.55"/>
<circle cx="104.87" cy="198.57" r="1.55"/>
<circle cx="104.54" cy="197.35" r="1.55"/>
<circle cx="101.04" cy="192.59" r="1.55"/>
<circle cx="112.96" cy="199.16" r="1.55"/>
<circle cx="120.54" cy="198.33" r="1.55"/>
<circle cx="120.7" cy="198.48" r="1.55"/>
<circle cx="118.58" cy="188.88" r="1.55"/>
<circle cx="112.88" cy="199.94" r="1.55"/>
<circle cx="120.41" cy="157.01" r="1.55"/>
<circle cx="112.68" cy="198.7" r="1.55"/>
<circle cx="118.23" cy="188.48" r="1.55"/>
<circle cx="118.97" cy="191.74" r="1.55"/>
<circle cx="85.73" cy="191.58" r="1.55"/>
<circle cx="118.39" cy="194.1" r="1.55"/>
<circle cx="111.39" cy="190.1" r="1.55"/>
<circle cx="119.44" cy="199.81" r="1.55"/>
<circle cx="120.43" cy="191.59" r="1.55"/>
<circle cx="111.75" cy="195.26" r="1.55"/>
<circle cx="117.31" cy="166.25" r="1.55"/>
<circle cx="112.41" cy="197.28" r="1.55"/>
<circle cx="113.08" cy="192.06" r="1.55"/>
<circle cx="109.99" cy="198.31" r="1.55"/>
<circle cx="120.47" cy="194.12" r="1.55"/>
<circle cx="111.13" cy="198.69" r="1.55"/>
<circle cx="107.05" cy="199.63" r="1.55"/>
<circle cx="118.12" cy="186.39" r="1.55"/>
<circle cx="118.99" cy="190.28" r="1.55"/>
<circle cx="113.65" cy="184.71" r="1.55"/>
<circle cx="118.08" cy="199.44" r="1.55"/>
<circle cx="107.74" cy="191.95" r="1.55"/>
<circle cx="97.08" cy="187.93" r="1.55"/>
<circle cx="121.02" cy="196.13" r="1.55"/>
<circle cx="111.47" cy="183.3" r="1.55"/>
<circle cx="90.86" cy="196.35" r="1.55"/>
<circle cx="96.19" cy="195.4" r="1.55"/>
<circle cx="116.17" cy="195.5" r="1.55"/>
<circle cx="111.8" cy="195.51" r="1.55"/>
<circle cx="94.83" cy="188.73" r="1.55"/>
<circle cx="116.09" cy="177.77" r="1.55"/>
<circle cx="119.23" cy="198.67" r="1.55"/>
<circle cx="119.7" cy="192.37" r="1.55"/>
<circle cx="120.95" cy="157.93" r="1.55"/>
<circle cx="103.43" cy="199.93" r="1.55"/>
<circle cx="119.21" cy="196.02" r="1.55"/>
<circle cx="119.75" cy="181.87" r="1.55"/>
<circle cx="116.89" cy="179.67" r="1.55"/>
<circle cx="112.35" cy="187.97" r="1.55"/>
<circle cx="102.35" cy="187.28" r="1.55"/>
<circle cx="114.94" cy="195.07" r="1.55"/>
<circle cx="104.97" cy="198.19" r="1.55"/>
<circle cx="114.36" cy="194.45" r="1.55"/>
<circle cx="121.01" cy="187" r="1.55"/>
<circle cx="115.42" cy="189.43" r="1.55"/>
<circle cx="117.34" cy="183.1" r="1.55"/>
<circle cx="112.45" cy="198.85" r="1.55"/>
<circle cx="105.5" cy="194.88" r="1.55"/>
<circle cx="120.61" cy="192.85" r="1.55"/>
<circle cx="109.68" cy="186.2" r="1.55"/>
<circle cx="121.16" cy="143.55" r="1.55"/>
<circle cx="116.39" cy="174.89" r="1.55"/>
<circle cx="111.79" cy="190.05" r="1.55"/>
<circle cx="112.53" cy="194.34" r="1.55"/>
<circle cx="117.77" cy="192.97" r="1.55"/>
<circle cx="107.16" cy="189.39" r="1.55"/>
<circle cx="106.95" cy="193.5" r="1.55"/>
<circle cx="100.97" cy="197.91" r="1.55"/>
<circle cx="109.94" cy="196.7" r="1.55"/>
<circle cx="116.3" cy="196.39" r="1.55"/>
<circle cx="115.98" cy="197.46" r="1.55"/>
<circle cx="111.34" cy="196.86" r="1.55"/>
<circle cx="84.37" cy="194.92" r="1.55"/>
<circle cx="118.93" cy="194.76" r="1.55"/>
<circle cx="116.92" cy="188.44" r="1.55"/>
<circle cx="99.74" cy="189.48" r="1.55"/>
<circle cx="110.18" cy="198.27" r="1.55"/>
<circle cx="118.23" cy="183.67" r="1.55"/>
<circle cx="113.59" cy="190.45" r="1.55"/>
<circle cx="112.58" cy="192.43" r="1.55"/>
<circle cx="113.77" cy="191.26" r="1.55"/>
<circle cx="112.66" cy="196.41" r="1.55"/>
<circle cx="116.93" cy="199.5" r="1.55"/>
<circle cx="116.37" cy="199.44" r="1.55"/>
<circle cx="80.11" cy="199.11" r="1.55"/>
<circle cx="104.29" cy="188.77" r="1.55"/>
<circle cx="109.38" cy="195.38" r="1.55"/>
<circle cx="119.39" cy="193.58" r="1.55"/>
<circle cx="116.89" cy="198.17" r="1.55"/>
<circle cx="112.09" cy="197.88" r="1.55"/>
<circle cx="96.1" cy="189.2" r="1.55"/>
<circle cx="118.16" cy="199.02" r="1.55"/>
<circle cx="119" cy="193.4" r="1.55"/>
<circle cx="107.99" cy="198.74" r="1.55"/>
<circle cx="118.28" cy="183.72" r="1.55"/>
<circle cx="115.73" cy="193.72" r="1.55"/>
<circle cx="118.48" cy="199.06" r="1.55"/>
<circle cx="113.84" cy="196.15" r="1.55"/>
<circle cx="119.49" cy="189.88" r="1.55"/>
<circle cx="113.23" cy="193.81" r="1.55"/>
<circle cx="119.59" cy="185.24" r="1.55"/>
<circle cx="118.63" cy="193.43" r="1.55"/>
<circle cx="105.62" cy="199.89" r="1.55"/>
<circle cx="117.2" cy="184.63" r="1.55"/>
<circle cx="102.35" cy="195.83" r="1.55"/>
<circle cx="100.81" cy="186.56" r="1.55"/>
<circle cx="103.47" cy="189.61" r="1.55"/>
<circle cx="120.11" cy="187.58" r="1.55"/>
<circle cx="108.88" cy="194.85" r="1.55"/>
<circle cx="104.92" cy="199.82" r="1.55"/>
<circle cx="106.31" cy="192.87" r="1.55"/>
<circle cx="118.13" cy="197.53" r="1.55"/>
<circle cx="111.06" cy="197.64" r="1.55"/>
<circle cx="105.07" cy="196.81" r="1.55"/>
<circle cx="105.74" cy="174.8" r="1.55"/>
<circle cx="117.56" cy="198.81" r="1.55"/>
<circle cx="97.77" cy="196.5" r="1.55"/>
<circle cx="84" cy="195.46" r="1.55"/>
<circle cx="69.62" cy="196.46" r="1.55"/>
<circle cx="113.61" cy="199.15" r="1.55"/>
<circle cx="116.72" cy="199.82" r="1.55"/>
<circle cx="119.4" cy="185.99" r="1.55"/>
<circle cx="120.85" cy="193.65" r="1.55"/>
<circle cx="101.13" cy="193.64" r="1.55"/>
<circle cx="109.3" cy="198.86" r="1.55"/>
<circle cx="115.27" cy="194.46" r="1.55"/>
<circle cx="74.88" cy="198.98" r="1.55"/>
<circle cx="118.29" cy="197.41" r="1.55"/>
<circle cx="107.15" cy="196.69" r="1.55"/>
<circle cx="120.57" cy="190.74" r="1.55"/>
<circle cx="118.76" cy="185.31" r="1.55"/>
<circle cx="117.6" cy="199.79" r="1.55"/>
<circle cx="112.07" cy="189.47" r="1.55"/>
<circle cx="116.32" cy="190.51" r="1.55"/>
<circle cx="113.93" cy="195.36" r="1.55"/>
<circle cx="88.78" cy="192.69" r="1.55"/>
<circle cx="120.83" cy="182.88" r="1.55"/>
<circle cx="114.85" cy="181.68" r="1.55"/>
<circle cx="118.64" cy="197.21" r="1.55"/>
<circle cx="120.31" cy="193.13" r="1.55"/>
<circle cx="120" cy="188.44" r="1.55"/>
<circle cx="104.75" cy="193.55" r="1.55"/>
<circle cx="106.48" cy="197.73" r="1.55"/>
<circle cx="102.27" cy="196.98" r="1.55"/>
<circle cx="103.61" cy="194.69" r="1.55"/>
<circle cx="119.6" cy="199.14" r="1.55"/>
<circle cx="120.98" cy="199.02" r="1.55"/>
<circle cx="114.97" cy="199.26" r="1.55"/>
<circle cx="120.88" cy="180.31" r="1.55"/>
<circle cx="116.09" cy="190.76" r="1.55"/>
<circle cx="115.08" cy="196.24" r="1.55"/>
<circle cx="114.6" cy="196.06" r="1.55"/>
<circle cx="104.74" cy="197.22" r="1.55"/>
<circle cx="97.42" cy="199.84" r="1.55"/>
<circle cx="106.14" cy="199.28" r="1.55"/>
<circle cx="111.43" cy="199.95" r="1.55"/>
<circle cx="113.35" cy="199.99" r="1.55"/>
<circle cx="90.65" cy="189.41" r="1.55"/>
<circle cx="105.11" cy="186.65" r="1.55"/>
<circle cx="119.58" cy="198.19" r="1.55"/>
<circle cx="119.07" cy="190.61" r="1.55"/>
<circle cx="97.3" cy="179.33" r="1.55"/>
<circle cx="108.62" cy="192.81" r="1.55"/>
<circle cx="96.92" cy="197.71" r="1.55"/>
<circle cx="118.26" cy="198.39" r="1.55"/>
<circle cx="119.88" cy="181.19" r="1.55"/>
<circle cx="119.56" cy="196.77" r="1.55"/>
<circle cx="103.89" cy="198" r="1.55"/>
<circle cx="80.34" cy="198.61" r="1.55"/>
<circle cx="113.46" cy="197.79" r="1.55"/>
<circle cx="113.9" cy="103.8" r="1.55"/>
<circle cx="91.8" cy="121.1" r="1.55"/>
<circle cx="111.3" cy="124" r="1.55"/>
<circle cx="113" cy="124.2" r="1.55"/>
<circle cx="117.4" cy="123.5" r="1.55"/>
<circle cx="104.1" cy="129.9" r="1.55"/>
<circle cx="114.8" cy="141.3" r="1.55"/>
<circle cx="109.7" cy="146.2" r="1.55"/>
<circle cx="110.5" cy="145.5" r="1.55"/>
<circle cx="116.7" cy="146.2" r="1.55"/>
<circle cx="118" cy="147" r="1.55"/>
<circle cx="103.4" cy="150.6" r="1.55"/>
<circle cx="117.4" cy="151.9" r="1.55"/>
<circle cx="119.9" cy="152.5" r="1.55"/>
<circle cx="114.2" cy="157.6" r="1.55"/>
<circle cx="119.3" cy="157.9" r="1.55"/>
<circle cx="119.3" cy="166" r="1.55"/>
<circle cx="55.1" cy="165.8" r="1.55"/>
<circle cx="67.4" cy="179.4" r="1.55"/>
<circle cx="58.2" cy="192.8" r="1.55"/>
<circle cx="50.4" cy="197.7" r="1.55"/>
<circle cx="96.4" cy="176.8" r="1.55"/>
<circle cx="99" cy="180" r="1.55"/>
<circle cx="101" cy="182" r="1.55"/>
<circle cx="68" cy="189" r="1.55"/>
<circle cx="72" cy="186" r="1.55"/>
<circle cx="74" cy="188" r="1.55"/>
<circle cx="64" cy="191" r="1.55"/>
<circle cx="78" cy="189" r="1.55"/>
<circle cx="82" cy="187" r="1.55"/>
<circle cx="84" cy="193" r="1.55"/>
<circle cx="88" cy="190" r="1.55"/>
<circle cx="85" cy="197" r="1.55"/>
<circle cx="69" cy="198" r="1.55"/>
<circle cx="92" cy="195" r="1.55"/>
</g>
<g fill="#BC3C29">
<circle cx="142.39" cy="181.13" r="1.55"/>
<circle cx="142.17" cy="176.12" r="1.55"/>
<circle cx="147.17" cy="193.63" r="1.55"/>
<circle cx="156.07" cy="195.31" r="1.55"/>
<circle cx="143.55" cy="198.33" r="1.55"/>
<circle cx="140.49" cy="182.48" r="1.55"/>
<circle cx="146.17" cy="198.81" r="1.55"/>
<circle cx="163.68" cy="197.95" r="1.55"/>
<circle cx="145.63" cy="197.53" r="1.55"/>
<circle cx="150.82" cy="194.39" r="1.55"/>
<circle cx="149.97" cy="198" r="1.55"/>
<circle cx="143.35" cy="197.6" r="1.55"/>
<circle cx="144.05" cy="198.8" r="1.55"/>
<circle cx="141.6" cy="165.29" r="1.55"/>
<circle cx="176.26" cy="198.67" r="1.55"/>
<circle cx="139.82" cy="196.47" r="1.55"/>
<circle cx="153.24" cy="190.27" r="1.55"/>
<circle cx="139.8" cy="186.62" r="1.55"/>
<circle cx="139.55" cy="187.98" r="1.55"/>
<circle cx="151.16" cy="172.55" r="1.55"/>
<circle cx="142.95" cy="186.06" r="1.55"/>
<circle cx="162.81" cy="183.57" r="1.55"/>
<circle cx="139.56" cy="189.5" r="1.55"/>
<circle cx="184.96" cy="196.74" r="1.55"/>
<circle cx="158.68" cy="194.93" r="1.55"/>
<circle cx="156.32" cy="195.75" r="1.55"/>
<circle cx="139.87" cy="198.63" r="1.55"/>
<circle cx="140.88" cy="196.54" r="1.55"/>
<circle cx="177.69" cy="193.59" r="1.55"/>
<circle cx="158.86" cy="194.65" r="1.55"/>
<circle cx="151.03" cy="189.19" r="1.55"/>
<circle cx="169.3" cy="184.36" r="1.55"/>
<circle cx="159.37" cy="199.37" r="1.55"/>
<circle cx="144.64" cy="199.74" r="1.55"/>
<circle cx="148.54" cy="189.52" r="1.55"/>
<circle cx="140.13" cy="197.03" r="1.55"/>
<circle cx="144.72" cy="197.94" r="1.55"/>
<circle cx="157.59" cy="197.22" r="1.55"/>
<circle cx="151.14" cy="195.61" r="1.55"/>
<circle cx="149.51" cy="181.71" r="1.55"/>
<circle cx="172.27" cy="199.25" r="1.55"/>
<circle cx="160.66" cy="197.28" r="1.55"/>
<circle cx="140.75" cy="194.04" r="1.55"/>
<circle cx="147.67" cy="178.33" r="1.55"/>
<circle cx="144.82" cy="199.92" r="1.55"/>
<circle cx="161.9" cy="199.25" r="1.55"/>
<circle cx="146.95" cy="187.15" r="1.55"/>
<circle cx="147.77" cy="196.06" r="1.55"/>
<circle cx="157.89" cy="199.88" r="1.55"/>
<circle cx="149.22" cy="196.54" r="1.55"/>
<circle cx="187.47" cy="189.63" r="1.55"/>
<circle cx="140.17" cy="197.02" r="1.55"/>
<circle cx="146.39" cy="191.66" r="1.55"/>
<circle cx="144.13" cy="196.57" r="1.55"/>
<circle cx="168.51" cy="180.29" r="1.55"/>
<circle cx="145.5" cy="183.75" r="1.55"/>
<circle cx="144.1" cy="199.34" r="1.55"/>
<circle cx="148.05" cy="192.83" r="1.55"/>
<circle cx="164.99" cy="178.46" r="1.55"/>
<circle cx="156.27" cy="190.86" r="1.55"/>
<circle cx="153.64" cy="192.22" r="1.55"/>
<circle cx="156.14" cy="176.47" r="1.55"/>
<circle cx="144.86" cy="199.37" r="1.55"/>
<circle cx="142.66" cy="197.78" r="1.55"/>
<circle cx="144.68" cy="187.68" r="1.55"/>
<circle cx="140.24" cy="191.72" r="1.55"/>
<circle cx="158.64" cy="198.04" r="1.55"/>
<circle cx="140.28" cy="196.2" r="1.55"/>
<circle cx="140.55" cy="178.72" r="1.55"/>
<circle cx="141.66" cy="197.76" r="1.55"/>
<circle cx="158.73" cy="189.33" r="1.55"/>
<circle cx="149.67" cy="183.95" r="1.55"/>
<circle cx="140.24" cy="153.45" r="1.55"/>
<circle cx="149.17" cy="197.65" r="1.55"/>
<circle cx="159.43" cy="193.09" r="1.55"/>
<circle cx="188.57" cy="199.28" r="1.55"/>
<circle cx="149.44" cy="195.82" r="1.55"/>
<circle cx="151.57" cy="198.22" r="1.55"/>
<circle cx="139.9" cy="188.11" r="1.55"/>
<circle cx="144.7" cy="183.5" r="1.55"/>
<circle cx="146.54" cy="196.29" r="1.55"/>
<circle cx="150.95" cy="195.16" r="1.55"/>
<circle cx="176.55" cy="190.02" r="1.55"/>
<circle cx="147.35" cy="198.42" r="1.55"/>
<circle cx="150.09" cy="191.03" r="1.55"/>
<circle cx="155.59" cy="167.64" r="1.55"/>
<circle cx="142.34" cy="194.85" r="1.55"/>
<circle cx="145.81" cy="197.32" r="1.55"/>
<circle cx="144.71" cy="195.2" r="1.55"/>
<circle cx="148.43" cy="197.97" r="1.55"/>
<circle cx="141.18" cy="195.95" r="1.55"/>
<circle cx="141.21" cy="195.71" r="1.55"/>
<circle cx="152.48" cy="194.08" r="1.55"/>
<circle cx="148.91" cy="194.78" r="1.55"/>
<circle cx="151.25" cy="191.61" r="1.55"/>
<circle cx="150.43" cy="194.24" r="1.55"/>
<circle cx="150.11" cy="197.16" r="1.55"/>
<circle cx="156.65" cy="194.05" r="1.55"/>
<circle cx="143.75" cy="197.77" r="1.55"/>
<circle cx="140.38" cy="194.27" r="1.55"/>
<circle cx="139.68" cy="197.11" r="1.55"/>
<circle cx="140.24" cy="195.49" r="1.55"/>
<circle cx="144.41" cy="193.26" r="1.55"/>
<circle cx="156.52" cy="193.71" r="1.55"/>
<circle cx="141.52" cy="176.24" r="1.55"/>
<circle cx="154.47" cy="195.58" r="1.55"/>
<circle cx="151.29" cy="195.4" r="1.55"/>
<circle cx="141.63" cy="189.35" r="1.55"/>
<circle cx="190.07" cy="190.56" r="1.55"/>
<circle cx="141.82" cy="198.72" r="1.55"/>
<circle cx="169.88" cy="184.54" r="1.55"/>
<circle cx="155.29" cy="190.82" r="1.55"/>
<circle cx="141.29" cy="181.54" r="1.55"/>
<circle cx="141.97" cy="198.36" r="1.55"/>
<circle cx="145.49" cy="200.01" r="1.55"/>
<circle cx="160.81" cy="198.88" r="1.55"/>
<circle cx="154.84" cy="194.39" r="1.55"/>
<circle cx="156.29" cy="194.12" r="1.55"/>
<circle cx="176.62" cy="196.94" r="1.55"/>
<circle cx="147.36" cy="197.23" r="1.55"/>
<circle cx="155" cy="197.71" r="1.55"/>
<circle cx="157.8" cy="199.43" r="1.55"/>
<circle cx="142.6" cy="194.83" r="1.55"/>
<circle cx="141.07" cy="197.39" r="1.55"/>
<circle cx="160.52" cy="197.02" r="1.55"/>
<circle cx="142.35" cy="182.62" r="1.55"/>
<circle cx="149.29" cy="193.44" r="1.55"/>
<circle cx="164.56" cy="191.97" r="1.55"/>
<circle cx="143.04" cy="199.92" r="1.55"/>
<circle cx="148.62" cy="191.91" r="1.55"/>
<circle cx="158.19" cy="198.65" r="1.55"/>
<circle cx="150.99" cy="181.94" r="1.55"/>
<circle cx="142.94" cy="197.03" r="1.55"/>
<circle cx="145.85" cy="194.08" r="1.55"/>
<circle cx="192.05" cy="194.31" r="1.55"/>
<circle cx="164.46" cy="193.15" r="1.55"/>
<circle cx="146.83" cy="197.53" r="1.55"/>
<circle cx="144.44" cy="188.71" r="1.55"/>
<circle cx="141.76" cy="198.5" r="1.55"/>
<circle cx="142.26" cy="189.62" r="1.55"/>
<circle cx="144.82" cy="198.31" r="1.55"/>
<circle cx="144.11" cy="199.35" r="1.55"/>
<circle cx="146.07" cy="188.42" r="1.55"/>
<circle cx="146.26" cy="195.91" r="1.55"/>
<circle cx="139.85" cy="195" r="1.55"/>
<circle cx="140.43" cy="199.36" r="1.55"/>
<circle cx="162.22" cy="191.96" r="1.55"/>
<circle cx="159.75" cy="199.09" r="1.55"/>
<circle cx="144.71" cy="181.92" r="1.55"/>
<circle cx="146.01" cy="181.9" r="1.55"/>
<circle cx="176.59" cy="199.97" r="1.55"/>
<circle cx="146" cy="193.91" r="1.55"/>
<circle cx="144.42" cy="196.45" r="1.55"/>
<circle cx="144.54" cy="198.04" r="1.55"/>
<circle cx="139.84" cy="179.8" r="1.55"/>
<circle cx="139.98" cy="170.98" r="1.55"/>
<circle cx="148.49" cy="199.88" r="1.55"/>
<circle cx="140.35" cy="189.93" r="1.55"/>
<circle cx="140.79" cy="195.72" r="1.55"/>
<circle cx="143.2" cy="170.48" r="1.55"/>
<circle cx="146.76" cy="197.72" r="1.55"/>
<circle cx="171.25" cy="178.16" r="1.55"/>
<circle cx="154.01" cy="199.06" r="1.55"/>
<circle cx="164.66" cy="196.27" r="1.55"/>
<circle cx="157.1" cy="191.8" r="1.55"/>
<circle cx="151.6" cy="190.59" r="1.55"/>
<circle cx="158.56" cy="196.03" r="1.55"/>
<circle cx="147.08" cy="199.32" r="1.55"/>
<circle cx="144.81" cy="184.02" r="1.55"/>
<circle cx="142.37" cy="187.21" r="1.55"/>
<circle cx="158.25" cy="198.6" r="1.55"/>
<circle cx="156.01" cy="193.13" r="1.55"/>
<circle cx="181.76" cy="196.85" r="1.55"/>
<circle cx="155.64" cy="188.07" r="1.55"/>
<circle cx="144.96" cy="198.16" r="1.55"/>
<circle cx="144.77" cy="192.2" r="1.55"/>
<circle cx="142.92" cy="183.14" r="1.55"/>
<circle cx="143.52" cy="188.3" r="1.55"/>
<circle cx="143.94" cy="194.53" r="1.55"/>
<circle cx="163.14" cy="195.74" r="1.55"/>
<circle cx="150.68" cy="197.29" r="1.55"/>
<circle cx="146.74" cy="199.58" r="1.55"/>
<circle cx="147.89" cy="196.04" r="1.55"/>
<circle cx="143.58" cy="198.48" r="1.55"/>
<circle cx="144.28" cy="197.35" r="1.55"/>
<circle cx="144.66" cy="187.73" r="1.55"/>
<circle cx="165.27" cy="184.18" r="1.55"/>
<circle cx="145.77" cy="183.94" r="1.55"/>
<circle cx="149.61" cy="162.89" r="1.55"/>
<circle cx="141.05" cy="183.61" r="1.55"/>
<circle cx="149.64" cy="195.29" r="1.55"/>
<circle cx="155.7" cy="188.49" r="1.55"/>
<circle cx="159.79" cy="197.3" r="1.55"/>
<circle cx="144.99" cy="193.42" r="1.55"/>
<circle cx="140.03" cy="175.38" r="1.55"/>
<circle cx="149.58" cy="196.18" r="1.55"/>
<circle cx="151.11" cy="179.88" r="1.55"/>
<circle cx="158.11" cy="193.15" r="1.55"/>
<circle cx="142.18" cy="166.1" r="1.55"/>
<circle cx="145.11" cy="182.95" r="1.55"/>
<circle cx="147.45" cy="192.53" r="1.55"/>
<circle cx="164.41" cy="199.62" r="1.55"/>
<circle cx="143.51" cy="198.42" r="1.55"/>
<circle cx="140.08" cy="193.96" r="1.55"/>
<circle cx="167.66" cy="198.14" r="1.55"/>
<circle cx="140.9" cy="166.02" r="1.55"/>
<circle cx="147.28" cy="195.71" r="1.55"/>
<circle cx="152.8" cy="189.06" r="1.55"/>
<circle cx="142.47" cy="197.94" r="1.55"/>
<circle cx="145.83" cy="186.82" r="1.55"/>
<circle cx="169.36" cy="198.65" r="1.55"/>
<circle cx="152.85" cy="196.2" r="1.55"/>
<circle cx="163.51" cy="197.76" r="1.55"/>
<circle cx="143.12" cy="199.82" r="1.55"/>
<circle cx="162.89" cy="198.84" r="1.55"/>
<circle cx="143.25" cy="197.65" r="1.55"/>
<circle cx="168.6" cy="199.46" r="1.55"/>
<circle cx="144.21" cy="191.28" r="1.55"/>
<circle cx="141.6" cy="191" r="1.55"/>
<circle cx="145.83" cy="199.92" r="1.55"/>
<circle cx="150.16" cy="197.24" r="1.55"/>
<circle cx="142.24" cy="165.17" r="1.55"/>
<circle cx="160.33" cy="196.18" r="1.55"/>
<circle cx="143.95" cy="199.9" r="1.55"/>
<circle cx="154.37" cy="198.02" r="1.55"/>
<circle cx="147.7" cy="193.44" r="1.55"/>
<circle cx="155.46" cy="198.9" r="1.55"/>
<circle cx="140.63" cy="181.14" r="1.55"/>
<circle cx="140.14" cy="192.58" r="1.55"/>
<circle cx="139.95" cy="196.53" r="1.55"/>
<circle cx="141.93" cy="181.89" r="1.55"/>
<circle cx="155.01" cy="198.2" r="1.55"/>
<circle cx="149.58" cy="195.55" r="1.55"/>
<circle cx="140.62" cy="194.39" r="1.55"/>
<circle cx="155.36" cy="199.12" r="1.55"/>
<circle cx="142.66" cy="196.08" r="1.55"/>
<circle cx="139.58" cy="175.54" r="1.55"/>
<circle cx="145.26" cy="192.69" r="1.55"/>
<circle cx="148.04" cy="189.98" r="1.55"/>
<circle cx="151.78" cy="196.72" r="1.55"/>
<circle cx="141.04" cy="193.6" r="1.55"/>
<circle cx="139.6" cy="198.67" r="1.55"/>
<circle cx="159.7" cy="195.34" r="1.55"/>
<circle cx="157.25" cy="191.38" r="1.55"/>
<circle cx="148.08" cy="191.39" r="1.55"/>
<circle cx="172.33" cy="180.97" r="1.55"/>
<circle cx="142.88" cy="179.28" r="1.55"/>
<circle cx="146.79" cy="198.42" r="1.55"/>
<circle cx="145.55" cy="193.79" r="1.55"/>
<circle cx="164.57" cy="185.01" r="1.55"/>
<circle cx="148.88" cy="189.2" r="1.55"/>
<circle cx="148.11" cy="199.35" r="1.55"/>
<circle cx="146.05" cy="191.65" r="1.55"/>
<circle cx="155.53" cy="192.73" r="1.55"/>
<circle cx="139.56" cy="180.99" r="1.55"/>
<circle cx="184.1" cy="198.47" r="1.55"/>
<circle cx="153.76" cy="198.59" r="1.55"/>
<circle cx="156.1" cy="182.37" r="1.55"/>
<circle cx="142.19" cy="183.22" r="1.55"/>
<circle cx="143.59" cy="182.88" r="1.55"/>
<circle cx="139.9" cy="178.74" r="1.55"/>
<circle cx="142.3" cy="195.73" r="1.55"/>
<circle cx="141.49" cy="182.46" r="1.55"/>
<circle cx="142.09" cy="195.79" r="1.55"/>
<circle cx="144.72" cy="197.7" r="1.55"/>
<circle cx="142.42" cy="187.35" r="1.55"/>
<circle cx="149.34" cy="190.29" r="1.55"/>
<circle cx="141.48" cy="191.6" r="1.55"/>
<circle cx="140.48" cy="198.65" r="1.55"/>
<circle cx="145.98" cy="193.75" r="1.55"/>
<circle cx="153.9" cy="194.6" r="1.55"/>
<circle cx="140.45" cy="193.76" r="1.55"/>
<circle cx="154.79" cy="180.67" r="1.55"/>
<circle cx="166.38" cy="195.67" r="1.55"/>
<circle cx="170.76" cy="198.15" r="1.55"/>
<circle cx="150.46" cy="190.67" r="1.55"/>
<circle cx="139.55" cy="198.59" r="1.55"/>
<circle cx="143.95" cy="198.1" r="1.55"/>
<circle cx="141.72" cy="191.8" r="1.55"/>
<circle cx="151.16" cy="195.71" r="1.55"/>
<circle cx="146.8" cy="63.6" r="1.55"/>
<circle cx="142.8" cy="131.9" r="1.55"/>
<circle cx="144.1" cy="137.5" r="1.55"/>
<circle cx="140" cy="138.8" r="1.55"/>
<circle cx="141.3" cy="148.7" r="1.55"/>
<circle cx="145.3" cy="150" r="1.55"/>
<circle cx="141.5" cy="155" r="1.55"/>
<circle cx="144.7" cy="155.7" r="1.55"/>
<circle cx="194.1" cy="147.1" r="1.55"/>
<circle cx="202.9" cy="169.5" r="1.55"/>
<circle cx="209.6" cy="190" r="1.55"/>
<circle cx="229.2" cy="194.1" r="1.55"/>
<circle cx="164.1" cy="168.7" r="1.55"/>
<circle cx="177.3" cy="175.8" r="1.55"/>
<circle cx="176" cy="184" r="1.55"/>
<circle cx="180" cy="186" r="1.55"/>
<circle cx="186" cy="190" r="1.55"/>
<circle cx="190" cy="193" r="1.55"/>
<circle cx="193" cy="195" r="1.55"/>
<circle cx="170" cy="181" r="1.55"/>
<circle cx="166" cy="185" r="1.55"/>
<circle cx="172" cy="190" r="1.55"/>
<circle cx="181" cy="193" r="1.55"/>
<circle cx="185" cy="196" r="1.55"/>
<circle cx="195" cy="189" r="1.55"/>
<circle cx="198" cy="192" r="1.55"/>
</g>
</g>
<line x1="121.16" y1="225.8" x2="121.16" y2="14.5" stroke="#333333" stroke-width="1.4" stroke-dasharray="6.7 6.23"/>
<line x1="139.53" y1="225.8" x2="139.53" y2="14.5" stroke="#333333" stroke-width="1.4" stroke-dasharray="6.7 6.23"/>
<line x1="29.5" y1="200.01" x2="230.4" y2="200.01" stroke="#333333" stroke-width="1.4" stroke-dasharray="6.7 6.23"/>
<line x1="104.1" y1="116.4" x2="112" y2="123.2" stroke="#1a1a1a" stroke-width="0.6"/>
<line x1="109.4" y1="116.6" x2="117" y2="122.9" stroke="#1a1a1a" stroke-width="0.6"/>
<line x1="114.4" y1="105.4" x2="115.8" y2="109.6" stroke="#1a1a1a" stroke-width="0.6"/>
<line x1="106.8" y1="157.2" x2="119.3" y2="166" stroke="#1a1a1a" stroke-width="0.6"/>
<line x1="50.4" y1="197.7" x2="50.4" y2="208.8" stroke="#1a1a1a" stroke-width="0.6"/>
<line x1="224.6" y1="213.8" x2="229.2" y2="194.6" stroke="#1a1a1a" stroke-width="0.6"/>
<text x="150.6" y="66.3" font-size="7.6" fill="#1a1a1a">ANAPC11</text>
<text x="76.7" y="115.7" font-size="7.6" fill="#F01E28">MT-ND2/4/5</text>
<text x="65.4" y="127.6" font-size="7.6" fill="#1a1a1a">ACTC1</text>
<text x="71.8" y="137" font-size="7.6" fill="#F01E28">MT-ATP8</text>
<text x="87.3" y="159.8" font-size="7.6" fill="#F01E28">COX1</text>
<text x="38.4" y="161.7" font-size="7.6" fill="#1a1a1a">CALHM2</text>
<text x="35.7" y="178.2" font-size="7.6" fill="#1a1a1a">PRSS36</text>
<text x="74.1" y="175.5" font-size="7.6" fill="#1a1a1a">PSCA</text>
<text x="34.4" y="191.6" font-size="7.6" fill="#1a1a1a">HPCA</text>
<text x="31.4" y="215.7" font-size="7.6" fill="#F01E28">MYOCD</text>
<text x="144" y="129.8" font-size="7.6" fill="#F01E28">ATP5MG</text>
<text x="146.2" y="140" font-size="7.6" fill="#1a1a1a">VPS53</text>
<text x="141.8" y="147.7" font-size="7.6" fill="#1a1a1a">TMSB10</text>
<text x="196.3" y="149.2" font-size="7.6" fill="#1a1a1a">MFAP5</text>
<text x="190.1" y="167.1" font-size="7.6" fill="#F01E28">MAGEA11</text>
<text x="193" y="187.5" font-size="7.6" fill="#1a1a1a">SERPINA1</text>
<text x="202.2" y="218.9" font-size="7.6" fill="#1a1a1a">MAPK4</text>
<text x="72" y="24.6" font-size="8.9" text-anchor="middle" fill="#1a1a1a">(254)</text>
<text x="185.6" y="24.6" font-size="8.9" text-anchor="middle" fill="#1a1a1a">(297)</text>
<rect x="29.5" y="14.5" width="200.9" height="211.3" fill="none" stroke="#333333" stroke-width="1.05"/>
<line x1="26.9" y1="216.7" x2="29.5" y2="216.7" stroke="#333333" stroke-width="1"/>
<text x="25.8" y="219.9" font-size="8.9" text-anchor="end" fill="#4D4D4D">0</text>
<line x1="26.9" y1="152.5" x2="29.5" y2="152.5" stroke="#333333" stroke-width="1"/>
<text x="25.8" y="155.7" font-size="8.9" text-anchor="end" fill="#4D4D4D">5</text>
<line x1="26.9" y1="88.3" x2="29.5" y2="88.3" stroke="#333333" stroke-width="1"/>
<text x="25.8" y="91.5" font-size="8.9" text-anchor="end" fill="#4D4D4D">10</text>
<line x1="26.9" y1="24.1" x2="29.5" y2="24.1" stroke="#333333" stroke-width="1"/>
<text x="25.8" y="27.3" font-size="8.9" text-anchor="end" fill="#4D4D4D">15</text>
<line x1="38.5" y1="225.8" x2="38.5" y2="228.4" stroke="#333333" stroke-width="1"/>
<text x="38.5" y="238.1" font-size="8.9" text-anchor="middle" fill="#4D4D4D">−5.0</text>
<line x1="84.42" y1="225.8" x2="84.42" y2="228.4" stroke="#333333" stroke-width="1"/>
<text x="84.42" y="238.1" font-size="8.9" text-anchor="middle" fill="#4D4D4D">−2.5</text>
<line x1="130.35" y1="225.8" x2="130.35" y2="228.4" stroke="#333333" stroke-width="1"/>
<text x="130.35" y="238.1" font-size="8.9" text-anchor="middle" fill="#4D4D4D">0.0</text>
<line x1="176.28" y1="225.8" x2="176.28" y2="228.4" stroke="#333333" stroke-width="1"/>
<text x="176.28" y="238.1" font-size="8.9" text-anchor="middle" fill="#4D4D4D">2.5</text>
<line x1="222.2" y1="225.8" x2="222.2" y2="228.4" stroke="#333333" stroke-width="1"/>
<text x="222.2" y="238.1" font-size="8.9" text-anchor="middle" fill="#4D4D4D">5.0</text>
<text x="0" y="0" font-size="10.4" text-anchor="middle" fill="#111" transform="translate(12.2,114) rotate(-90)">−log<tspan font-size="7" dy="2.2">10</tspan><tspan dy="-2.2">(pvalue)</tspan></text>
<text x="139.5" y="250.8" font-size="11.4" text-anchor="middle" fill="#111">log<tspan font-size="7.2" dy="3.1">2</tspan><tspan dy="-3.1">(FoldChange of TE)</tspan></text>
<text x="239" y="107.8" font-size="7.45" fill="#1a1a1a">Significant</text>
<circle cx="243.6" cy="114.7" r="2.5" fill="#0072B5"/>
<text x="250.8" y="117.4" font-size="7.45" fill="#1a1a1a">Down</text>
<circle cx="243.6" cy="123.45" r="2.5" fill="#BEBEBE"/>
<text x="250.8" y="126.15" font-size="7.45" fill="#1a1a1a">Not</text>
<circle cx="243.6" cy="132.2" r="2.5" fill="#BC3C29"/>
<text x="250.8" y="134.9" font-size="7.45" fill="#1a1a1a">Up</text>
</g>
<line x1="501.3" y1="31" x2="501.3" y2="206" stroke="#E6E6E6" stroke-width="0.9"/>
<line x1="530.5" y1="31" x2="530.5" y2="206" stroke="#E6E6E6" stroke-width="0.9"/>
<line x1="559.7" y1="31" x2="559.7" y2="206" stroke="#E6E6E6" stroke-width="0.9"/>
<line x1="588.9" y1="31" x2="588.9" y2="206" stroke="#E6E6E6" stroke-width="0.9"/>
<line x1="618.1" y1="31" x2="618.1" y2="206" stroke="#E6E6E6" stroke-width="0.9"/>
<line x1="489.8" y1="43.6" x2="620.9" y2="43.6" stroke="#E6E6E6" stroke-width="1.5"/>
<line x1="489.8" y1="65" x2="620.9" y2="65" stroke="#E6E6E6" stroke-width="1.5"/>
<line x1="489.8" y1="86.4" x2="620.9" y2="86.4" stroke="#E6E6E6" stroke-width="1.5"/>
<line x1="489.8" y1="107.8" x2="620.9" y2="107.8" stroke="#E6E6E6" stroke-width="1.5"/>
<line x1="489.8" y1="129.2" x2="620.9" y2="129.2" stroke="#E6E6E6" stroke-width="1.5"/>
<line x1="489.8" y1="150.6" x2="620.9" y2="150.6" stroke="#E6E6E6" stroke-width="1.5"/>
<line x1="489.8" y1="172" x2="620.9" y2="172" stroke="#E6E6E6" stroke-width="1.5"/>
<line x1="489.8" y1="193.4" x2="620.9" y2="193.4" stroke="#E6E6E6" stroke-width="1.5"/>
<line x1="515.9" y1="31" x2="515.9" y2="206" stroke="#E6E6E6" stroke-width="1.5"/>
<line x1="545.1" y1="31" x2="545.1" y2="206" stroke="#E6E6E6" stroke-width="1.5"/>
<line x1="574.3" y1="31" x2="574.3" y2="206" stroke="#E6E6E6" stroke-width="1.5"/>
<line x1="603.5" y1="31" x2="603.5" y2="206" stroke="#E6E6E6" stroke-width="1.5"/>
<clipPath id="cp489"><rect x="489.8" y="31" width="131.1" height="175"/></clipPath>
<g clip-path="url(#cp489)">
<circle cx="495.46" cy="43.6" r="6.9" fill="#9900CC"/>
<circle cx="512.98" cy="65" r="4.8" fill="#8800D6"/>
<circle cx="506.99" cy="86.4" r="4.85" fill="#5C00EC"/>
<circle cx="496.63" cy="107.8" r="6.05" fill="#5000F0"/>
<circle cx="515.61" cy="129.2" r="4.3" fill="#5A00F0"/>
<circle cx="503.93" cy="150.6" r="4.95" fill="#3300FC"/>
<circle cx="501.3" cy="172" r="5.2" fill="#0A00FF"/>
<circle cx="510.94" cy="193.4" r="4.45" fill="#0800FF"/>
</g>
<text x="484.8" y="47.85" font-size="10.62" text-anchor="end" fill="#1a1a1a">membrane organization</text>
<line x1="487.2" y1="43.6" x2="489.8" y2="43.6" stroke="#333333" stroke-width="0.9"/>
<text x="484.8" y="63.45" font-size="10.62" text-anchor="end" fill="#1a1a1a">signal transduction by p53</text>
<text x="484.8" y="73.45" font-size="10.62" text-anchor="end" fill="#1a1a1a">class mediator</text>
<line x1="487.2" y1="65" x2="489.8" y2="65" stroke="#333333" stroke-width="0.9"/>
<text x="484.8" y="90.65" font-size="10.62" text-anchor="end" fill="#1a1a1a">nucleosome assembly</text>
<line x1="487.2" y1="86.4" x2="489.8" y2="86.4" stroke="#333333" stroke-width="0.9"/>
<text x="484.8" y="112.05" font-size="10.62" text-anchor="end" fill="#1a1a1a">mitochondrion organization</text>
<line x1="487.2" y1="107.8" x2="489.8" y2="107.8" stroke="#333333" stroke-width="0.9"/>
<text x="484.8" y="133.45" font-size="10.62" text-anchor="end" fill="#1a1a1a">protein targeting to mitochondrion</text>
<line x1="487.2" y1="129.2" x2="489.8" y2="129.2" stroke="#333333" stroke-width="0.9"/>
<text x="484.8" y="154.85" font-size="10.62" text-anchor="end" fill="#1a1a1a">nucleosome organization</text>
<line x1="487.2" y1="150.6" x2="489.8" y2="150.6" stroke="#333333" stroke-width="0.9"/>
<text x="484.8" y="176.25" font-size="10.62" text-anchor="end" fill="#1a1a1a">mitochondrial transport</text>
<line x1="487.2" y1="172" x2="489.8" y2="172" stroke="#333333" stroke-width="0.9"/>
<text x="484.8" y="191.85" font-size="10.62" text-anchor="end" fill="#1a1a1a">establishment of protein</text>
<text x="484.8" y="201.85" font-size="10.62" text-anchor="end" fill="#1a1a1a">localization to mitochondrion</text>
<line x1="487.2" y1="193.4" x2="489.8" y2="193.4" stroke="#333333" stroke-width="0.9"/>
<rect x="620.9" y="31" width="14.7" height="175" fill="#D9D9D9" stroke="#333333" stroke-width="1"/>
<rect x="489.8" y="31" width="131.1" height="175" fill="none" stroke="#1a1a1a" stroke-width="1.2"/>
<text x="0" y="0" font-size="7.6" text-anchor="middle" fill="#1a1a1a" transform="translate(625.55,118.5) rotate(90)">GO Biological Processes</text>
<line x1="489.8" y1="210.9" x2="620.9" y2="210.9" stroke="#1a1a1a" stroke-width="1.6"/>
<line x1="515.9" y1="210.9" x2="515.9" y2="213.4" stroke="#1a1a1a" stroke-width="1"/>
<text x="515.4" y="223.9" font-size="10.5" text-anchor="middle" fill="#262626">10</text>
<line x1="545.1" y1="210.9" x2="545.1" y2="213.4" stroke="#1a1a1a" stroke-width="1"/>
<text x="544.6" y="223.9" font-size="10.5" text-anchor="middle" fill="#262626">20</text>
<line x1="574.3" y1="210.9" x2="574.3" y2="213.4" stroke="#1a1a1a" stroke-width="1"/>
<text x="573.8" y="223.9" font-size="10.5" text-anchor="middle" fill="#262626">30</text>
<line x1="603.5" y1="210.9" x2="603.5" y2="213.4" stroke="#1a1a1a" stroke-width="1"/>
<text x="603" y="223.9" font-size="10.5" text-anchor="middle" fill="#262626">40</text>
<text x="558.8" y="234.6" font-size="10.5" text-anchor="middle" fill="#1a1a1a">Enrich factor</text>
<text x="557.5" y="24.8" font-size="10.5" text-anchor="middle" font-weight="bold" fill="#111">Up regulated</text>
<linearGradient id="g47" x1="0" y1="0" x2="0" y2="1"><stop offset="0" stop-color="#ff0000"/><stop offset="0.05" stop-color="#fb001a"/><stop offset="0.1" stop-color="#f6002a"/><stop offset="0.15" stop-color="#f20037"/><stop offset="0.2" stop-color="#ed0044"/><stop offset="0.25" stop-color="#e80050"/><stop offset="0.3" stop-color="#e3005b"/><stop offset="0.35" stop-color="#dd0066"/><stop offset="0.4" stop-color="#d70072"/><stop offset="0.45" stop-color="#d1007d"/><stop offset="0.5" stop-color="#ca0088"/><stop offset="0.55" stop-color="#c20094"/><stop offset="0.6" stop-color="#ba009f"/><stop offset="0.65" stop-color="#b000ab"/><stop offset="0.7" stop-color="#a600b7"/><stop offset="0.75" stop-color="#9a00c3"/><stop offset="0.8" stop-color="#8d00ce"/><stop offset="0.85" stop-color="#7c00da"/><stop offset="0.9" stop-color="#6800e7"/><stop offset="0.95" stop-color="#4b00f3"/><stop offset="1" stop-color="#0000ff"/></linearGradient>
<rect x="640.4" y="47.7" width="15" height="73.5" fill="url(#g47)" stroke="none" stroke-width="1"/>
<line x1="640.4" y1="48.35" x2="643.2" y2="48.35" stroke="white" stroke-width="0.8"/>
<line x1="652.6" y1="48.35" x2="655.4" y2="48.35" stroke="white" stroke-width="0.8"/>
<text x="657.6" y="51.45" font-size="8.6" fill="#1a1a1a">12</text>
<line x1="640.4" y1="66.79" x2="643.2" y2="66.79" stroke="white" stroke-width="0.8"/>
<line x1="652.6" y1="66.79" x2="655.4" y2="66.79" stroke="white" stroke-width="0.8"/>
<text x="657.6" y="69.89" font-size="8.6" fill="#1a1a1a">10</text>
<line x1="640.4" y1="85.23" x2="643.2" y2="85.23" stroke="white" stroke-width="0.8"/>
<line x1="652.6" y1="85.23" x2="655.4" y2="85.23" stroke="white" stroke-width="0.8"/>
<text x="657.6" y="88.33" font-size="8.6" fill="#1a1a1a">8</text>
<line x1="640.4" y1="103.68" x2="643.2" y2="103.68" stroke="white" stroke-width="0.8"/>
<line x1="652.6" y1="103.68" x2="655.4" y2="103.68" stroke="white" stroke-width="0.8"/>
<text x="657.6" y="106.78" font-size="8.6" fill="#1a1a1a">6</text>
<text x="0" y="0" font-size="8.6" text-anchor="middle" fill="#1a1a1a" transform="translate(676.4,84.5) rotate(-90)">−log<tspan font-size="6" dy="1.8">10</tspan><tspan dy="-1.8">(pvalue)</tspan></text>
<text x="638.9" y="146.7" font-size="9" fill="#1a1a1a">Count</text>
<circle cx="649.9" cy="155.9" r="5.4" fill="black"/>
<text x="661.1" y="159" font-size="8.6" fill="#1a1a1a">10</text>
<circle cx="649.9" cy="171.3" r="6.9" fill="black"/>
<text x="661.1" y="174.4" font-size="8.6" fill="#1a1a1a">20</text>
<circle cx="649.9" cy="188.5" r="8.05" fill="black"/>
<text x="661.1" y="191.6" font-size="8.6" fill="#1a1a1a">30</text>
<line x1="481.89" y1="269.1" x2="481.89" y2="594.4" stroke="#E6E6E6" stroke-width="0.9"/>
<line x1="520.46" y1="269.1" x2="520.46" y2="594.4" stroke="#E6E6E6" stroke-width="0.9"/>
<line x1="559.04" y1="269.1" x2="559.04" y2="594.4" stroke="#E6E6E6" stroke-width="0.9"/>
<line x1="597.61" y1="269.1" x2="597.61" y2="594.4" stroke="#E6E6E6" stroke-width="0.9"/>
<line x1="461" y1="281.5" x2="622.3" y2="281.5" stroke="#E6E6E6" stroke-width="1.5"/>
<line x1="461" y1="302.96" x2="622.3" y2="302.96" stroke="#E6E6E6" stroke-width="1.5"/>
<line x1="461" y1="324.42" x2="622.3" y2="324.42" stroke="#E6E6E6" stroke-width="1.5"/>
<line x1="461" y1="345.88" x2="622.3" y2="345.88" stroke="#E6E6E6" stroke-width="1.5"/>
<line x1="461" y1="367.34" x2="622.3" y2="367.34" stroke="#E6E6E6" stroke-width="1.5"/>
<line x1="461" y1="388.8" x2="622.3" y2="388.8" stroke="#E6E6E6" stroke-width="1.5"/>
<line x1="461" y1="410.26" x2="622.3" y2="410.26" stroke="#E6E6E6" stroke-width="1.5"/>
<line x1="461" y1="431.72" x2="622.3" y2="431.72" stroke="#E6E6E6" stroke-width="1.5"/>
<line x1="461" y1="453.18" x2="622.3" y2="453.18" stroke="#E6E6E6" stroke-width="1.5"/>
<line x1="461" y1="474.64" x2="622.3" y2="474.64" stroke="#E6E6E6" stroke-width="1.5"/>
<line x1="461" y1="496.1" x2="622.3" y2="496.1" stroke="#E6E6E6" stroke-width="1.5"/>
<line x1="461" y1="517.56" x2="622.3" y2="517.56" stroke="#E6E6E6" stroke-width="1.5"/>
<line x1="461" y1="539.02" x2="622.3" y2="539.02" stroke="#E6E6E6" stroke-width="1.5"/>
<line x1="461" y1="560.48" x2="622.3" y2="560.48" stroke="#E6E6E6" stroke-width="1.5"/>
<line x1="461" y1="581.94" x2="622.3" y2="581.94" stroke="#E6E6E6" stroke-width="1.5"/>
<line x1="462.6" y1="269.1" x2="462.6" y2="594.4" stroke="#E6E6E6" stroke-width="1.5"/>
<line x1="501.18" y1="269.1" x2="501.18" y2="594.4" stroke="#E6E6E6" stroke-width="1.5"/>
<line x1="539.75" y1="269.1" x2="539.75" y2="594.4" stroke="#E6E6E6" stroke-width="1.5"/>
<line x1="578.33" y1="269.1" x2="578.33" y2="594.4" stroke="#E6E6E6" stroke-width="1.5"/>
<line x1="616.9" y1="269.1" x2="616.9" y2="594.4" stroke="#E6E6E6" stroke-width="1.5"/>
<clipPath id="cp461"><rect x="461" y="269.1" width="161.3" height="325.3"/></clipPath>
<g clip-path="url(#cp461)">
<circle cx="468.77" cy="281.5" r="7.2" fill="#FF0033"/>
<circle cx="468.77" cy="302.96" r="7.4" fill="#D8006C"/>
<circle cx="479.26" cy="324.42" r="5.6" fill="#CC0082"/>
<circle cx="475.72" cy="345.88" r="5.7" fill="#A000B5"/>
<circle cx="614.74" cy="367.34" r="2.5" fill="#A000B8"/>
<circle cx="614.74" cy="388.8" r="2.5" fill="#A000B8"/>
<circle cx="470.93" cy="410.26" r="6.5" fill="#A000B8"/>
<circle cx="471.24" cy="431.72" r="6.5" fill="#A000B8"/>
<circle cx="478.65" cy="453.18" r="5.3" fill="#8A00C8"/>
<circle cx="482.2" cy="474.64" r="5.1" fill="#7A00D8"/>
<circle cx="470.93" cy="496.1" r="6.6" fill="#7000DC"/>
<circle cx="484.97" cy="517.56" r="4.9" fill="#8000D0"/>
<circle cx="473.86" cy="539.02" r="6.2" fill="#0000FF"/>
<circle cx="480.81" cy="560.48" r="5.1" fill="#0600FC"/>
<circle cx="480.81" cy="581.94" r="5.1" fill="#0600FC"/>
</g>
<text x="457.1" y="286.25" font-size="10.62" text-anchor="end" fill="#1a1a1a">chromatin organization</text>
<line x1="458.4" y1="281.5" x2="461" y2="281.5" stroke="#333333" stroke-width="0.9"/>
<text x="457.1" y="307.71" font-size="10.62" text-anchor="end" fill="#1a1a1a">chromatin remodeling</text>
<line x1="458.4" y1="302.96" x2="461" y2="302.96" stroke="#333333" stroke-width="0.9"/>
<text x="457.1" y="329.17" font-size="10.62" text-anchor="end" fill="#1a1a1a">oxidative phosphorylation</text>
<line x1="458.4" y1="324.42" x2="461" y2="324.42" stroke="#333333" stroke-width="0.9"/>
<text x="457.1" y="350.63" font-size="10.62" text-anchor="end" fill="#1a1a1a">electron transport chain</text>
<line x1="458.4" y1="345.88" x2="461" y2="345.88" stroke="#333333" stroke-width="0.9"/>
<text x="457.1" y="366.29" font-size="10.62" text-anchor="end" fill="#1a1a1a">energy coupled proton transmembrane</text>
<text x="457.1" y="376.29" font-size="10.62" text-anchor="end" fill="#1a1a1a">transport, against electrochemical gradient</text>
<line x1="458.4" y1="367.34" x2="461" y2="367.34" stroke="#333333" stroke-width="0.9"/>
<text x="457.1" y="393.55" font-size="10.62" text-anchor="end" fill="#1a1a1a">electron transport coupled proton transport</text>
<line x1="458.4" y1="388.8" x2="461" y2="388.8" stroke="#333333" stroke-width="0.9"/>
<text x="457.1" y="415.01" font-size="10.62" text-anchor="end" fill="#1a1a1a">response to oxygen levels</text>
<line x1="458.4" y1="410.26" x2="461" y2="410.26" stroke="#333333" stroke-width="0.9"/>
<text x="457.1" y="436.47" font-size="10.62" text-anchor="end" fill="#1a1a1a">response to hypoxia</text>
<line x1="458.4" y1="431.72" x2="461" y2="431.72" stroke="#333333" stroke-width="0.9"/>
<text x="457.1" y="457.93" font-size="10.62" text-anchor="end" fill="#1a1a1a">respiratory electron transport chain</text>
<line x1="458.4" y1="453.18" x2="461" y2="453.18" stroke="#333333" stroke-width="0.9"/>
<text x="457.1" y="479.39" font-size="10.62" text-anchor="end" fill="#1a1a1a">aerobic electron transport chain</text>
<line x1="458.4" y1="474.64" x2="461" y2="474.64" stroke="#333333" stroke-width="0.9"/>
<text x="457.1" y="500.85" font-size="10.62" text-anchor="end" fill="#1a1a1a">response to decreased oxygen levels</text>
<line x1="458.4" y1="496.1" x2="461" y2="496.1" stroke="#333333" stroke-width="0.9"/>
<text x="457.1" y="516.51" font-size="10.62" text-anchor="end" fill="#1a1a1a">proton motive force−driven</text>
<text x="457.1" y="526.51" font-size="10.62" text-anchor="end" fill="#1a1a1a">mitochondrial ATP synthesis</text>
<line x1="458.4" y1="517.56" x2="461" y2="517.56" stroke="#333333" stroke-width="0.9"/>
<text x="457.1" y="543.77" font-size="10.62" text-anchor="end" fill="#1a1a1a">cellular respiration</text>
<line x1="458.4" y1="539.02" x2="461" y2="539.02" stroke="#333333" stroke-width="0.9"/>
<text x="457.1" y="565.23" font-size="10.62" text-anchor="end" fill="#1a1a1a">ATP synthesis coupled electron transport</text>
<line x1="458.4" y1="560.48" x2="461" y2="560.48" stroke="#333333" stroke-width="0.9"/>
<text x="457.1" y="580.89" font-size="10.62" text-anchor="end" fill="#1a1a1a">mitochondrial ATP synthesis</text>
<text x="457.1" y="590.89" font-size="10.62" text-anchor="end" fill="#1a1a1a">coupled electron transport</text>
<line x1="458.4" y1="581.94" x2="461" y2="581.94" stroke="#333333" stroke-width="0.9"/>
<rect x="622.3" y="269.1" width="14.7" height="325.3" fill="#D9D9D9" stroke="#333333" stroke-width="1"/>
<rect x="461" y="269.1" width="161.3" height="325.3" fill="none" stroke="#1a1a1a" stroke-width="1.2"/>
<text x="0" y="0" font-size="7.6" text-anchor="middle" fill="#1a1a1a" transform="translate(626.95,431.75) rotate(90)">GO Biological Processes</text>
<line x1="461" y1="599" x2="622.3" y2="599" stroke="#1a1a1a" stroke-width="1.6"/>
<line x1="462.6" y1="599" x2="462.6" y2="601.5" stroke="#1a1a1a" stroke-width="1"/>
<text x="461.6" y="612.1" font-size="10.5" text-anchor="middle" fill="#262626">0</text>
<line x1="501.18" y1="599" x2="501.18" y2="601.5" stroke="#1a1a1a" stroke-width="1"/>
<text x="500.18" y="612.1" font-size="10.5" text-anchor="middle" fill="#262626">25</text>
<line x1="539.75" y1="599" x2="539.75" y2="601.5" stroke="#1a1a1a" stroke-width="1"/>
<text x="538.75" y="612.1" font-size="10.5" text-anchor="middle" fill="#262626">50</text>
<line x1="578.33" y1="599" x2="578.33" y2="601.5" stroke="#1a1a1a" stroke-width="1"/>
<text x="577.33" y="612.1" font-size="10.5" text-anchor="middle" fill="#262626">75</text>
<line x1="616.9" y1="599" x2="616.9" y2="601.5" stroke="#1a1a1a" stroke-width="1"/>
<text x="615.9" y="612.1" font-size="10.5" text-anchor="middle" fill="#262626">100</text>
<text x="542" y="622.6" font-size="10.5" text-anchor="middle" fill="#1a1a1a">Enrich factor</text>
<text x="545" y="264.8" font-size="12.1" text-anchor="middle" font-weight="bold" fill="#111">Down regulated</text>
<linearGradient id="g359" x1="0" y1="0" x2="0" y2="1"><stop offset="0" stop-color="#ff0000"/><stop offset="0.05" stop-color="#fb001a"/><stop offset="0.1" stop-color="#f6002a"/><stop offset="0.15" stop-color="#f20037"/><stop offset="0.2" stop-color="#ed0044"/><stop offset="0.25" stop-color="#e80050"/><stop offset="0.3" stop-color="#e3005b"/><stop offset="0.35" stop-color="#dd0066"/><stop offset="0.4" stop-color="#d70072"/><stop offset="0.45" stop-color="#d1007d"/><stop offset="0.5" stop-color="#ca0088"/><stop offset="0.55" stop-color="#c20094"/><stop offset="0.6" stop-color="#ba009f"/><stop offset="0.65" stop-color="#b000ab"/><stop offset="0.7" stop-color="#a600b7"/><stop offset="0.75" stop-color="#9a00c3"/><stop offset="0.8" stop-color="#8d00ce"/><stop offset="0.85" stop-color="#7c00da"/><stop offset="0.9" stop-color="#6800e7"/><stop offset="0.95" stop-color="#4b00f3"/><stop offset="1" stop-color="#0000ff"/></linearGradient>
<rect x="641.7" y="359.9" width="15.1" height="74.3" fill="url(#g359)" stroke="none" stroke-width="1"/>
<line x1="641.7" y1="364.29" x2="644.5" y2="364.29" stroke="white" stroke-width="0.8"/>
<line x1="654" y1="364.29" x2="656.8" y2="364.29" stroke="white" stroke-width="0.8"/>
<text x="658.4" y="367.39" font-size="8.6" fill="#1a1a1a">9.0</text>
<line x1="641.7" y1="382.59" x2="644.5" y2="382.59" stroke="white" stroke-width="0.8"/>
<line x1="654" y1="382.59" x2="656.8" y2="382.59" stroke="white" stroke-width="0.8"/>
<text x="658.4" y="385.69" font-size="8.6" fill="#1a1a1a">8.5</text>
<line x1="641.7" y1="400.89" x2="644.5" y2="400.89" stroke="white" stroke-width="0.8"/>
<line x1="654" y1="400.89" x2="656.8" y2="400.89" stroke="white" stroke-width="0.8"/>
<text x="658.4" y="403.99" font-size="8.6" fill="#1a1a1a">8.0</text>
<line x1="641.7" y1="419.19" x2="644.5" y2="419.19" stroke="white" stroke-width="0.8"/>
<line x1="654" y1="419.19" x2="656.8" y2="419.19" stroke="white" stroke-width="0.8"/>
<text x="658.4" y="422.29" font-size="8.6" fill="#1a1a1a">7.5</text>
<text x="0" y="0" font-size="8.6" text-anchor="middle" fill="#1a1a1a" transform="translate(680,395) rotate(-90)">−log<tspan font-size="6" dy="1.8">10</tspan><tspan dy="-1.8">(pvalue)</tspan></text>
<text x="640.6" y="461" font-size="9" fill="#1a1a1a">Count</text>
<circle cx="651.7" cy="469.8" r="3.5" fill="black"/>
<text x="662.6" y="472.9" font-size="8.6" fill="#1a1a1a">5</text>
<circle cx="651.7" cy="484.8" r="5.2" fill="black"/>
<text x="662.6" y="487.9" font-size="8.6" fill="#1a1a1a">10</text>
<circle cx="651.7" cy="499.8" r="6.3" fill="black"/>
<text x="662.6" y="502.9" font-size="8.6" fill="#1a1a1a">15</text>
<circle cx="651.7" cy="516.1" r="7.3" fill="black"/>
<text x="662.6" y="519.2" font-size="8.6" fill="#1a1a1a">20</text>
<circle cx="651.7" cy="533.5" r="8.2" fill="black"/>
<text x="662.6" y="536.6" font-size="8.6" fill="#1a1a1a">25</text>
<text transform="matrix(0.04127 0 0 0.07238 25.13 354.3)" font-size="1000" font-weight="bold" fill="#FF00FF">D</text>
<text transform="matrix(0.03748 0 0 0.01003 26.36 362.2)" font-size="1000" font-weight="bold" fill="#FFA500">G</text>
<text transform="matrix(0.04932 0 0 0.00320 24.6 364.9)" font-size="1000" font-weight="bold" fill="#0000CC">L</text>
<text transform="matrix(0.04224 0 0 0.00367 26.68 367.76)" font-size="1000" font-weight="bold" fill="#33AA33">S</text>
<text transform="matrix(0.03874 0 0 0.00422 27.63 370.7)" font-size="1000" font-weight="bold" fill="#0000CC">V</text>
<text transform="matrix(0.04470 0 0 0.00305 24.91 373)" font-size="1000" font-weight="bold" fill="#FFD000">P</text>
<text transform="matrix(0.04303 0 0 0.00378 25.02 375.8)" font-size="1000" font-weight="bold" fill="#33AA33">N</text>
<text transform="matrix(0.04492 0 0 0.04113 50.29 353.1)" font-size="1000" font-weight="bold" fill="#FF00FF">E</text>
<text transform="matrix(0.03907 0 0 0.00494 50.68 356.7)" font-size="1000" font-weight="bold" fill="#CC0000">K</text>
<text transform="matrix(0.03883 0 0 0.00596 52.95 360.8)" font-size="1000" font-weight="bold" fill="#0000CC">X</text>
<text transform="matrix(0.04111 0 0 0.00509 50.55 364.3)" font-size="1000" font-weight="bold" fill="#FF00FF">D</text>
<text transform="matrix(0.03756 0 0 0.00262 52.36 366.3)" font-size="1000" font-weight="bold" fill="#0000CC">A</text>
<text transform="matrix(0.03733 0 0 0.00339 51.77 368.77)" font-size="1000" font-weight="bold" fill="#FFA500">G</text>
<text transform="matrix(0.03859 0 0 0.00203 53.03 370.2)" font-size="1000" font-weight="bold" fill="#0000CC">V</text>
<text transform="matrix(0.04207 0 0 0.00395 52.08 372.96)" font-size="1000" font-weight="bold" fill="#33AA33">S</text>
<text transform="matrix(0.03975 0 0 0.00218 52.62 374.5)" font-size="1000" font-weight="bold" fill="#33AA33">Y</text>
<text transform="matrix(0.03859 0 0 0.00203 53.03 375.9)" font-size="1000" font-weight="bold" fill="#0000CC">V</text>
<text transform="matrix(0.04029 0 0 0.11047 76.2 362.4)" font-size="1000" font-weight="bold" fill="#FF00FF">D</text>
<text transform="matrix(0.03681 0 0 0.00480 77.98 365.8)" font-size="1000" font-weight="bold" fill="#0000CC">A</text>
<text transform="matrix(0.03659 0 0 0.00438 77.4 368.96)" font-size="1000" font-weight="bold" fill="#FFA500">G</text>
<text transform="matrix(0.04364 0 0 0.00480 75.98 372.3)" font-size="1000" font-weight="bold" fill="#FFD000">P</text>
<text transform="matrix(0.04815 0 0 0.00509 75.67 375.9)" font-size="1000" font-weight="bold" fill="#0000CC">L</text>
<text transform="matrix(0.04635 0 0 0.05930 101.49 352.3)" font-size="1000" font-weight="bold" fill="#FF00FF">E</text>
<text transform="matrix(0.05068 0 0 0.00872 101.2 358.4)" font-size="1000" font-weight="bold" fill="#0000CC">L</text>
<text transform="matrix(0.04031 0 0 0.00828 101.9 364.3)" font-size="1000" font-weight="bold" fill="#CC0000">K</text>
<text transform="matrix(0.04241 0 0 0.00538 101.76 368)" font-size="1000" font-weight="bold" fill="#FF00FF">D</text>
<text transform="matrix(0.03982 0 0 0.00378 104.32 370.8)" font-size="1000" font-weight="bold" fill="#0000CC">V</text>
<text transform="matrix(0.04422 0 0 0.00233 101.64 373)" font-size="1000" font-weight="bold" fill="#CC0000">H</text>
<text transform="matrix(0.02889 0 0 0.00276 113.58 375.9)" font-size="1000" font-weight="bold" fill="#0000CC">I</text>
<text transform="matrix(0.04528 0 0 0.01875 128.07 347.9)" font-size="1000" font-weight="bold" fill="#FF00FF">E</text>
<text transform="matrix(0.04144 0 0 0.01047 128.32 355.8)" font-size="1000" font-weight="bold" fill="#FF00FF">D</text>
<text transform="matrix(0.03763 0 0 0.00791 129.56 361.82)" font-size="1000" font-weight="bold" fill="#FFA500">G</text>
<text transform="matrix(0.04488 0 0 0.00320 128.09 364.2)" font-size="1000" font-weight="bold" fill="#FFD000">P</text>
<text transform="matrix(0.02822 0 0 0.00334 139.88 367.6)" font-size="1000" font-weight="bold" fill="#0000CC">I</text>
<text transform="matrix(0.04320 0 0 0.00407 128.21 371)" font-size="1000" font-weight="bold" fill="#33AA33">N</text>
<text transform="matrix(0.04240 0 0 0.00282 129.87 373.37)" font-size="1000" font-weight="bold" fill="#33AA33">S</text>
<text transform="matrix(0.03890 0 0 0.00247 130.83 375.9)" font-size="1000" font-weight="bold" fill="#0000CC">V</text>
<text transform="matrix(0.04528 0 0 0.05581 153.97 352.1)" font-size="1000" font-weight="bold" fill="#FF00FF">E</text>
<text transform="matrix(0.04144 0 0 0.01003 154.22 359.1)" font-size="1000" font-weight="bold" fill="#FF00FF">D</text>
<text transform="matrix(0.03634 0 0 0.00727 154.57 364.4)" font-size="1000" font-weight="bold" fill="#0000CC">M</text>
<text transform="matrix(0.03914 0 0 0.00523 156.65 368)" font-size="1000" font-weight="bold" fill="#0000CC">X</text>
<text transform="matrix(0.03938 0 0 0.00334 154.36 370.3)" font-size="1000" font-weight="bold" fill="#CC0000">K</text>
<text transform="matrix(0.03890 0 0 0.00465 156.73 373.5)" font-size="1000" font-weight="bold" fill="#0000CC">V</text>
<text transform="matrix(0.04951 0 0 0.00334 153.68 375.9)" font-size="1000" font-weight="bold" fill="#0000CC">L</text>
<text transform="matrix(0.04144 0 0 0.06904 179.92 348.6)" font-size="1000" font-weight="bold" fill="#FF00FF">D</text>
<text transform="matrix(0.04528 0 0 0.01773 179.67 360.9)" font-size="1000" font-weight="bold" fill="#FF00FF">E</text>
<text transform="matrix(0.03890 0 0 0.01730 182.43 373.1)" font-size="1000" font-weight="bold" fill="#0000CC">V</text>
<text transform="matrix(0.04006 0 0 0.00392 180.02 375.9)" font-size="1000" font-weight="bold" fill="#CC0000">R</text>
<text transform="matrix(0.04307 0 0 0.03299 205.51 352.1)" font-size="1000" font-weight="bold" fill="#FF00FF">D</text>
<text transform="matrix(0.04407 0 0 0.00523 207.12 355.85)" font-size="1000" font-weight="bold" fill="#33AA33">S</text>
<text transform="matrix(0.04043 0 0 0.00552 208.12 359.7)" font-size="1000" font-weight="bold" fill="#0000CC">V</text>
<text transform="matrix(0.04706 0 0 0.00392 205.25 362.6)" font-size="1000" font-weight="bold" fill="#FF00FF">E</text>
<text transform="matrix(0.04307 0 0 0.00378 205.51 365.2)" font-size="1000" font-weight="bold" fill="#FF00FF">D</text>
<text transform="matrix(0.03911 0 0 0.00297 206.8 367.37)" font-size="1000" font-weight="bold" fill="#FFA500">G</text>
<text transform="matrix(0.04164 0 0 0.00262 205.61 369.2)" font-size="1000" font-weight="bold" fill="#CC0000">R</text>
<text transform="matrix(0.04664 0 0 0.00262 205.27 371)" font-size="1000" font-weight="bold" fill="#FFD000">P</text>
<text transform="matrix(0.04407 0 0 0.00226 207.12 372.58)" font-size="1000" font-weight="bold" fill="#33AA33">S</text>
<text transform="matrix(0.03934 0 0 0.00480 207.42 375.9)" font-size="1000" font-weight="bold" fill="#0000CC">A</text>
<line x1="27.6" y1="262.3" x2="27.6" y2="375.9" stroke="#111" stroke-width="1.2"/>
<line x1="23" y1="375.8" x2="27.6" y2="375.8" stroke="#111" stroke-width="1"/>
<text x="21.6" y="379.1" font-size="9.3" text-anchor="end" fill="#111">0</text>
<line x1="23" y1="349.43" x2="27.6" y2="349.43" stroke="#111" stroke-width="1"/>
<text x="21.6" y="352.73" font-size="9.3" text-anchor="end" fill="#111">1</text>
<line x1="23" y1="323.06" x2="27.6" y2="323.06" stroke="#111" stroke-width="1"/>
<text x="21.6" y="326.36" font-size="9.3" text-anchor="end" fill="#111">2</text>
<line x1="23" y1="296.69" x2="27.6" y2="296.69" stroke="#111" stroke-width="1"/>
<text x="21.6" y="299.99" font-size="9.3" text-anchor="end" fill="#111">3</text>
<line x1="23" y1="270.32" x2="27.6" y2="270.32" stroke="#111" stroke-width="1"/>
<text x="21.6" y="273.62" font-size="9.3" text-anchor="end" fill="#111">4</text>
<text x="0" y="0" font-size="9.8" text-anchor="middle" fill="#111" transform="translate(13.3,322.9) rotate(-90)">bits</text>
<text x="0" y="0" font-size="9.5" text-anchor="middle" fill="#111" transform="translate(41.6,379.5) rotate(-90)">1</text>
<line x1="42.2" y1="377.6" x2="43.8" y2="376.6" stroke="#444" stroke-width="0.7"/>
<text x="0" y="0" font-size="9.5" text-anchor="middle" fill="#111" transform="translate(67,379.5) rotate(-90)">2</text>
<line x1="67.6" y1="377.6" x2="69.2" y2="376.6" stroke="#444" stroke-width="0.7"/>
<text x="0" y="0" font-size="9.5" text-anchor="middle" fill="#111" transform="translate(92.35,379.5) rotate(-90)">3</text>
<line x1="92.95" y1="377.6" x2="94.55" y2="376.6" stroke="#444" stroke-width="0.7"/>
<text x="0" y="0" font-size="9.5" text-anchor="middle" fill="#111" transform="translate(118.7,379.5) rotate(-90)">4</text>
<line x1="119.3" y1="377.6" x2="120.9" y2="376.6" stroke="#444" stroke-width="0.7"/>
<text x="0" y="0" font-size="9.5" text-anchor="middle" fill="#111" transform="translate(144.9,379.5) rotate(-90)">5</text>
<line x1="145.5" y1="377.6" x2="147.1" y2="376.6" stroke="#444" stroke-width="0.7"/>
<text x="0" y="0" font-size="9.5" text-anchor="middle" fill="#111" transform="translate(170.8,379.5) rotate(-90)">6</text>
<line x1="171.4" y1="377.6" x2="173" y2="376.6" stroke="#444" stroke-width="0.7"/>
<text x="0" y="0" font-size="9.5" text-anchor="middle" fill="#111" transform="translate(196.5,379.5) rotate(-90)">7</text>
<line x1="197.1" y1="377.6" x2="198.7" y2="376.6" stroke="#444" stroke-width="0.7"/>
<text x="0" y="0" font-size="9.5" text-anchor="middle" fill="#111" transform="translate(222.7,379.5) rotate(-90)">8</text>
<line x1="223.3" y1="377.6" x2="224.9" y2="376.6" stroke="#444" stroke-width="0.7"/>
<text x="217.5" y="383.4" font-size="2.4" text-anchor="middle" fill="#777">Created by WebLogo 3.7.8 at 2024</text>
<rect x="31.5" y="400" width="56.2" height="213.1" fill="#CCCCCC" stroke="none" stroke-width="1"/>
<rect x="135.6" y="400" width="57.6" height="213.1" fill="#CCCCCC" stroke="none" stroke-width="1"/>
<line x1="135.5" y1="400" x2="135.5" y2="613.1" stroke="#7A7A7A" stroke-width="0.9" stroke-dasharray="4.3 7.58" stroke-dashoffset="2.38"/>
<text x="59.2" y="412.1" font-size="7.45" text-anchor="middle" fill="#1a1a1a">overall</text>
<text x="59.2" y="421" font-size="7.45" text-anchor="middle" fill="#1a1a1a">2276 genes</text>
<text x="111.3" y="412.1" font-size="7.45" text-anchor="middle" fill="#1a1a1a">increased</text>
<text x="111.3" y="421" font-size="7.45" text-anchor="middle" fill="#1a1a1a">194 genes</text>
<text x="161.2" y="412.1" font-size="7.45" text-anchor="middle" fill="#1a1a1a">overall</text>
<text x="161.2" y="421" font-size="7.45" text-anchor="middle" fill="#1a1a1a">2276 genes</text>
<text x="214" y="412.1" font-size="7.45" text-anchor="middle" fill="#1a1a1a">increased</text>
<text x="214" y="421" font-size="7.45" text-anchor="middle" fill="#1a1a1a">194 genes</text>
<text x="71.6" y="452.6" font-size="7.4" fill="#1a1a1a"><tspan font-style="italic">P</tspan> = 6.3e-4</text>
<line x1="77.2" y1="454.8" x2="98.9" y2="454.8" stroke="#111" stroke-width="0.9"/>
<text x="175.8" y="452.8" font-size="7.4" fill="#1a1a1a"><tspan font-style="italic">P</tspan> = 0.308</text>
<line x1="181.7" y1="454.7" x2="203.8" y2="454.7" stroke="#111" stroke-width="0.9"/>
<path d="M76.9,478.05 L76.3,478.05 L76.22,478.52 L76.12,478.99 L76.02,479.46 L75.9,479.93 L75.77,480.4 L75.62,480.87 L75.46,481.34 L75.29,481.81 L75.09,482.28 L74.88,482.75 L74.64,483.22 L74.39,483.69 L74.11,484.16 L73.8,484.63 L73.47,485.1 L73.12,485.57 L72.73,486.04 L72.31,486.51 L71.87,486.98 L71.39,487.45 L70.88,487.92 L70.34,488.39 L69.76,488.86 L69.15,489.33 L68.5,489.8 L67.82,490.27 L67.1,490.74 L66.35,491.21 L65.57,491.68 L64.76,492.15 L63.91,492.62 L63.03,493.09 L62.13,493.56 L61.2,494.03 L60.25,494.5 L59.28,494.97 L58.29,495.44 L57.28,495.91 L56.27,496.38 L55.25,496.85 L54.23,497.32 L53.21,497.79 L52.19,498.26 L51.19,498.73 L50.2,499.2 L49.24,499.67 L48.3,500.14 L47.39,500.61 L46.52,501.08 L45.68,501.55 L44.9,502.02 L44.16,502.49 L43.47,502.96 L42.85,503.43 L42.28,503.9 L41.78,504.37 L41.35,504.84 L40.99,505.3 L40.71,505.77 L40.5,506.24 L40.36,506.71 L40.3,507.18 L40.33,507.65 L40.44,508.12 L40.65,508.59 L40.95,509.06 L41.34,509.53 L41.81,510 L42.37,510.47 L43,510.94 L43.71,511.41 L44.48,511.88 L45.32,512.35 L46.22,512.82 L47.16,513.29 L48.15,513.76 L49.18,514.23 L50.24,514.7 L51.32,515.17 L52.42,515.64 L53.54,516.11 L54.66,516.58 L55.78,517.05 L56.89,517.52 L58,517.99 L59.09,518.46 L60.16,518.93 L61.2,519.4 L62.22,519.87 L63.21,520.34 L64.16,520.81 L65.08,521.28 L65.95,521.75 L66.79,522.22 L67.59,522.69 L68.35,523.16 L69.07,523.63 L69.74,524.1 L70.37,524.57 L70.96,525.04 L71.52,525.51 L72.03,525.98 L72.51,526.45 L72.94,526.92 L73.35,527.39 L73.72,527.86 L74.06,528.33 L74.37,528.8 L74.65,529.27 L74.91,529.74 L75.14,530.21 L75.35,530.68 L75.53,531.15 L75.7,531.62 L75.85,532.09 L75.98,532.56 L76.1,533.03 L76.21,533.5 L76.3,533.97 L76.9,533.97 Z" fill="#C6E4BF" stroke="none"/>
<path d="M76.9,478.05 L76.3,478.05 L76.22,478.52 L76.12,478.99 L76.02,479.46 L75.9,479.93 L75.77,480.4 L75.62,480.87 L75.46,481.34 L75.29,481.81 L75.09,482.28 L74.88,482.75 L74.64,483.22 L74.39,483.69 L74.11,484.16 L73.8,484.63 L73.47,485.1 L73.12,485.57 L72.73,486.04 L72.31,486.51 L71.87,486.98 L71.39,487.45 L70.88,487.92 L70.34,488.39 L69.76,488.86 L69.15,489.33 L68.5,489.8 L67.82,490.27 L67.1,490.74 L66.35,491.21 L65.57,491.68 L64.76,492.15 L63.91,492.62 L63.03,493.09 L62.13,493.56 L61.2,494.03 L60.25,494.5 L59.28,494.97 L58.29,495.44 L57.28,495.91 L56.27,496.38 L55.25,496.85 L54.23,497.32 L53.21,497.79 L52.19,498.26 L51.19,498.73 L50.2,499.2 L49.24,499.67 L48.3,500.14 L47.39,500.61 L46.52,501.08 L45.68,501.55 L44.9,502.02 L44.16,502.49 L43.47,502.96 L42.85,503.43 L42.28,503.9 L41.78,504.37 L41.35,504.84 L40.99,505.3 L40.71,505.77 L40.5,506.24 L40.36,506.71 L40.3,507.18 L40.33,507.65 L40.44,508.12 L40.65,508.59 L40.95,509.06 L41.34,509.53 L41.81,510 L42.37,510.47 L43,510.94 L43.71,511.41 L44.48,511.88 L45.32,512.35 L46.22,512.82 L47.16,513.29 L48.15,513.76 L49.18,514.23 L50.24,514.7 L51.32,515.17 L52.42,515.64 L53.54,516.11 L54.66,516.58 L55.78,517.05 L56.89,517.52 L58,517.99 L59.09,518.46 L60.16,518.93 L61.2,519.4 L62.22,519.87 L63.21,520.34 L64.16,520.81 L65.08,521.28 L65.95,521.75 L66.79,522.22 L67.59,522.69 L68.35,523.16 L69.07,523.63 L69.74,524.1 L70.37,524.57 L70.96,525.04 L71.52,525.51 L72.03,525.98 L72.51,526.45 L72.94,526.92 L73.35,527.39 L73.72,527.86 L74.06,528.33 L74.37,528.8 L74.65,529.27 L74.91,529.74 L75.14,530.21 L75.35,530.68 L75.53,531.15 L75.7,531.62 L75.85,532.09 L75.98,532.56 L76.1,533.03 L76.21,533.5 L76.3,533.97 L76.9,533.97" fill="none" stroke="#4DB045" stroke-width="0.9" stroke-linejoin="round"/>
<line x1="76.6" y1="461.1" x2="76.6" y2="478.55" stroke="#4DB045" stroke-width="0.7"/>
<line x1="76.6" y1="533.47" x2="76.6" y2="554.8" stroke="#4DB045" stroke-width="0.7"/>
<path d="M99,489.16 L99.6,489.16 L99.63,489.48 L99.65,489.81 L99.68,490.13 L99.71,490.46 L99.74,490.78 L99.77,491.11 L99.8,491.43 L99.83,491.76 L99.86,492.08 L99.9,492.41 L99.93,492.73 L99.96,493.06 L99.99,493.38 L100.03,493.71 L100.06,494.03 L100.1,494.36 L100.13,494.68 L100.17,495.01 L100.21,495.33 L100.24,495.66 L100.28,495.98 L100.31,496.31 L100.35,496.63 L100.39,496.96 L100.42,497.28 L100.46,497.61 L100.49,497.93 L100.53,498.26 L100.56,498.58 L100.6,498.91 L100.63,499.23 L100.67,499.56 L100.7,499.88 L100.73,500.21 L100.77,500.53 L100.8,500.86 L100.83,501.19 L100.86,501.51 L100.89,501.84 L100.91,502.16 L100.94,502.49 L100.97,502.81 L100.99,503.14 L101.01,503.46 L101.04,503.79 L101.06,504.11 L101.08,504.44 L101.1,504.76 L101.11,505.09 L101.13,505.41 L101.14,505.74 L101.16,506.06 L101.17,506.39 L101.18,506.71 L101.18,507.04 L101.19,507.36 L101.19,507.69 L101.2,508.01 L101.2,508.34 L101.2,508.66 L101.2,508.99 L101.19,509.31 L101.19,509.64 L101.18,509.96 L101.18,510.29 L101.17,510.61 L101.16,510.94 L101.14,511.26 L101.13,511.59 L101.11,511.91 L101.1,512.24 L101.08,512.56 L101.06,512.89 L101.04,513.21 L101.01,513.54 L100.99,513.86 L100.97,514.19 L100.94,514.51 L100.91,514.84 L100.89,515.16 L100.86,515.49 L100.83,515.81 L100.8,516.14 L100.77,516.47 L100.73,516.79 L100.7,517.12 L100.67,517.44 L100.63,517.77 L100.6,518.09 L100.56,518.42 L100.53,518.74 L100.49,519.07 L100.46,519.39 L100.42,519.72 L100.39,520.04 L100.35,520.37 L100.31,520.69 L100.28,521.02 L100.24,521.34 L100.21,521.67 L100.17,521.99 L100.13,522.32 L100.1,522.64 L100.06,522.97 L100.03,523.29 L99.99,523.62 L99.96,523.94 L99.93,524.27 L99.9,524.59 L99.86,524.92 L99.83,525.24 L99.8,525.57 L99.77,525.89 L99.74,526.22 L99.71,526.54 L99.68,526.87 L99.65,527.19 L99.63,527.52 L99.6,527.84 L99,527.84 Z" fill="#C6E4BF" stroke="none"/>
<path d="M99,489.16 L99.6,489.16 L99.63,489.48 L99.65,489.81 L99.68,490.13 L99.71,490.46 L99.74,490.78 L99.77,491.11 L99.8,491.43 L99.83,491.76 L99.86,492.08 L99.9,492.41 L99.93,492.73 L99.96,493.06 L99.99,493.38 L100.03,493.71 L100.06,494.03 L100.1,494.36 L100.13,494.68 L100.17,495.01 L100.21,495.33 L100.24,495.66 L100.28,495.98 L100.31,496.31 L100.35,496.63 L100.39,496.96 L100.42,497.28 L100.46,497.61 L100.49,497.93 L100.53,498.26 L100.56,498.58 L100.6,498.91 L100.63,499.23 L100.67,499.56 L100.7,499.88 L100.73,500.21 L100.77,500.53 L100.8,500.86 L100.83,501.19 L100.86,501.51 L100.89,501.84 L100.91,502.16 L100.94,502.49 L100.97,502.81 L100.99,503.14 L101.01,503.46 L101.04,503.79 L101.06,504.11 L101.08,504.44 L101.1,504.76 L101.11,505.09 L101.13,505.41 L101.14,505.74 L101.16,506.06 L101.17,506.39 L101.18,506.71 L101.18,507.04 L101.19,507.36 L101.19,507.69 L101.2,508.01 L101.2,508.34 L101.2,508.66 L101.2,508.99 L101.19,509.31 L101.19,509.64 L101.18,509.96 L101.18,510.29 L101.17,510.61 L101.16,510.94 L101.14,511.26 L101.13,511.59 L101.11,511.91 L101.1,512.24 L101.08,512.56 L101.06,512.89 L101.04,513.21 L101.01,513.54 L100.99,513.86 L100.97,514.19 L100.94,514.51 L100.91,514.84 L100.89,515.16 L100.86,515.49 L100.83,515.81 L100.8,516.14 L100.77,516.47 L100.73,516.79 L100.7,517.12 L100.67,517.44 L100.63,517.77 L100.6,518.09 L100.56,518.42 L100.53,518.74 L100.49,519.07 L100.46,519.39 L100.42,519.72 L100.39,520.04 L100.35,520.37 L100.31,520.69 L100.28,521.02 L100.24,521.34 L100.21,521.67 L100.17,521.99 L100.13,522.32 L100.1,522.64 L100.06,522.97 L100.03,523.29 L99.99,523.62 L99.96,523.94 L99.93,524.27 L99.9,524.59 L99.86,524.92 L99.83,525.24 L99.8,525.57 L99.77,525.89 L99.74,526.22 L99.71,526.54 L99.68,526.87 L99.65,527.19 L99.63,527.52 L99.6,527.84 L99,527.84" fill="none" stroke="#4DB045" stroke-width="0.6" stroke-linejoin="round"/>
<line x1="99.3" y1="475.1" x2="99.3" y2="489.66" stroke="#4DB045" stroke-width="0.6"/>
<line x1="99.3" y1="527.34" x2="99.3" y2="544.3" stroke="#4DB045" stroke-width="0.6"/>
<path d="M180.9,479.58 L180.3,479.58 L180.22,480.05 L180.12,480.52 L180.02,480.99 L179.9,481.46 L179.77,481.93 L179.63,482.4 L179.47,482.87 L179.29,483.34 L179.1,483.81 L178.88,484.28 L178.65,484.75 L178.39,485.21 L178.12,485.68 L177.81,486.15 L177.48,486.62 L177.13,487.09 L176.75,487.56 L176.33,488.03 L175.89,488.5 L175.41,488.97 L174.91,489.44 L174.37,489.91 L173.79,490.38 L173.19,490.85 L172.54,491.32 L171.87,491.79 L171.16,492.26 L170.41,492.73 L169.64,493.19 L168.83,493.66 L167.99,494.13 L167.12,494.6 L166.23,495.07 L165.3,495.54 L164.36,496.01 L163.4,496.48 L162.42,496.95 L161.42,497.42 L160.42,497.89 L159.41,498.36 L158.39,498.83 L157.38,499.3 L156.38,499.77 L155.38,500.24 L154.41,500.7 L153.45,501.17 L152.52,501.64 L151.62,502.11 L150.75,502.58 L149.93,503.05 L149.15,503.52 L148.42,503.99 L147.74,504.46 L147.12,504.93 L146.56,505.4 L146.07,505.87 L145.64,506.34 L145.29,506.81 L145,507.28 L144.79,507.75 L144.66,508.22 L144.6,508.68 L144.63,509.15 L144.74,509.62 L144.95,510.09 L145.25,510.56 L145.63,511.03 L146.1,511.5 L146.65,511.97 L147.28,512.44 L147.98,512.91 L148.74,513.38 L149.57,513.85 L150.46,514.32 L151.39,514.79 L152.37,515.26 L153.39,515.73 L154.44,516.19 L155.51,516.66 L156.6,517.13 L157.71,517.6 L158.82,518.07 L159.93,518.54 L161.03,519.01 L162.13,519.48 L163.21,519.95 L164.27,520.42 L165.3,520.89 L166.31,521.36 L167.29,521.83 L168.24,522.3 L169.15,522.77 L170.02,523.24 L170.85,523.7 L171.64,524.17 L172.4,524.64 L173.11,525.11 L173.78,525.58 L174.4,526.05 L174.99,526.52 L175.54,526.99 L176.05,527.46 L176.52,527.93 L176.96,528.4 L177.36,528.87 L177.73,529.34 L178.07,529.81 L178.38,530.28 L178.66,530.75 L178.91,531.22 L179.14,531.68 L179.35,532.15 L179.54,532.62 L179.7,533.09 L179.85,533.56 L179.98,534.03 L180.1,534.5 L180.21,534.97 L180.3,535.44 L180.9,535.44 Z" fill="#FDD3AE" stroke="none"/>
<path d="M180.9,479.58 L180.3,479.58 L180.22,480.05 L180.12,480.52 L180.02,480.99 L179.9,481.46 L179.77,481.93 L179.63,482.4 L179.47,482.87 L179.29,483.34 L179.1,483.81 L178.88,484.28 L178.65,484.75 L178.39,485.21 L178.12,485.68 L177.81,486.15 L177.48,486.62 L177.13,487.09 L176.75,487.56 L176.33,488.03 L175.89,488.5 L175.41,488.97 L174.91,489.44 L174.37,489.91 L173.79,490.38 L173.19,490.85 L172.54,491.32 L171.87,491.79 L171.16,492.26 L170.41,492.73 L169.64,493.19 L168.83,493.66 L167.99,494.13 L167.12,494.6 L166.23,495.07 L165.3,495.54 L164.36,496.01 L163.4,496.48 L162.42,496.95 L161.42,497.42 L160.42,497.89 L159.41,498.36 L158.39,498.83 L157.38,499.3 L156.38,499.77 L155.38,500.24 L154.41,500.7 L153.45,501.17 L152.52,501.64 L151.62,502.11 L150.75,502.58 L149.93,503.05 L149.15,503.52 L148.42,503.99 L147.74,504.46 L147.12,504.93 L146.56,505.4 L146.07,505.87 L145.64,506.34 L145.29,506.81 L145,507.28 L144.79,507.75 L144.66,508.22 L144.6,508.68 L144.63,509.15 L144.74,509.62 L144.95,510.09 L145.25,510.56 L145.63,511.03 L146.1,511.5 L146.65,511.97 L147.28,512.44 L147.98,512.91 L148.74,513.38 L149.57,513.85 L150.46,514.32 L151.39,514.79 L152.37,515.26 L153.39,515.73 L154.44,516.19 L155.51,516.66 L156.6,517.13 L157.71,517.6 L158.82,518.07 L159.93,518.54 L161.03,519.01 L162.13,519.48 L163.21,519.95 L164.27,520.42 L165.3,520.89 L166.31,521.36 L167.29,521.83 L168.24,522.3 L169.15,522.77 L170.02,523.24 L170.85,523.7 L171.64,524.17 L172.4,524.64 L173.11,525.11 L173.78,525.58 L174.4,526.05 L174.99,526.52 L175.54,526.99 L176.05,527.46 L176.52,527.93 L176.96,528.4 L177.36,528.87 L177.73,529.34 L178.07,529.81 L178.38,530.28 L178.66,530.75 L178.91,531.22 L179.14,531.68 L179.35,532.15 L179.54,532.62 L179.7,533.09 L179.85,533.56 L179.98,534.03 L180.1,534.5 L180.21,534.97 L180.3,535.44 L180.9,535.44" fill="none" stroke="#FF7F0E" stroke-width="1.9" stroke-linejoin="round"/>
<line x1="180.6" y1="459.1" x2="180.6" y2="480.08" stroke="#FF7F0E" stroke-width="1.6"/>
<line x1="180.6" y1="534.94" x2="180.6" y2="547" stroke="#FF7F0E" stroke-width="1.6"/>
<path d="M204.6,487.08 L205.2,487.08 L205.22,487.44 L205.25,487.81 L205.28,488.17 L205.3,488.54 L205.33,488.9 L205.36,489.27 L205.38,489.63 L205.41,490 L205.44,490.36 L205.47,490.73 L205.5,491.09 L205.53,491.46 L205.56,491.82 L205.59,492.19 L205.62,492.55 L205.65,492.92 L205.68,493.28 L205.71,493.65 L205.74,494.01 L205.78,494.38 L205.81,494.74 L205.84,495.11 L205.87,495.47 L205.9,495.84 L205.93,496.2 L205.97,496.57 L206,496.93 L206.03,497.3 L206.06,497.66 L206.09,498.03 L206.12,498.39 L206.15,498.76 L206.18,499.12 L206.2,499.49 L206.23,499.85 L206.26,500.22 L206.28,500.58 L206.31,500.95 L206.33,501.32 L206.36,501.68 L206.38,502.05 L206.4,502.41 L206.42,502.78 L206.44,503.14 L206.46,503.51 L206.48,503.87 L206.5,504.24 L206.51,504.6 L206.53,504.97 L206.54,505.33 L206.55,505.7 L206.56,506.06 L206.57,506.43 L206.58,506.79 L206.59,507.16 L206.59,507.52 L206.6,507.89 L206.6,508.25 L206.6,508.62 L206.6,508.98 L206.6,509.35 L206.6,509.71 L206.59,510.08 L206.59,510.44 L206.58,510.81 L206.57,511.17 L206.56,511.54 L206.55,511.9 L206.54,512.27 L206.53,512.63 L206.51,513 L206.5,513.36 L206.48,513.73 L206.46,514.09 L206.44,514.46 L206.42,514.82 L206.4,515.19 L206.38,515.55 L206.36,515.92 L206.33,516.28 L206.31,516.65 L206.28,517.02 L206.26,517.38 L206.23,517.75 L206.2,518.11 L206.18,518.48 L206.15,518.84 L206.12,519.21 L206.09,519.57 L206.06,519.94 L206.03,520.3 L206,520.67 L205.97,521.03 L205.93,521.4 L205.9,521.76 L205.87,522.13 L205.84,522.49 L205.81,522.86 L205.78,523.22 L205.74,523.59 L205.71,523.95 L205.68,524.32 L205.65,524.68 L205.62,525.05 L205.59,525.41 L205.56,525.78 L205.53,526.14 L205.5,526.51 L205.47,526.87 L205.44,527.24 L205.41,527.6 L205.38,527.97 L205.36,528.33 L205.33,528.7 L205.3,529.06 L205.28,529.43 L205.25,529.79 L205.22,530.16 L205.2,530.52 L204.6,530.52 Z" fill="#FDD3AE" stroke="none"/>
<path d="M204.6,487.08 L205.2,487.08 L205.22,487.44 L205.25,487.81 L205.28,488.17 L205.3,488.54 L205.33,488.9 L205.36,489.27 L205.38,489.63 L205.41,490 L205.44,490.36 L205.47,490.73 L205.5,491.09 L205.53,491.46 L205.56,491.82 L205.59,492.19 L205.62,492.55 L205.65,492.92 L205.68,493.28 L205.71,493.65 L205.74,494.01 L205.78,494.38 L205.81,494.74 L205.84,495.11 L205.87,495.47 L205.9,495.84 L205.93,496.2 L205.97,496.57 L206,496.93 L206.03,497.3 L206.06,497.66 L206.09,498.03 L206.12,498.39 L206.15,498.76 L206.18,499.12 L206.2,499.49 L206.23,499.85 L206.26,500.22 L206.28,500.58 L206.31,500.95 L206.33,501.32 L206.36,501.68 L206.38,502.05 L206.4,502.41 L206.42,502.78 L206.44,503.14 L206.46,503.51 L206.48,503.87 L206.5,504.24 L206.51,504.6 L206.53,504.97 L206.54,505.33 L206.55,505.7 L206.56,506.06 L206.57,506.43 L206.58,506.79 L206.59,507.16 L206.59,507.52 L206.6,507.89 L206.6,508.25 L206.6,508.62 L206.6,508.98 L206.6,509.35 L206.6,509.71 L206.59,510.08 L206.59,510.44 L206.58,510.81 L206.57,511.17 L206.56,511.54 L206.55,511.9 L206.54,512.27 L206.53,512.63 L206.51,513 L206.5,513.36 L206.48,513.73 L206.46,514.09 L206.44,514.46 L206.42,514.82 L206.4,515.19 L206.38,515.55 L206.36,515.92 L206.33,516.28 L206.31,516.65 L206.28,517.02 L206.26,517.38 L206.23,517.75 L206.2,518.11 L206.18,518.48 L206.15,518.84 L206.12,519.21 L206.09,519.57 L206.06,519.94 L206.03,520.3 L206,520.67 L205.97,521.03 L205.93,521.4 L205.9,521.76 L205.87,522.13 L205.84,522.49 L205.81,522.86 L205.78,523.22 L205.74,523.59 L205.71,523.95 L205.68,524.32 L205.65,524.68 L205.62,525.05 L205.59,525.41 L205.56,525.78 L205.53,526.14 L205.5,526.51 L205.47,526.87 L205.44,527.24 L205.41,527.6 L205.38,527.97 L205.36,528.33 L205.33,528.7 L205.3,529.06 L205.28,529.43 L205.25,529.79 L205.22,530.16 L205.2,530.52 L204.6,530.52" fill="none" stroke="#FF7F0E" stroke-width="0.9" stroke-linejoin="round"/>
<line x1="204.9" y1="461.6" x2="204.9" y2="487.58" stroke="#FF7F0E" stroke-width="0.9"/>
<line x1="204.9" y1="530.02" x2="204.9" y2="592.8" stroke="#FF7F0E" stroke-width="0.9"/>
<line x1="77.45" y1="482.7" x2="77.45" y2="500.2" stroke="#111" stroke-width="1.5"/>
<line x1="77.45" y1="512.2" x2="77.45" y2="529.4" stroke="#111" stroke-width="1.5"/>
<line x1="75.15" y1="482.7" x2="79.75" y2="482.7" stroke="#111" stroke-width="1.5"/>
<line x1="75.15" y1="529.4" x2="79.75" y2="529.4" stroke="#111" stroke-width="1.5"/>
<rect x="72.4" y="501.1" width="10.1" height="10.2" fill="white" stroke="#111" stroke-width="1.9"/>
<line x1="72.4" y1="506.1" x2="82.5" y2="506.1" stroke="#111" stroke-width="1.9"/>
<line x1="98.8" y1="487.9" x2="98.8" y2="502.3" stroke="#111" stroke-width="1.5"/>
<line x1="98.8" y1="514.2" x2="98.8" y2="529.4" stroke="#111" stroke-width="1.5"/>
<line x1="96.5" y1="487.9" x2="101.1" y2="487.9" stroke="#111" stroke-width="1.5"/>
<line x1="96.5" y1="529.4" x2="101.1" y2="529.4" stroke="#111" stroke-width="1.5"/>
<rect x="93.6" y="503.2" width="10.4" height="10.1" fill="white" stroke="#111" stroke-width="1.9"/>
<line x1="93.6" y1="508.7" x2="104" y2="508.7" stroke="#111" stroke-width="1.9"/>
<line x1="181.55" y1="477.7" x2="181.55" y2="500.4" stroke="#111" stroke-width="1.5"/>
<line x1="181.55" y1="515.6" x2="181.55" y2="537.5" stroke="#111" stroke-width="1.5"/>
<line x1="179.25" y1="477.7" x2="183.85" y2="477.7" stroke="#111" stroke-width="1.5"/>
<line x1="179.25" y1="537.5" x2="183.85" y2="537.5" stroke="#111" stroke-width="1.5"/>
<rect x="176.7" y="501.3" width="9.7" height="13.4" fill="white" stroke="#111" stroke-width="1.9"/>
<line x1="176.7" y1="508.2" x2="186.4" y2="508.2" stroke="#111" stroke-width="1.9"/>
<line x1="204.2" y1="479" x2="204.2" y2="500.6" stroke="#111" stroke-width="1.5"/>
<line x1="204.2" y1="516.4" x2="204.2" y2="538.5" stroke="#111" stroke-width="1.5"/>
<line x1="201.9" y1="479" x2="206.5" y2="479" stroke="#111" stroke-width="1.5"/>
<line x1="201.9" y1="538.5" x2="206.5" y2="538.5" stroke="#111" stroke-width="1.5"/>
<rect x="199.1" y="501.5" width="10.2" height="14" fill="white" stroke="#111" stroke-width="1.9"/>
<line x1="199.1" y1="508.8" x2="209.3" y2="508.8" stroke="#111" stroke-width="1.9"/>
<line x1="31.5" y1="400" x2="239.8" y2="400" stroke="#000" stroke-width="1.7"/>
<line x1="31.5" y1="613.1" x2="239.8" y2="613.1" stroke="#000" stroke-width="1.5"/>
<line x1="31.5" y1="399.15" x2="31.5" y2="613.85" stroke="#000" stroke-width="1.5"/>
<line x1="239.8" y1="399.15" x2="239.8" y2="613.85" stroke="#000" stroke-width="1.8"/>
<line x1="24.3" y1="400.6" x2="31.5" y2="400.6" stroke="#000" stroke-width="1.5"/>
<text x="21.5" y="404.3" font-size="10.3" text-anchor="end" fill="#1a1a1a">2</text>
<line x1="28.2" y1="453.7" x2="31.5" y2="453.7" stroke="#000" stroke-width="1.5"/>
<text x="21.5" y="457.4" font-size="10.3" text-anchor="end" fill="#1a1a1a">1</text>
<line x1="24.3" y1="506.8" x2="31.5" y2="506.8" stroke="#000" stroke-width="1.5"/>
<text x="21.5" y="510.5" font-size="10.3" text-anchor="end" fill="#1a1a1a">0</text>
<line x1="28.2" y1="559.9" x2="31.5" y2="559.9" stroke="#000" stroke-width="1.5"/>
<text x="21.5" y="563.6" font-size="10.3" text-anchor="end" fill="#1a1a1a">-1</text>
<line x1="24.3" y1="613" x2="31.5" y2="613" stroke="#000" stroke-width="1.5"/>
<text x="21.5" y="616.7" font-size="10.3" text-anchor="end" fill="#1a1a1a">-2</text>
<text x="0" y="0" font-size="10.3" text-anchor="middle" fill="#111" transform="translate(9.4,506.3) rotate(-90)">log<tspan font-size="7" dy="2.3">2</tspan><tspan dy="-2.3">(FoldChange)</tspan></text>
<text x="80.8" y="627" font-size="10.5" text-anchor="middle" fill="#111">mRNA level</text>
<text x="188.3" y="627" font-size="10.5" text-anchor="middle" fill="#111">Translation efficiency</text>
<text x="2.5" y="9.1" font-size="11.6" font-weight="bold" fill="#000">a</text>
<text x="316" y="9" font-size="11.6" font-weight="bold" fill="#000">b</text>
<text x="275.3" y="262.4" font-size="11.6" font-weight="bold" fill="#000">c</text>
<text x="2.2" y="261.8" font-size="11.6" font-weight="bold" fill="#000">d</text>
<text x="2.5" y="394" font-size="11.6" font-weight="bold" fill="#000">e</text>
</svg></body></html>
